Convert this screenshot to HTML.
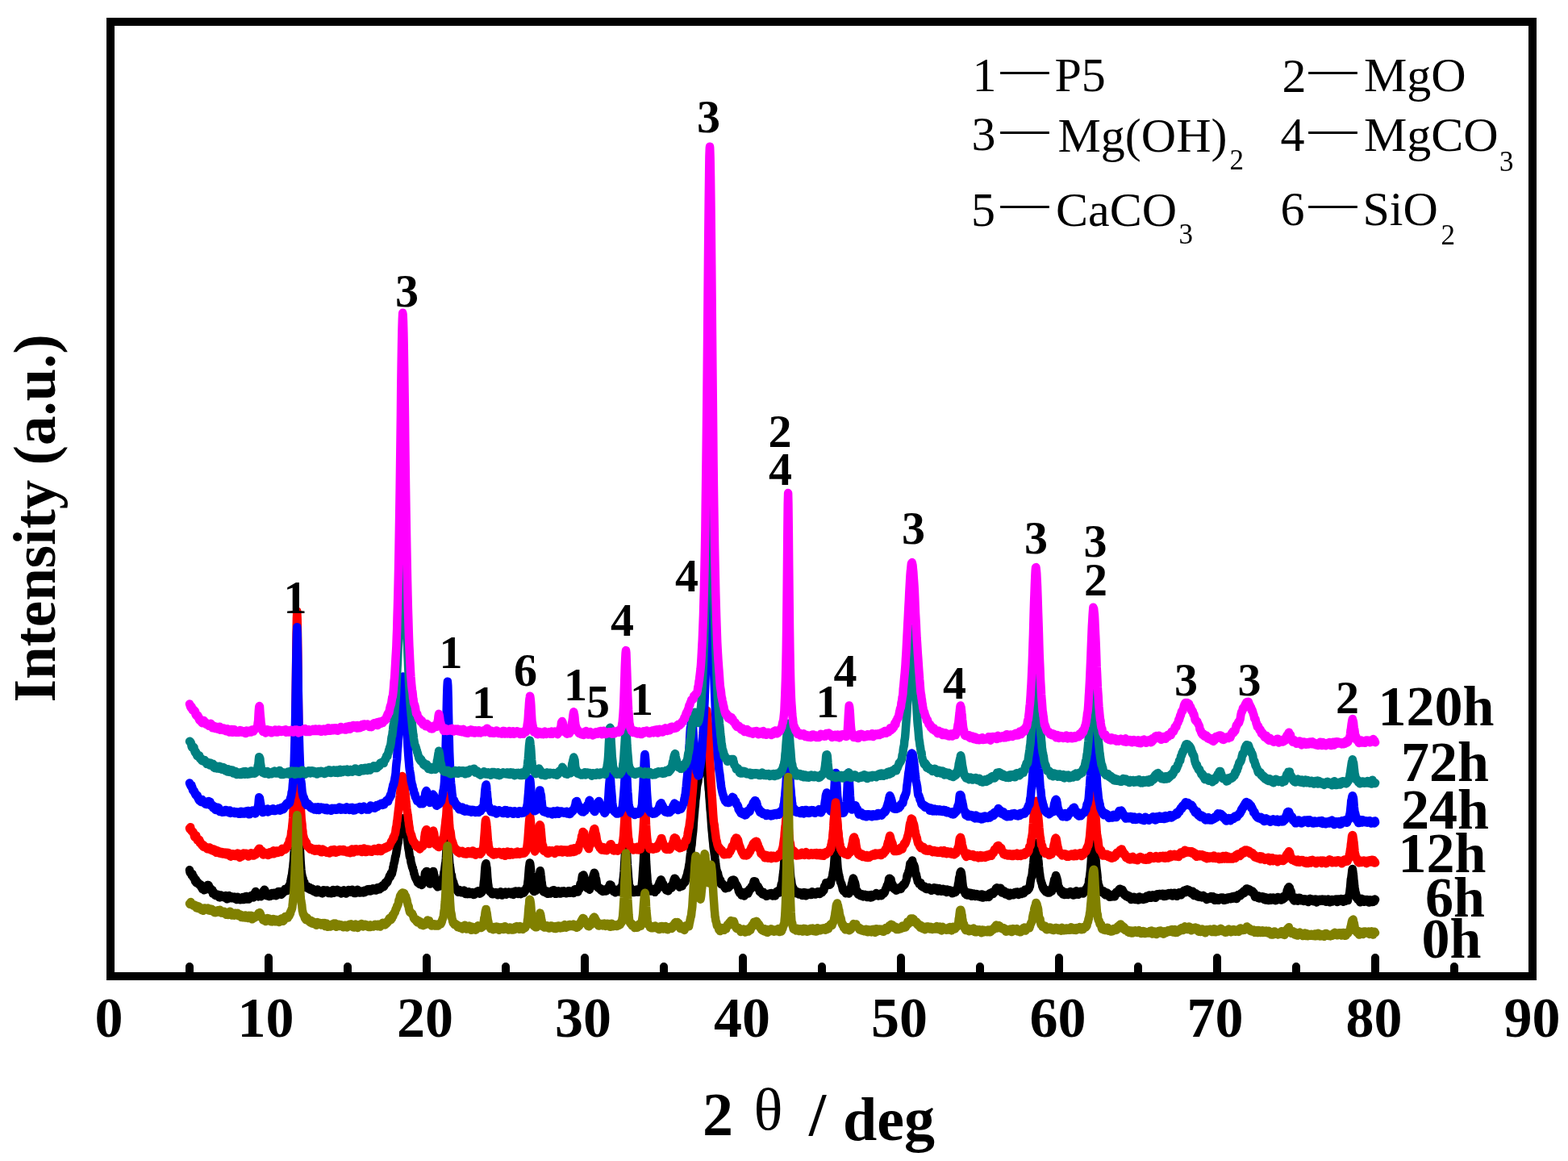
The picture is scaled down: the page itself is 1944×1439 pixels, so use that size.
<!DOCTYPE html>
<html><head><meta charset="utf-8"><title>XRD patterns</title><style>html,body{margin:0;padding:0;background:#fff;overflow:hidden}svg{display:block}</style></head><body>
<svg width="1944" height="1439" viewBox="0 0 1944 1439">
<rect width="1944" height="1439" fill="#fff"/>
<g fill="none" stroke-width="10.5" stroke-linejoin="round" stroke-linecap="round">
<path stroke="#000000" d="M235.0 1078.2l.4 2.4 .4 1.3 .4-.8 .4 .7 .4 .5 .4 1.3 .3 1.4 .4-1.3 .4-.6 .4 2.7 .4 .4 .4 1.6 .4-1.5 .4 1.1 .4 1.8 .4-.5 .4 2.5 .4 1.5 .3-2 .4-.7 .4 1.8 .4 2.5 .4-.3 .4-.4 .4 .8 .4-.9 .4 .4 .4 1.2 .4 .9 .4-.2 .4 0 .3 .1 .4 1.1 .4 0 .4-.7 .4 2.6 .4 .5 .4 .6 .4-1 .4 2.3 .4 .8 .4-1.9 .4-.2 .3 1.3 .4 .7 .4 1.2 .4-1.1 .4 .8 .4-.1 .4-1.4 .4 0 .4 .8 .4 0 .4-1.4 .4-.6 .4-2.5 .3-.6 .4 1.4 .4-.6 .4-.9 .4 1 .4 1.3 .4 .9 .4-.1 .4 .6 .4 .9 .4 1.7 .4 .3 .3 .1 .4 .6 .4-1 .4-.3 .4 2.3 .4 2.2 .4 0 .4-.6 .4-.9 .4 .8 .4 2.1 .4 .5 .4-.5 .3 1 .4-1.6 .4 .2 .4 1.8 .4-.4 .4-.5 .4-.8 .4 .6 .4 1.8 .4-2.2 .4 1.5 .4 1 .3 .8 .4 0 .4 .3 .4-.7 .4-.2 .4-.5 .4-1.4 .4 2.1 .4 0 .4-1.2 .4 .5 .4 .2 .4-.3 .3-.2 .4 .7 .4 .6 .4 .3 .4-.3 .4-1.6 .4-.1 .4-.2 .4 1.3 .4 1.7 .4 .6 .4 .4 .3 .2 .4-1.7 .4 1.2 .4 0 .4-2 .4-1.1 .4-.6 .4 2.3 .4-.5 .4-.8 .4 1.4 .4-.2 .4-1 .3-.2 .4 1.2 .4-.6 .4 .1 .4 1.5 .4 0 .4-.5 .4 .3 .4-1.3 .4 .5 .4 .5 .4-.6 .3-.5 .4 2.5 .4-.1 .4-1 .4 .8 .4 1.2 .4-2.1 .4-1.1 .4-.2 .4 1.9 .4-1 .4 1.3 .4 .6 .3-.2 .4-1.2 .4 1.9 .4 .3 .4-.8 .4-1.4 .4 .7 .4-.5 .4 .3 .4-.7 .4 .7 .4-1.6 .3-.1 .4 2.3 .4 .8 .4-1.6 .4 1.1 .4-1.4 .4 1.5 .4 0 .4-1.1 .4-1.1 .4-1.5 .4 2.3 .4-1.8 .3 1.8 .4 1.3 .4-.7 .4-1.7 .4 1.5 .4 1 .4-.4 .4-.9 .4-.9 .4-.6 .4-.8 .4 1.2 .3-.3 .4-1 .4-.9 .4 1.4 .4-.6 .4 .2 .4-.6 .4 1.4 .4 .6 .4-3 .4-1.3 .4-.6 .4 1.5 .3-.4 .4-2 .4-1.7 .4 .8 .4 1.2 .4 1.4 .4-.9 .4 1.8 .4 .5 .4-.1 .4 1.8 .4-1.5 .3 .9 .4-1.6 .4-.6 .4 2.3 .4-1.4 .4 1.2 .4-.1 .4 .6 .4-1.6 .4-1.1 .4-1.1 .4 1 .4-.8 .3 .3 .4-.4 .4-3 .4 0 .4-1.2 .4-.5 .4 .3 .4 3.3 .4 1.7 .4 1.3 .4-.8 .4 .6 .3 1 .4-.9 .4 .3 .4-1 .4-1 .4 .1 .4 2.2 .4 0 .4 1.2 .4-1 .4-1.2 .4 1.2 .4 .6 .3-2.4 .4 1 .4-1.5 .4-.7 .4 2.2 .4-1.8 .4-.2 .4 2.4 .4-.8 .4-1.5 .4-.6 .4 0 .3 1.6 .4-1.4 .4 2 .4-.8 .4 1.5 .4 .5 .4-1.8 .4-1.2 .4 .2 .4-1.3 .4 1.3 .4-1.6 .4-.9 .3 2.8 .4-1 .4 .5 .4-.3 .4-.7 .4-1.3 .4 2.2 .4 1.3 .4 .5 .4-2.7 .4-1.1 .4 .7 .3 1.6 .4-.9 .4 0 .4-.2 .4-1.5 .4 0 .4-.8 .4-.8 .4-1.1 .4 0 .4 2.2 .4-.8 .4 0 .3-.1 .4 .7 .4-1.8 .4-1.4 .4-.9 .4-.7 .4 1 .4 .4 .4-2.3 .4-1.4 .4-.5 .4-.7 .3-1 .4-2.3 .4-2.8 .4-1.6 .4-2.5 .4-.9 .4-3.5 .4-3.6 .4-2 .4-4.7 .4-3.7 .4-6.5 .4-6.5 .3-11.2 .4-11 .4-12.4 .4-17.9 .4-16.1 .4-20.7 .4-16.5 .4-11.6 .4-4.7 .4 3.1 .4 11.3 .4 18.3 .3 20.7 .4 16.7 .4 17.3 .4 11.6 .4 12.9 .4 7.1 .4 7.5 .4 8.2 .4 5.8 .4 4.9 .4 3.8 .4 2.7 .4 2.3 .3 .3 .4 1.8 .4 .7 .4 2.8 .4 1.8 .4-.1 .4-.2 .4 3.3 .4 1.4 .4 .2 .4 .3 .4 1.5 .3-.4 .4-.2 .4-.2 .4-.1 .4-.7 .4 1.9 .4 .2 .4 .8 .4-1.2 .4 .5 .4-.4 .4-.2 .4 .5 .3 2.2 .4-.3 .4 0 .4 .7 .4-.8 .4-1.2 .4 1.3 .4 .5 .4 .9 .4-.3 .4 .8 .4 .5 .3-1.3 .4 .2 .4 .1 .4-.8 .4 .2 .4 .7 .4 1.5 .4 .8 .4-1.7 .4 .4 .4-1.8 .4-.8 .4 1.1 .3 1.8 .4-1.5 .4 1.3 .4 1 .4-1.4 .4 .7 .4 .8 .4-1.2 .4 .5 .4 .4 .4-.2 .4 .7 .3 .5 .4 .5 .4-1.1 .4-1.8 .4-.7 .4-.5 .4 1 .4 1.1 .4-1.8 .4 1.2 .4 .8 .4-.9 .4 .1 .3-1.1 .4 1.4 .4-1.7 .4 2.4 .4 .6 .4-.4 .4-1.3 .4 1.5 .4 .9 .4-2.4 .4 1 .4 .8 .3-.3 .4 0 .4-.9 .4 1.2 .4 .8 .4-1.6 .4 .6 .4-.9 .4-1.4 .4-.1 .4-.8 .4 2.3 .4 1.3 .3-2.2 .4 .6 .4-.4 .4-1.2 .4 0 .4-.1 .4 1.6 .4-1.7 .4-.2 .4 .7 .4-1 .4 1.5 .3 .7 .4 1.1 .4-1.5 .4-.6 .4 .7 .4-.6 .4 .7 .4-.7 .4 1.1 .4 .9 .4 .5 .4 .8 .4-1 .3-.8 .4 .9 .4 .2 .4-.6 .4-1 .4-.8 .4-1 .4 1.9 .4-1.4 .4 1.4 .4 .1 .4 1.4 .3 0 .4 .8 .4-2.5 .4 0 .4 .2 .4-.8 .4 .3 .4-.4 .4 .4 .4-1.6 .4 .7 .4 .4 .4-.3 .3 .2 .4 1.3 .4 .4 .4-.5 .4 .3 .4-.8 .4-1 .4-1.1 .4 .3 .4 1.3 .4 1.5 .4 .7 .3-.8 .4 1.2 .4-1.2 .4 .7 .4-1.1 .4 .5 .4 1.2 .4-1.8 .4-1.4 .4 .9 .4 .1 .4-.5 .4-1.5 .3 .5 .4 .4 .4 .1 .4 1.6 .4-.1 .4 .4 .4 .8 .4-.2 .4-.9 .4 .4 .4-.2 .4-.1 .3-.1 .4-.8 .4 .3 .4 .2 .4 1.1 .4 0 .4 .2 .4-.2 .4 .1 .4-.7 .4-1.3 .4-.9 .4 1.1 .3 1 .4-.6 .4-1.6 .4 1.4 .4-.5 .4-.3 .4-1.6 .4 .8 .4 1.1 .4-.5 .4-.5 .4 .7 .3-1.8 .4 .7 .4 1.8 .4 0 .4-1 .4 .5 .4-.1 .4-1.5 .4-.7 .4 1.9 .4-1.2 .4-1.3 .4 1.9 .3-.1 .4-.7 .4 .1 .4 .8 .4-1.6 .4 .8 .4 .6 .4 .6 .4-1.7 .4 .3 .4-1.2 .4 .5 .3-1.2 .4 1.5 .4 .9 .4-1.5 .4-1.1 .4 1.8 .4 0 .4 .4 .4-2.7 .4 1.5 .4-.3 .4-1.2 .4-.4 .3 .8 .4 .4 .4-1.9 .4 .3 .4-1.5 .4 1.9 .4-1.1 .4 1 .4-.4 .4-.7 .4-1.7 .4-.2 .3-1.6 .4-1 .4 1.2 .4-.8 .4 .7 .4-1.7 .4 .6 .4-.1 .4-1.7 .4-1.8 .4-.3 .4-.2 .4-1.8 .3-1 .4-1.3 .4 .7 .4 .9 .4-2.3 .4-2.3 .4 .5 .4 .1 .4 0 .4-1.9 .4-2.5 .4-.3 .3-3.4 .4-.5 .4-3.1 .4-1.4 .4-1.3 .4-2 .4-2.8 .4-2.2 .4-.2 .4-2.4 .4-2 .4-3.5 .4-1.3 .3-3.2 .4-2 .4-1.3 .4-1.6 .4-5.4 .4-1.4 .4-1.8 .4-3.9 .4-3 .4-1.8 .4-.8 .4-3.1 .3-.6 .4-1.4 .4-3.2 .4 .6 .4-2.9 .4-1 .2 1.4 .2-1.3 .4 .7 .4 0 .4 1.8 .4 2.9 .4 2.6 .4-.7 .3 .9 .4 4.2 .4 .6 .4 2.4 .4 2 .4 2.2 .4 2.2 .4 4.5 .4 3.9 .4 3.1 .4 3.3 .4 2.2 .3 1.4 .4 2.7 .4 3.6 .4 1.7 .4 .5 .4 .6 .4 4.2 .4 1.9 .4 .9 .4 2.1 .4 1.7 .4 1.4 .4-.2 .3 1.6 .4 1.5 .4 .7 .4 3.2 .4 .5 .4 1.6 .4 1.4 .4 1.3 .4 .9 .4 1 .4-.8 .4 2.3 .3-1.2 .4 2.2 .4 1.2 .4 .9 .4-2 .4-.7 .4 2.4 .4 .2 .4-.1 .4 2.2 .4-1.9 .4 .8 .4 .2 .3-1 .4 .5 .4 1.2 .4 1.1 .4-2.5 .4 .2 .4-1.8 .4 1 .4-2.5 .4-2.3 .4-.8 .4-.3 .3-2.6 .4-3 .4 0 .4-.4 .4-.1 .2-1.6 .2-.2 .4 0 .4 2.2 .4 1.5 .4 1.9 .4 3.4 .4 3.1 .4 .9 .3-.8 .4 1.6 .4 .1 .4 1.7 .4-.5 .4-.5 .4-1.5 .4-2.3 .4-1 .4-1.7 .4-3.7 .4-3 .3-1 .4 .2 .4-.7 .4 1.4 .4 2.7 .4 .8 .4 4.1 .4 2.5 .4 .9 .4 1 .4 1.2 .4 .9 .4 2.2 .3 .3 .4 .4 .4-1.1 .4 2.1 .4-1.1 .4-.7 .4-1.3 .4 2.2 .4-.9 .4 .8 .4 .1 .4-.2 .3-1 .4-.6 .4-.8 .4-1.3 .4-3.6 .4-1 .4-1.1 .4 .1 .4-1.4 .4-1.9 .4-1.7 .4-3.2 .4-.7 .3-2.6 .4-3.5 .4-3.2 .4-1.9 .4-5 .4-7 .4-7.4 .4-5.9 .4-5.9 .4-1.2 .4 1.2 .4 6.5 .3 8.8 .4 5.1 .4 5 .4 5.8 .4 3.3 .4 2.4 .4 2.9 .4 3.6 .4 2.5 .4 .5 .4 1 .4 3.9 .4 1.9 .3 0 .4 2.8 .4-.9 .4 1.2 .4 2.7 .4 1.2 .4-.4 .4 2.1 .4 .4 .4 1.4 .4 1 .4-.8 .3 .6 .4 0 .4 1.6 .4 .4 .4 .2 .4 .5 .4 1 .4-2 .4-1 .4 1.4 .4 .9 .4-.3 .4-.2 .3-.4 .4 1.6 .4 .5 .4-.4 .4-2 .4 1.8 .4-.4 .4-1 .4-.2 .4 1.3 .4-1.6 .4-.4 .3 .4 .4 2.3 .4 .6 .4 1.2 .4-.9 .4-.3 .4-.2 .4-.2 .4 0 .4 .9 .4 1 .4-1.4 .4 .1 .3-1 .4-.6 .4 .5 .4 .5 .4 .1 .4 1.6 .4-2 .4 .6 .4 1.5 .4-.1 .4-.6 .4-.9 .3-.4 .4 1.6 .4 .7 .4-.4 .4 .6 .4 .4 .4-.1 .4-1.6 .4-.5 .4 .8 .4-1 .4 .8 .4-.5 .3-.7 .4 0 .4-1.2 .4 .3 .4 .3 .4-1.2 .4-.1 .4 .3 .4 2.1 .4 .1 .4-1 .4 1.9 .3-1.7 .4 0 .4 .7 .4 0 .4-1.1 .4 .4 .4-1.1 .4-.3 .4-1.5 .4 .1 .4-2 .4-4.5 .4-4 .3-1.4 .4-5.7 .4-6.3 .4-4.7 .4-3 .4-.3 .2-1.1 .2 .9 .4 3 .4 1.7 .4 5.5 .4 6.6 .4 3.7 .3 3.4 .4 2.2 .4 3.9 .4 2.7 .4-1.2 .4 1.3 .4 .4 .4 1.3 .4-1.1 .4 0 .4 .2 .4 .8 .4 1.5 .3 1 .4 .3 .4-.2 .4-2 .4 0 .4 .9 .4-.7 .4 .3 .4 1.5 .4-1.9 .4 1.6 .4-1.8 .3 .1 .4 1.8 .4-1.5 .4 .4 .4-.2 .4 1.5 .4 1.2 .4-1.9 .4-.2 .4 1.3 .4-.6 .4-1.4 .4 1.2 .3-.9 .4 .1 .4-1.6 .4 2.6 .4 .1 .4 1 .4 .6 .4-2 .4-.1 .4-.4 .4 .9 .4 .7 .3-1.7 .4-.7 .4 1.1 .4-.4 .4-1.2 .4-.4 .4 1.1 .4 .6 .4 1.6 .4-.7 .4-.1 .4-1.6 .4 .1 .3-.4 .4 1.2 .4-.9 .4-.6 .4 .2 .4 .5 .4-.2 .4 .7 .4-1 .4 1.8 .4 .3 .4-.4 .3-1.8 .4 0 .4 1.2 .4 .5 .4 .8 .4 .6 .4-1.6 .4-.2 .4-.7 .4-1 .4-.5 .4 .2 .4-.5 .3 1.2 .4 1.2 .4 .1 .4 .5 .4-1.3 .4-.8 .4 .9 .4 1.5 .4-.8 .4-1.9 .4-.8 .4 .5 .3 1.3 .4-1.2 .4-.1 .4 1.5 .4 1.8 .4-1.4 .4 .3 .4-.2 .4-1.8 .4 .1 .4-.6 .4 0 .4 1.7 .3 .5 .4-2 .4-.9 .4 1.6 .4-1.5 .4-.2 .4-.5 .4-1.4 .4-1.2 .4-.9 .4-.4 .4 .5 .3-2.2 .4-4.4 .4-2.9 .4-5.5 .4-4.7 .4-5.3 .4-2.2 .4-3.3 .2 .7 .2 .2 .4 2.9 .4 3.5 .4 5.5 .4 3.7 .3 4.8 .4 3.8 .4 2.7 .4 2.3 .4 1.6 .4 .8 .4 2.4 .4 .5 .4 .1 .4-1.6 .4 .8 .4-.8 .3-.3 .4 .4 .4 .4 .4-1.1 .4-.9 .4-.1 .4-1.1 .4-1.7 .4-3.3 .4-2.2 .4-2.1 .4-3.2 .4-3.3 .3-1.7 .4-1.5 .2-.3 .2-2 .4 1.4 .4 3.9 .4 2.2 .4 5.5 .4 1.5 .4 4.3 .4 .8 .4 3 .4 2 .3-.4 .4 1.9 .4-1.4 .4 1.8 .4-.6 .4-.1 .4-1 .4 1.1 .4-.5 .4 1.1 .4 1 .4-.1 .4-2.1 .3 2.2 .4 1 .4-.5 .4-1.1 .4 .1 .4 1.1 .4-.9 .4 .7 .4-.3 .4-.8 .4 1.4 .4-1.1 .3 .1 .4-1.8 .4 .5 .4-1.3 .4 1.7 .4-1.6 .4-.6 .4-.1 .4 0 .4 1.3 .4 .1 .4-.2 .4 2.3 .3 .9 .4-.5 .4 .3 .4 .2 .4-1.8 .4 .9 .4-1.4 .4 .4 .4-.6 .4-.9 .4 1.6 .4 1.3 .3-1.4 .4 1.2 .4-1.2 .4 .5 .4 1.3 .4-.1 .4-2.4 .4 0 .4-.2 .4-.3 .4 1.5 .4-.5 .4 .7 .3 .1 .4-.4 .4-1.7 .4 1.2 .4 1.3 .4-1.8 .4 .7 .4-.1 .4-.6 .4 .9 .4 1.4 .4-2.6 .3 1.7 .4-.9 .4 1.1 .4-1.7 .4 1 .4-1.7 .4 0 .4 2.2 .4 0 .4 .4 .4-.9 .4-.4 .4-.2 .3 .9 .4 .3 .4-1.7 .4 0 .4 .3 .4 .2 .4 1.4 .4 .3 .4-2.2 .4-.4 .4-1.1 .4-.8 .3-.3 .4 .1 .4 2 .4 .6 .4 .7 .4-1.5 .4-1.3 .4 2 .4 .4 .4 .4 .4-3.2 .4-.6 .4 .2 .3 .1 .4 .1 .4-1.7 .4-2.1 .4-3.1 .4 .3 .4-.1 .4-1.4 .4-2.4 .4-3.2 .4-2.7 .4 0 .3 .3 .4 .3 .4-2 .4 1 .4 1.2 .4 1.2 .4 2.9 .4 2.8 .4 1.6 .4 1.4 .4 1.3 .4 1.1 .4 .5 .3-.4 .4 1.9 .4-1.1 .4 1.3 .4-.2 .4 .5 .4 .5 .4-.5 .4 1.3 .4-2.2 .4-2.2 .4 1.7 .3-1.9 .4-1.7 .4-1.2 .4-.8 .4 0 .4-2 .4-3.2 .4-1.8 .4-2 .4-1.3 .4-1.1 .4-1.3 .4 .6 .3 1 .4 .8 .4 3.5 .4 1.2 .4 .9 .4 2.7 .4 3.2 .4 2 .4 1.1 .4 1.3 .4-.2 .4-.5 .3 .5 .4 .7 .4 .3 .4 1 .4-.5 .4-.2 .4 .4 .4 0 .4 2.2 .4 .2 .4-1 .4 .3 .4 1.7 .3-.1 .4-.2 .4-.6 .4-.9 .4 .9 .4-1.3 .4 1.7 .4-1.7 .4 1.5 .4-.5 .4 .7 .4-.1 .3-1.7 .4 .4 .4-1.6 .4-.5 .4-.1 .4-.8 .4 .3 .4 .7 .4-2.4 .4 .1 .4-2.3 .4 .6 .4-.5 .3 .9 .4-.4 .4 2.8 .4-.1 .4 1.1 .4 .3 .4 2.1 .4 .5 .4 .4 .4 .8 .4-1.3 .4-1.3 .3 2.1 .4-.7 .4 1.3 .4 1.2 .4-.6 .4-2 .4 1.5 .4 0 .4-1.3 .4-.8 .4 .6 .4-1.1 .4 2.1 .3 .3 .4 .5 .4-1.3 .4 1.1 .4-2.3 .4 .7 .4-1.5 .4-1.8 .4-.9 .4-.6 .4 1 .4-1.6 .3-1.5 .4-1.6 .4-3.8 .4-2.8 .4-4 .4-4.4 .4-7.3 .4-6.2 .4-6.3 .4-6.4 .4-5.6 .4-2.7 .4 .4 .3 6.1 .4 4.7 .4 7.8 .4 7 .4 5 .4 5.4 .4 6.6 .4 3.6 .4 4.2 .4 2.8 .4-.8 .4 2 .3-.8 .4 1.2 .4 .8 .4 2.3 .4 .1 .4-1.3 .4 .6 .4 .3 .4-.8 .4 .1 .4 1.9 .4 1.3 .4 0 .3-2.5 .4 1.7 .4-.7 .4 1 .4-1.8 .4-1 .4 2.1 .4-1.1 .4-1.4 .4 .8 .4 2.1 .4 .4 .3-1.3 .4 1.3 .4-.1 .4 0 .4-.9 .4-1.4 .4 .7 .4-1.5 .4 .4 .4-1.8 .4-.6 .4-2.9 .4-3.2 .3-3.1 .4-5.2 .4-6.5 .4-5.8 .4-6.3 .4-9.4 .4-5.9 .4-4.8 .4-1.7 .4 .7 .4 6.7 .4 7.3 .3 7.3 .4 5.8 .4 7.3 .4 4 .4 6.5 .4 2.6 .4 2.2 .4 2.3 .4 1.9 .4 1.1 .4 .5 .4 .9 .4 1.4 .3-.6 .4-.1 .4 1.1 .4-2.1 .4-.5 .4 .3 .4-.2 .4 2.2 .4-1.4 .4-.8 .4 .2 .4 .8 .3 1.4 .4 1.2 .4 .1 .4-.9 .4-2.4 .4-1.3 .4 1.2 .4 1.1 .4-1.5 .4 1.4 .4-1 .4-.7 .4-.5 .3-2.6 .4-1.4 .4 1.4 .4-2.2 .4-2.3 .4-1 .4 .5 .4-1.6 .4-1.3 .4-.4 .2 .6 .2 1.2 .4-.6 .3 2.1 .4 2 .4 1 .4-1.5 .4 .5 .4 2.9 .4 1.5 .4-1.3 .4 .7 .4 .3 .4 1.7 .4-1.5 .4 .4 .3 1.8 .4 1.4 .4-2.1 .4 .8 .4 .7 .4 1.1 .4-1 .4 1.3 .4-2 .4-1.4 .4-.7 .4 1.2 .3-1.2 .4-.3 .4-.5 .4-1 .4 2.3 .4-1.3 .4 1.1 .4-.8 .4-2.5 .4 .5 .4-3.4 .4 1 .4-3.3 .3-1.3 .4 0 .4-2 .4 1.6 .4-1.3 .4 2.2 .4-1.1 .4 1.6 .4 .2 .4 .9 .4 1.6 .4 .7 .3 .7 .4 1.5 .4-.6 .4-.3 .4 1.7 .4-.5 .4 1.9 .4-.8 .4-.3 .4-1.8 .4-1 .4-.4 .4 1.4 .3 .7 .4 1.1 .4-1.5 .4-.1 .4-1.5 .4-2 .4-.2 .4 .6 .4 .2 .4 .1 .4-.7 .4-1.8 .3-1.5 .4-1.5 .4-1.5 .4-.7 .4-1.4 .4-.6 .4-2.5 .4-2.1 .4-.9 .4-2 .4-2.6 .4-2.5 .4-1.7 .3-2.9 .4-4.2 .4-3.5 .4-2.4 .4-4.9 .4-3 .4-1.9 .4-5.3 .4-4.1 .4-3.4 .4-3.2 .4-4.7 .3-5 .4-5.7 .4-5 .4-4.1 .4-5.3 .4-3.3 .4-6.4 .4-2.6 .4-3.2 .4-4.7 .4-4.9 .4-2.7 .4-1.7 .3-1.3 .4-1.3 .4-3.8 .4-3 .4-2.2 .4 1.2 .4-1.2 .4-3 .4-.3 .4 .1 .4-1.9 .4-3 .3 .2 .4-1.6 .4-3.3 .4-.5 .4-1.9 .4-1.4 .4-1.9 .4-1.7 .4-.7 .4-.2 .4-.1 .4 1.5 .4-1.3 .3 .5 .2 2.9 .2 .9 .4 2.1 .4 2.6 .4 1.7 .4 3.3 .4 3.2 .4 3.7 .4 7.1 .4 5.3 .4 5.7 .4 2.5 .3 6.4 .4 4.6 .4 5.6 .4 6.1 .4 3.5 .4 5.4 .4 5.8 .4 6.4 .4 4.3 .4 3.7 .4 4.9 .4 4.4 .4 3.1 .3 4.2 .4 2.9 .4 2.2 .4 3.6 .4 2.4 .4 4 .4 3.2 .4 4.1 .4 2.7 .4 2.4 .4 2.9 .4-.1 .3 1.2 .4 .9 .4 .7 .4 2.5 .4 1.8 .4 .2 .4 3.4 .4 2.3 .4-1.4 .4-.5 .4 .4 .4 2.8 .4 2.2 .3-1.2 .4-.5 .4 1.8 .4 .4 .4-.6 .4-.1 .4 .8 .4 .6 .4 .7 .4 1.4 .4-.2 .4-.1 .3-.1 .4 2.4 .4-1.1 .4 .6 .4-.1 .4-.5 .4-.1 .4-1.5 .4-.3 .4 1.2 .4 .8 .4-1.6 .4-1.3 .3 1.6 .4-2.3 .4 .9 .4 .3 .4-2.7 .4 .7 .4-2.4 .4-1.9 .4-.4 .4-.2 .4 .5 .4-.3 .3 1.1 .4 .2 .4-1.6 .4-.3 .4 2.1 .4-.8 .4 3 .4 1.4 .4-.8 .4 .3 .4 .5 .4 1.3 .4 .5 .3 0 .4 1.1 .4 .7 .4 1.2 .4 1.3 .4 2.3 .4 .7 .4 .5 .4 1.2 .4-.8 .4-.1 .4-.5 .3 1.8 .4 1.2 .4 .9 .4-.6 .4-1.9 .4-1 .4 2 .4 1.4 .4-.6 .4 1.1 .4 .5 .4-.3 .4-1.5 .3-.5 .4-.7 .4-.2 .4 .1 .4-1.6 .4-.5 .4-.3 .4 1.1 .4 1.5 .4 0 .4-2.1 .4-.2 .3 .2 .4-1.9 .4-1.4 .4 .8 .4-1.2 .4 .4 .4-1.9 .4 1 .4-1.8 .4-1 .4-.5 .4 .4 .4-.1 .3-.7 .4-1.2 .4-2.9 .4-1.3 .4 .4 .4 1.8 .2 .1 .2-1.8 .4-.1 .4 2.2 .4-.1 .4 1.6 .4 1.2 .3 .7 .4 .4 .4 .7 .4-.2 .4-.5 .4 3 .4-1.2 .4 .6 .4 1.8 .4 2.4 .4-1.1 .4-.2 .4 2.2 .3-.5 .4 .2 .4 .1 .4-.8 .4 2.7 .4 .6 .4-1.9 .4-.5 .4-.1 .4 .8 .4 2.3 .4-1.4 .3-.3 .4 .1 .4 .8 .4 1.8 .4-.4 .4 1.1 .4-.6 .4-.7 .4 1.2 .4-.4 .4-.6 .4-.1 .4-.6 .3-.1 .4-1.2 .4-.2 .4 1.8 .4-1.2 .4-.4 .4-.4 .4 .5 .4-.8 .4 .6 .4 1.1 .4 .8 .3 1 .4-2.2 .4 .8 .4-1.2 .4-.1 .4 .7 .4 1.1 .4 0 .4 1 .4-2.9 .4-.5 .4 .3 .4-1.5 .3-.8 .4 .5 .4 .8 .4-1.2 .4-1 .4 .2 .4 1.3 .4-.2 .4 1.1 .4-1.2 .4 0 .4-1.5 .3-1.6 .4-1.6 .4-2.7 .4-2.2 .4 0 .4-.5 .4-4.5 .4-3.3 .4-3 .4-3.9 .4-2.8 .4-6.4 .4-6.5 .3-6.6 .4-6 .4-9.5 .4-7.8 .4-9.4 .4-5.8 .4-2.3 .4-3 .4 1.2 .4 5.1 .4 6.4 .4 7.8 .3 8.4 .4 8.5 .4 6.6 .4 6.6 .4 6.1 .4 5.8 .4 4.9 .4 5.1 .4 2.3 .4 2.4 .4 3.5 .4 3 .4-.3 .3 2.1 .4-.1 .4 2.1 .4-1 .4 1.4 .4 1.2 .4 1.2 .4 1.6 .4 .6 .4-.4 .4-.3 .4-1.6 .3 1.1 .4 .7 .4 1 .4-1.4 .4 .8 .4-1.3 .4 1.6 .4 1.2 .4-.7 .4 .6 .4 .2 .4-1.1 .4-1.2 .3 1.6 .4-.5 .4-.9 .4 .5 .4 1.6 .4 1.2 .4-.7 .4 1 .4-2.2 .4 0 .4-1.6 .4-.1 .3 2.2 .4-1.7 .4 1.1 .4 .1 .4 1.7 .4 .8 .4-2.5 .4-.8 .4 2 .4-1.2 .4-1.1 .4 1.9 .4 0 .3-1.1 .4 .2 .4-.3 .4 0 .4 .3 .4-1.2 .4 .9 .4 1.6 .4-.4 .4 .4 .4-1.5 .4-1.2 .3-1.1 .4 2.8 .4-1.6 .4 .1 .4 1 .4 .7 .4 0 .4-.7 .4 1 .4-.8 .4 .9 .4-2.2 .4 1.1 .3-1.5 .4 .2 .4 .2 .4-.8 .4 .5 .4 1.6 .4-2 .4-.5 .4 2.4 .4-.7 .4-.6 .4 1.5 .3 .1 .4-2 .4 .3 .4-1.3 .4 1.2 .4-.3 .4 .5 .4-2.4 .4 1.5 .4-1.8 .4 .8 .4-1.3 .4 .4 .3-2.9 .4-2.1 .4-.2 .4 .9 .4-1.7 .4-1.1 .4-2.1 .4 0 .4-.4 .4 1.3 .4 .4 .4-.5 .3-1.2 .4-.3 .4 2.8 .4 .2 .4-1.1 .4 1.3 .4-1.5 .4-.2 .4 .9 .4-2.5 .4-1.9 .4-1.7 .4-1.3 .3-.7 .4-1.5 .4-2 .4-3.2 .4-1.6 .4-2.8 .4-2.7 .4-5.7 .4-5.5 .4-7.7 .4-6 .4-6.2 .2-.5 .1 .6 .4 4.3 .4 6.8 .4 6.7 .4 4.9 .4 5.9 .4 4.9 .4 2.3 .4 2.6 .4 2.6 .4 .9 .4 2.3 .4 1.6 .3 1.6 .4 1.3 .4 1.7 .4 .5 .4 .8 .4 .9 .4 2.2 .4 .4 .4 2.3 .4 2 .4 .8 .4-.7 .3 1.9 .4-.8 .4-.1 .4 .9 .4 .8 .4-.3 .4 1.3 .4 .9 .4-1.4 .4-.8 .4 .2 .4 1.1 .4 .5 .3-1.5 .4-.2 .4 1.6 .4 .8 .4-1.1 .4-.2 .4-.3 .4-2.7 .4-2.4 .4-.1 .4-1.5 .4-.5 .3-2.5 .4-1.6 .4-.4 .4-3.2 .4-1 .4-1.5 .4 .7 .4 1.5 .4 2.2 .4 1.2 .4-.5 .4 1.7 .4 2.1 .3 2.2 .4 2 .4 2.6 .4 1.8 .4-1.2 .4-.4 .4 2.9 .4-1 .4 2.4 .4-1.5 .4 1 .4-.9 .3-.3 .4 .6 .4 1.9 .4 .7 .4-.9 .4-1 .4 .3 .4-.4 .4 0 .4 .9 .4 .5 .4 1.7 .4-1.9 .3 .6 .4 .4 .4-1.2 .4 .1 .4-.6 .4 2.2 .4-.7 .4-1.3 .4 .8 .4 .5 .4 1.6 .4 .2 .3-1.7 .4 1.6 .4-2.2 .4 1.2 .4-1.6 .4 1.9 .4-1.2 .4 1.4 .4 .7 .4 .2 .4-2.2 .4-.1 .4-1.1 .3 1.5 .4 1.7 .4-.8 .4 0 .4 .1 .4-1.8 .4-.2 .4-.2 .4 1.3 .4-.6 .4-.4 .4 .4 .3-1.1 .4-1 .4 0 .4-.8 .4 1.8 .4 .1 .4 .6 .4 .1 .4-1.8 .4 1.7 .4 .8 .4-2.4 .4 .1 .3 1.3 .4-.7 .4 1.1 .4 0 .4-.2 .4 .6 .4-.1 .4-.9 .4-2.3 .4 .2 .4 .8 .4-.3 .3-.1 .4-.9 .4 1 .4-1.6 .4 .3 .4-.8 .4-1.6 .4-1.6 .4-.8 .4-.3 .4-.1 .4-2.1 .4-1.7 .3 .9 .4 .2 .4-2.6 .4-2.1 .4-1.4 .4-3.1 .4-.5 .4 0 .4 1 .4-.2 .4 .1 .4 .3 .3 2.7 .4 .8 .4 1 .4 2.1 .4 .6 .4-.4 .4 2 .4 2.3 .4-.3 .4-.8 .4-.3 .4 2.8 .4-1.3 .3 1.3 .4-1.3 .4 .8 .4 1.8 .4-1.4 .4-.5 .4 .7 .4 .2 .4-.1 .4-.6 .4-1.6 .4 1 .3-.7 .4 .7 .4-.4 .4-.9 .4 1.9 .4-1.5 .4 1.3 .4-1.1 .4-.6 .4-1.3 .4-1.2 .4 1.1 .4-.6 .3-.1 .4-1.7 .4 0 .4 .2 .4 .1 .4-.7 .4-1.6 .4-.3 .4-1 .4-1.4 .4-.8 .4-2.2 .3-2.5 .4-1.8 .4 1.2 .4-.5 .4-1.4 .4-3.4 .4-.7 .4-1.4 .4-2.4 .4-2.8 .4-2.8 .4 1.1 .4 0 .3-.9 .4-1.9 .4-.1 .2 .7 .2-.8 .4-1.6 .4 2.6 .4 .4 .4 1.7 .4 1.2 .4-.5 .4 2 .4 .3 .3 1.9 .4 4.1 .4 2 .4 1.3 .4-.1 .4 2.5 .4 1.7 .4 1.5 .4 1.4 .4 2.1 .4-.2 .4 .8 .4 .6 .3 .8 .4 1 .4-.9 .4-.6 .4 .1 .4 0 .4 1.9 .4 .3 .4 1.9 .4-1 .4-.4 .4 2.3 .3-1.3 .4 .3 .4 1.4 .4 .3 .4-.7 .4-.8 .4 1.2 .4-.5 .4 1.9 .4-1 .4 1.8 .4-2.2 .4 1 .3-.6 .4 .3 .4 .1 .4 1.4 .4-1.5 .4 1.3 .4-1.8 .4 1.1 .4 1.3 .4-.8 .4 1.1 .4-1.1 .3-.6 .4 1.7 .4 1.1 .4-.2 .4-1.9 .4 1.4 .4-1.2 .4 1.1 .4-1.3 .4-1 .4-.4 .4 1.3 .4 1.6 .3-.7 .4-1.8 .4 1.1 .4 1.2 .4 .4 .4-2.5 .4-.1 .4 1.5 .4 .6 .4 1.3 .4 .4 .4-.2 .3-.4 .4-1.2 .4-1.7 .4 1.6 .4-.2 .4 1.4 .4-1.8 .4 1.6 .4 .1 .4 .9 .4-.1 .4-1 .4-.1 .3-1.5 .4-.2 .4 1.1 .4-.8 .4 .2 .4 1.2 .4 .4 .4 1.3 .4-.9 .4 0 .4-.5 .4 1 .3 .1 .4 1.1 .4-2.1 .4-1.1 .4 .1 .4 1.1 .4 .7 .4-1.1 .4-.3 .4 1 .4-.6 .4 1.6 .4-1.6 .3 1.6 .4-1.4 .4 1.3 .4 .8 .4 1 .4 .4 .4-2.8 .4 .8 .4 1.2 .4 .2 .4-1 .4 .4 .3-1.4 .4 1 .4-.9 .4 1.3 .4-2.7 .4 .4 .4-1.7 .4 1 .4 .8 .4-1.9 .4-.4 .4-3.2 .4-3.3 .3-.3 .4-2.8 .4-3.9 .4-1.2 .4-.9 .4-3.8 .4-.1 .2-.6 .2-1.2 .4 .5 .4 1.5 .4 3.2 .4 3 .3 3.7 .4 3.3 .4 3.4 .4 2.5 .4-.4 .4 1.9 .4 2.2 .4-.7 .4 1.1 .4 2.1 .4 0 .4 .4 .4-1.1 .3 2 .4 .5 .4-1.4 .4-.7 .4-1.3 .4 1 .4 1.9 .4 .7 .4-1.8 .4-.5 .4-.5 .4 .1 .3-.1 .4-.1 .4 1.3 .4 1.9 .4 .8 .4-.4 .4-1.2 .4 1.5 .4-1.6 .4-1.4 .4 0 .4 1.9 .4 .8 .3-1 .4-.7 .4 1 .4 .2 .4 1.1 .4-.7 .4-1.5 .4-.7 .4 .1 .4 1.2 .4 1.2 .4 .1 .3-1.8 .4 2.4 .4-.5 .4 .1 .4-1.1 .4-.4 .4-.2 .4 1.2 .4 1.7 .4-1.4 .4-.3 .4-.4 .4-1 .3-.5 .4 2.3 .4 1.9 .4-2.2 .4-1 .4 .8 .4-.1 .4-.3 .4 1.9 .4-1.3 .4-.8 .4 2.1 .3 0 .4 .2 .4-.1 .4-2.2 .4 2.1 .4-2.3 .4-.5 .4 .6 .4 1.4 .4 1 .4-2.7 .4-1 .4-1 .3-.2 .4 2.4 .4-1.7 .4 .6 .4-1 .4-1.2 .4 .1 .4-.1 .4 .7 .4 1.3 .4-.7 .4-.5 .3-1.3 .4-1.3 .4 .2 .4-.4 .4 1.3 .4-1.9 .4-1.8 .4-1 .4 .2 .4-.4 .4 .3 .4 1.7 .4 .2 .3-.3 .2 .7 .2 .5 .4-2.5 .4 .9 .4-1.3 .4 .5 .4 .3 .4-.1 .4-.6 .4 .3 .4 2.2 .4 2 .3 1.1 .4-2.3 .4 .8 .4-.7 .4 .9 .4 .6 .4-.8 .4-.6 .4 1.1 .4-.8 .4 2.3 .4 1.4 .4-2.2 .3 1.6 .4 1 .4-2.2 .4 .8 .4 0 .4-1 .4 1.7 .4 .1 .4 .8 .4 .8 .4 .6 .4-.8 .3 .3 .4-2.6 .4-.3 .4 .2 .4 .3 .4-.4 .4 1.3 .4-.1 .4 .8 .4-1 .4 1.2 .4-1.4 .4 1.4 .3-.7 .4-1.1 .4 .3 .4-1.6 .4 1.1 .4 .3 .4 .8 .4-2.1 .4 0 .4 .7 .4-1.5 .4 1.6 .3 1.3 .4-.3 .4 .3 .4 .7 .4-1.3 .4-.5 .4 1.1 .4-.3 .4-1.5 .4 .3 .4 .7 .4 .6 .4-2.2 .3-1 .4 1.3 .4 .6 .4 .4 .4-.7 .4-.8 .4 1.5 .4-1.7 .4-.9 .4-1.4 .4-.5 .4 1.4 .3 .7 .4-1.3 .4 1 .4-1.6 .4-.3 .4 .5 .4 .5 .4-1.1 .4 .3 .4-1.3 .4-.4 .4 0 .4-1.5 .3-1.3 .4 0 .4-3.8 .4-2.8 .4-2.3 .4-1.3 .4-1.1 .4-1.6 .4-2.1 .4-5 .4-1.4 .4-4.9 .3-2 .4-5.2 .4-3.1 .4-3.9 .4-6 .4-2.6 .4-2.7 .4 .4 .4-2.1 .4 .3 .4 .7 .4 1.4 .4 4.5 .3 4.7 .4 2.9 .4 5.9 .4 2.8 .4 5.7 .4 3.7 .4 4.4 .4 1.7 .4 3.5 .4 2 .4 2.3 .4 1 .3 1.6 .4 .6 .4 1.1 .4 3 .4-.9 .4 2.5 .4 1.3 .4-1.1 .4 .7 .4 1.9 .4 0 .4 .3 .4 .2 .3-.9 .4 2.5 .4 .5 .4-1.2 .4-.3 .4 1.1 .4 1.2 .4-.4 .4-1.1 .4-.3 .4 .5 .4 1.4 .3 0 .4-1.7 .4-1.6 .4 1.3 .4-.8 .4 1.4 .4-1.9 .4 1.6 .4-.2 .4-2.4 .4-2.5 .4 .8 .4-2.6 .3-2 .4-1.1 .4-2.2 .4-2.3 .4-.4 .4-.5 .4-.3 .4-2.8 .4-1.3 .4 1.3 .4 2.2 .4 .1 .3 2.3 .4 .5 .4 3.9 .4 2.7 .4 2.3 .4-.1 .4-.5 .4 2.7 .4 .4 .4 .2 .4 .7 .4 1.5 .4 .9 .3-.3 .4-.7 .4-.6 .4-.5 .4 2.8 .4 1.6 .4-2.3 .4 .7 .4 1.7 .4-.5 .4 1.1 .4-2.2 .3 .8 .4 .9 .4-2 .4-.7 .4 2.1 .4-1.3 .4 .7 .4 1.3 .4 0 .4 .2 .4-1.5 .4 1.1 .4-1.9 .3 0 .4 .3 .4 .9 .4-1.9 .4-.8 .4 .6 .4-.4 .4 2.4 .4-.5 .4 .3 .4-.4 .4 1.3 .3 .8 .4 .3 .4-2.6 .4 .5 .4 .8 .4 .9 .4-.8 .4-.7 .4-1.4 .4-1.3 .4-.6 .4 .6 .4 1.8 .3-.2 .4 .3 .4-.8 .4 2 .4 .8 .4-1.9 .4-.5 .4-1.3 .4 .4 .4-.4 .4 1.4 .4-.7 .3 .8 .4-1.9 .4 1.4 .4 .3 .4-1.1 .4 1.1 .4 .7 .4 .4 .4-.6 .4-1.3 .4-.3 .4 .3 .4-1.5 .3 1 .4-.1 .4-.6 .4-.4 .4-2.9 .4 .8 .4-1.3 .4-.4 .4-.9 .4-1.8 .4-.7 .4-.8 .3-1 .4-5 .4-.8 .4-2.5 .4-3.7 .4-3.3 .4-5.3 .4-4.9 .4-6.3 .4-2.8 .4-4.4 .4-5.6 .4-4.3 .3-2.7 .4-4.1 .4-.3 .4 1.6 .4 2.2 .4 4.8 .4 2.6 .4 5.5 .4 5.9 .4 4.1 .4 6.3 .4 3.5 .3 2.7 .4 3 .4 3.7 .4 5.1 .4 3.4 .4 2.5 .4 1.3 .4 .7 .4 1.5 .4 1.1 .4 2.2 .4-.4 .4 .1 .3 1.6 .4 1.3 .4 .6 .4-1.4 .4 1.1 .4-.5 .4-.1 .4 0 .4-.7 .4 .2 .4 2 .4 1.6 .3-1.5 .4 2.2 .4-.5 .4 1 .4-2 .4-.8 .4 2.1 .4-1.3 .4-.8 .4 1.7 .4-1.1 .4 .7 .4 1.8 .3-1.5 .4 1.8 .4 1.1 .4 .8 .4-.8 .4 .4 .4-2.1 .4 .4 .4 1.2 .4 .6 .4-2 .4 1.2 .3-.9 .4-.1 .4 .9 .4 0 .4-1.2 .4 1.2 .4 .7 .4-.1 .4-2.7 .4-1.6 .4 .9 .4-1.3 .4-.9 .3 2 .4-2 .4-.5 .4-.4 .4 1.6 .4 .5 .4-.6 .4-1.7 .4-2.3 .4 1.5 .4-2 .4 .4 .3 .6 .4-.6 .4 1.2 .4 1 .4-1.2 .4 .9 .4-1.3 .4 .9 .4 1.6 .4-.2 .4 .6 .4 1.9 .4-.6 .3 2.4 .4-1.2 .4-.1 .4 1.4 .4-.4 .4 2 .4-.5 .4-.9 .4 1.5 .4 0 .4 .8 .4-1.3 .3-.8 .4 .5 .4 1.1 .4-.5 .4-.2 .4 2.1 .4-1 .4 0 .4 1.8 .4 1.3 .4 0 .4-2.2 .4 1.1 .3-1.7 .4 1.6 .4-1 .4-.7 .4 .5 .4-.8 .4 1.5 .4 1.2 .4 .2 .4 .5 .4-1.9 .4-.5 .3 1.7 .4-.9 .4 1 .4-.1 .4-1.4 .4-.6 .4 2.2 .4 .9 .4-.6 .4-2.3 .4-1.2 .4 2.5 .4 .8 .3 0 .4-1.5 .4 1.4 .4-2.2 .4 1 .4 .5 .4-.9 .4 1 .4-1.6 .4 1.7 .4 .8 .4-1.7 .3-.9 .4 1.1 .4-1 .4 .3 .4 .5 .4 1 .4-.1 .4-1.7 .4-.7 .4-1.3 .4 1.8 .4 1 .4-1.6 .3 0 .4-.5 .4-.5 .4-1.1 .4 1.3 .4 1.9 .4-1.8 .4 1.1 .4 .5 .4-.5 .4 .7 .4-1.1 .3 .1 .4-1.8 .4-.7 .4 1.1 .4 1.4 .4-.6 .4 1.2 .4-.9 .4-.8 .4 .9 .4 .8 .4 .4 .4-.7 .3-1.9 .4-.7 .4 .5 .4-1.6 .4 .1 .4 1.7 .4-1 .4 .8 .4-.8 .4-1.1 .4 .2 .4 0 .3-.2 .4 0 .4 2 .4-.2 .4-.4 .4-1 .4-.4 .4 1.6 .4-.8 .4-1.1 .4 .3 .4 1.2 .4 1.5 .3 .3 .4-.9 .4-1.6 .4 1.7 .4-2.1 .4 .9 .4 1.7 .4-1.4 .4 .1 .4-.7 .4 0 .4-1.1 .3 1.2 .4 .9 .4-1.5 .4-1.1 .4 .2 .4 .5 .4 .5 .4 1.2 .4-.1 .4-1.7 .4-.9 .4 1 .4-.4 .3 1.9 .4 .8 .4 .5 .4-.4 .4-1.6 .4 1.2 .4-1.1 .4-1 .4-1 .4 .7 .4 2.2 .4 .2 .3 0 .4-1 .4-.4 .4 1.4 .4 1 .4-1.8 .4-.1 .4-.5 .4-1.2 .4 .4 .4-1.3 .4 1.6 .4-.5 .3 .5 .4 .6 .4-1.6 .4 1.6 .4 .8 .4-1.4 .4-2.1 .4 .7 .4 .5 .4-1.4 .4 1.1 .4-1.2 .3-.7 .4-1.1 .4 1.3 .4 1 .4 .3 .4-1.3 .4-.6 .4-1.2 .4-.2 .4 .1 .4 0 .4-.6 .4 .9 .3-.8 .4 1.3 .4-1 .4 .8 .4-.5 .4 .1 .4 1.9 .4-1.1 .4 2 .4 .7 .4 .3 .4-.1 .3 .7 .4-1.3 .4 .1 .4-1.1 .4-.6 .4 1.3 .4 1.4 .4 2 .4 .6 .4-2.2 .4 1.9 .4-.8 .4-.2 .3-.9 .4-.6 .4 1.1 .4 .8 .4 1.6 .4 .2 .4-1.4 .4 .7 .4 1.2 .4-1.3 .4-.4 .4-.3 .3 2.4 .4-1.6 .4 .9 .4-.4 .4 1 .4-.1 .4-1 .4 1.7 .4-.2 .4-1.8 .4-.2 .4-.3 .4 .5 .3-.3 .4 1.5 .4 .7 .4-.4 .4-.6 .4 1 .4-.3 .4 1.2 .4 .9 .4 0 .4 .8 .4-1.8 .3 1.1 .4-1 .4 1.1 .4-.3 .4-1.2 .4-.7 .4 1.7 .4-.4 .4-1.3 .4 .8 .4-1.1 .4-.7 .4 .3 .3 1.9 .4-1 .4 1.8 .4-1.9 .4 .1 .4-1.1 .4 1.8 .4 .7 .4 .9 .4 .6 .4 .6 .4-1.3 .3-.8 .4 .4 .4-.2 .4-1.1 .4 .3 .4 0 .4 1.7 .4-1.8 .4 1.2 .4 .6 .4 1 .4-.7 .4 .2 .3-1.9 .4 1.6 .4-2 .4 1 .4-1.3 .4-.2 .4 1.5 .4-.3 .4 .9 .4-1.2 .4-1 .4 .4 .3 .7 .4 1.4 .4 .8 .4-1.2 .4 1.3 .4-.7 .4-1.6 .4 .3 .4 .7 .4 .6 .4-1.9 .4 2 .4-.5 .3-2.1 .4-.2 .4 1.8 .4-1.8 .4 0 .4 1.2 .4-1.3 .4 1.4 .4 .2 .4-1 .4 1.3 .4-1.9 .3-.6 .4 1.6 .4 .3 .4-1.3 .4 0 .4 1.4 .4-1.6 .4-1.2 .4 .8 .4-.6 .4 1.2 .4-.9 .4-.7 .3 1 .4 1.6 .4-.7 .4 1 .4 .5 .4-.6 .4-1.1 .4-1.3 .4-1.7 .4 .5 .4-1 .4 .7 .3-.3 .4 .2 .4 0 .4-.2 .4 1 .4-.9 .4-2.1 .4 1.4 .4 0 .4-1.4 .4-.6 .4-.1 .4-.8 .3 .4 .4 1.1 .4-2.8 .4 1.4 .4 .8 .4-.2 .4-1.5 .4-.2 .4-.9 .4-.8 .4-1.2 .4-.5 .3 .7 .4-.3 .4-.4 .4 1.3 .4-.5 .4 1.8 .4-1.6 .4-.2 .4 .7 .4-.2 .4 2.1 .4 .1 .4-1.3 .3 .1 .4 1.8 .4-.2 .4 0 .4-.1 .4-.6 .4 2.5 .4-.1 .4-.2 .4-.4 .4 1.3 .4 1.6 .3 1.6 .4 .9 .4-2.6 .4 .5 .4 .3 .4 .5 .4-.1 .4 1.8 .4-.2 .4-.5 .4 1.6 .4-.7 .4-1.9 .3 1.2 .4 1.8 .4-.1 .4-1.6 .4 1.5 .4-2 .4 1.9 .4-1.5 .4 1.7 .4-1.3 .4-.8 .4 0 .3 .9 .4 1.2 .4-.1 .4-1.4 .4 2.2 .4 .8 .4-1.2 .4-1.7 .4 .5 .4 2.1 .4 1 .4-2.1 .4-.9 .3 2.2 .4-1.1 .4 .7 .4 1.2 .4 .2 .4 .1 .4-.7 .4 .4 .4-1.7 .4 1.4 .4-1.7 .4-1.1 .3 1.7 .4 1.6 .4 0 .4-.5 .4-2 .4 .5 .4-1 .4 .8 .4-.1 .4-.9 .4 .9 .4 1.3 .4 .4 .3-1.8 .4 1.9 .4 .9 .4-1.5 .4 1.3 .4-2 .4-.2 .4 1.3 .4-1.9 .4 .1 .4-1.2 .4 0 .3 .5 .4 1.9 .4 .3 .4-1.7 .4 1.5 .4 .6 .4-1.2 .4-1.1 .4 1.4 .4 1.3 .4-1.8 .4-.6 .4-.3 .3 1.9 .4-2.2 .4-1.4 .4-.2 .4 .7 .4 1.8 .4-2.5 .4 1.1 .4-.8 .4 .5 .4-.1 .4-1.4 .3-2.9 .4 .1 .4-3.7 .4 .9 .4-2.2 .4-1.9 .4 .8 .4-.9 .2-.6 .2-.6 .4 .5 .4 .3 .4 1.7 .4 1.3 .3 .8 .4 .2 .4 1.2 .4 3.2 .4 1.8 .4 2.1 .4-1.3 .4 2.2 .4 1.2 .4-1 .4 1.7 .4 1 .3 .2 .4-.8 .4 .7 .4-2 .4-1 .4-.5 .4 1.7 .4 1.8 .4-1.7 .4-1 .4 2.1 .4 1 .4-2 .3-1.3 .4 .2 .4 .1 .4-.9 .4 .1 .4 2.4 .4-1.5 .4 .7 .4 1.2 .4 .6 .4-1.1 .4-1.1 .3 .5 .4 0 .4 .3 .4-.4 .4 .5 .4 1.9 .4-2.3 .4-.4 .4 1.9 .4-.2 .4 .8 .4-1.9 .4 2.1 .3-2.3 .4 1.6 .4-1.1 .4 1 .4 .9 .4 .2 .4 .8 .4-2 .4 1.1 .4-.2 .4-1.6 .4-.7 .3-.8 .4 2.4 .4-.7 .4-.4 .4-.9 .4 1.9 .4 .1 .4-1.2 .4 1.5 .4-.2 .4 .8 .4 .1 .4-.8 .3-.7 .4 1.5 .4-1.7 .4-1.1 .4 2 .4 .4 .4 1.1 .4-.6 .4 1.1 .4-1.4 .4-2 .4 1.1 .3-.9 .4 .1 .4-.1 .4-.1 .4 .5 .4 .6 .4-1.5 .4 2.1 .4-.9 .4 .9 .4-.8 .4-1.2 .4 .1 .3-.3 .4 .1 .4 1.3 .4 .7 .4-1.3 .4 1.1 .4 .3 .4-1.4 .4 .7 .4-1.4 .4 1.3 .4-.7 .3 .8 .4 1.6 .4 0 .4-.5 .4-.2 .4-1.2 .4 .2 .4-1.4 .4 .9 .4 2 .4-.6 .4 .5 .4 .8 .3-.7 .4-1.8 .4 1.9 .4-.6 .4-.6 .4-1.5 .4 1.4 .4 1.2 .4-.5 .4-1.4 .4 1 .4-1.2 .3-.1 .4-.4 .4 .8 .4 .8 .4 .1 .4-1.3 .4-.4 .4-.3 .4 .9 .4 2 .4-.1 .4 .6 .4-2.2 .3-1.4 .4 1.1 .4-.6 .4 .1 .4 1.4 .4-1.5 .4 2 .4-.7 .4 .3 .4-1.7 .4-.8 .4 1.7 .3-1.4 .4 1.4 .4-.4 .4-.3 .4 2.1 .4 .7 .4-1.6 .4-.5 .4-.6 .4-1 .4 2.3 .4 .1 .4 .2 .3-1 .4-1.3 .4 .6 .4-1.1 .4 1.5 .4 .6 .4 0 .4-2.9 .4-1.8 .4 .4 .4-1.9 .4-1.8 .3-1.6 .4-4 .4-3 .4-4.8 .4-4.8 .4-1.3 .4-3.3 .4-3.4 .4-3.6 .4-1.2 .4 2.7 .4 3.4 .4 2.7 .3 4.5 .4 2.7 .4 4.7 .4 3.6 .4 1.4 .4 4.1 .4-.2 .4 1.5 .4 2 .4 2.9 .4-.2 .4-.7 .3 1.9 .4 1 .4-1.3 .4 1.4 .4-.2 .4 0 .4 1.9 .4 .6 .4 .8 .4-.5 .4-1.3 .4-.7 .4-1.1 .3-.8 .4 1.2 .4-.7 .4 1.2 .4-.7 .4 .6 .4 1.7 .4-.6 .4 1.2 .4-1.5 .4-1.3 .4 1.3 .3-.3 .4 .7 .4 0 .4-.4 .4-.5 .4-.8 .4 2.3 .4-1.5 .4 .1 .4 1.5 .4 .5 .4 .8 .4-.8 .3-1.6 .4 1.2 .4-2.1 .4 1.9 .4-.8 .4 .5 .4 .9 .4-.8 .4 .6 .4 .4 .4-1 .4 .9 .3-1.8 .4-1.2 .4 1.3 .4 1 .4-.9 .4-1.8 .4 .5"/>
<path stroke="#FF0000" d="M235.0 1026.5l.4 1.3 .4-2 .4-.6 .4 2.6 .4 1.2 .4 .8 .3-.6 .4 1 .4 .9 .4 .6 .4-.8 .4 .9 .4 .6 .4 1.7 .4 2.1 .4 1.3 .4-.5 .4-.3 .3-.4 .4-.6 .4-.1 .4 1.8 .4 .7 .4 .9 .4 2.4 .4 .1 .4 .4 .4-.8 .4-.9 .4 .8 .4-.1 .3 1.4 .4 2.5 .4 .3 .4-1.4 .4 2 .4 .7 .4 .4 .4 .9 .4 .1 .4 .4 .4-1.2 .4 1.7 .3 1 .4-2.1 .4 1.1 .4 .6 .4-.3 .4 .2 .4 .1 .4 1.5 .4-.6 .4 1 .4-1.1 .4 1.3 .4 .8 .3-1 .4 0 .4 1.2 .4 .1 .4-.7 .4-1.2 .4-.2 .4 1.3 .4-1.1 .4 2.1 .4-1.1 .4 1.8 .3-1.1 .4 1.7 .4 .1 .4-.5 .4-.2 .4 .5 .4 .1 .4-.8 .4-.7 .4 .8 .4 1.9 .4 0 .4-1.8 .3 1.7 .4 .6 .4 1.1 .4-1.9 .4 1.1 .4-1.8 .4 1.3 .4-.6 .4-.4 .4 2.1 .4-1.5 .4 .8 .3 1.6 .4-1.2 .4-.6 .4 2 .4-.4 .4 .8 .4-1.8 .4 .2 .4-.5 .4 1.5 .4-1.3 .4 2.4 .4-1.9 .3 1.4 .4-1.6 .4 0 .4 1.9 .4-1.2 .4-.5 .4 1.5 .4-.2 .4-1.3 .4 2.6 .4-1.5 .4-1.1 .3 .6 .4 1.2 .4 1 .4-1.5 .4 0 .4-1 .4 .9 .4 1.6 .4 .8 .4 .9 .4 0 .4 .4 .4-.3 .3-.9 .4-1.3 .4 .8 .4-.7 .4-1 .4 .6 .4 1.9 .4-1.6 .4 .7 .4-.2 .4 .3 .4-1.1 .3 2.3 .4-1.2 .4 .6 .4-.4 .4-1.5 .4 1.2 .4-.9 .4-.7 .4-.5 .4 .2 .4-.2 .4 1.8 .4 .4 .3 1.9 .4 .7 .4 .5 .4-2.3 .4-.4 .4-.9 .4 .7 .4 .4 .4 .8 .4 .1 .4-1.5 .4-.2 .3 .2 .4-1.6 .4-.8 .4 .9 .4-.6 .4 1.8 .4-.8 .4-.8 .4-.2 .4 0 .4 0 .4 1 .4 .3 .3-.4 .4 1 .4-1.1 .4 1.9 .4 1.1 .4-.3 .4-1.1 .4-.4 .4 .1 .4-1.8 .4 .4 .4 .5 .3-.9 .4-.8 .4 2 .4-.5 .4 .2 .4 1.5 .4-.3 .4-1.3 .4 1.7 .4-1.3 .4-1.8 .4 1.3 .4-1.4 .3-.1 .4 1.8 .4 .2 .4-2.2 .4 .2 .4-.2 .4-.1 .4-1.2 .4 .3 .4-2 .4-.7 .4-.5 .3 1.3 .4-2.4 .4 1.1 .4-1.1 .4 1.2 .4 .4 .4 .9 .4 1.8 .4-.1 .4-.8 .4-.2 .4-.2 .4 2.6 .3 .7 .4 1.4 .4-.2 .4-2.4 .4 1 .4 .9 .4 .3 .4-.7 .4-.8 .4-.1 .4 1.1 .4-1.3 .3 .3 .4-.1 .4 1.6 .4 .2 .4 .6 .4-.1 .4-1.9 .4-1.2 .4 .2 .4-.6 .4 .2 .4 .9 .4 1.3 .3-.6 .4 .5 .4-2.2 .4-.3 .4 2.1 .4-2 .4 0 .4-1.3 .4-.6 .4 2.4 .4 1.5 .4-.4 .3-2 .4-.5 .4-.5 .4 1.2 .4 .6 .4-.6 .4 0 .4-1.5 .4 .7 .4 1.7 .4 .1 .4-2.2 .4 .2 .3 .8 .4-1.3 .4 1.5 .4-.8 .4 .4 .4-.9 .4 1.4 .4 0 .4-.9 .4-1.9 .4-.1 .4-1.5 .3 1 .4 1.4 .4-1.8 .4 .1 .4-.2 .4-.4 .4 .6 .4 .9 .4-.5 .4-1.2 .4 .8 .4-1.9 .4 .2 .3-.4 .4-.2 .4-.1 .4-2.5 .4-.3 .4-1.3 .4-.1 .4 .4 .4-1.5 .4-3.5 .4-.9 .4-.4 .3-.5 .4-2.1 .4-1.7 .4-4.9 .4-1 .4-3 .4-4.2 .4-3.7 .4-5 .4-9.1 .4-6.7 .4-9.2 .4-13.6 .3-13.6 .4-18.2 .4-23.8 .4-25.7 .4-33.4 .4-34 .4-33.8 .4-26.1 .4-8.9 .4 9.6 .4 24.4 .4 35.7 .3 32.8 .4 30.6 .4 28.2 .4 24 .4 18.4 .4 15 .4 11.2 .4 9.9 .4 6.9 .4 5.7 .4 5.9 .4 3.1 .4 3.3 .3 5.3 .4 1.8 .4 3.9 .4 2.9 .4 1 .4 2.1 .4 2 .4 1.8 .4-1.1 .4 0 .4 1.1 .4 1.2 .3 .4 .4-.5 .4 1.9 .4 2.5 .4-.5 .4 .5 .4-.1 .4 .4 .4 1.7 .4-.8 .4 .8 .4 0 .4 .3 .3 1.6 .4-2 .4 1.6 .4-.8 .4 .8 .4 1 .4 .1 .4-.8 .4 1.2 .4-1.9 .4 1 .4-.3 .3 .4 .4 1.3 .4 .5 .4-.3 .4-1.1 .4-.8 .4 .3 .4-.5 .4-.1 .4 2.3 .4-1.7 .4 1.6 .4-.7 .3-.3 .4-.3 .4-1 .4 .9 .4-.6 .4 .7 .4-.2 .4 2 .4 1.1 .4-1 .4 .1 .4 1.1 .3-1.5 .4-1.5 .4-.3 .4-.3 .4 1.6 .4-.3 .4-.2 .4 1.4 .4-1.2 .4 1.4 .4 .1 .4-.7 .4 1.1 .3-1.1 .4 1.2 .4 .9 .4-1.1 .4 .2 .4 .9 .4-.2 .4-.1 .4 .4 .4 .4 .4-.4 .4 .6 .3-2.1 .4 .1 .4 .2 .4-.9 .4-.4 .4-.9 .4 2.2 .4-.9 .4-.1 .4 1.4 .4-1.7 .4 1.8 .4-2 .3-1.3 .4 .5 .4 .2 .4 2 .4 .9 .4 .1 .4-1.1 .4-.2 .4-1.1 .4 1.4 .4-.7 .4-.8 .3 .8 .4-1.2 .4-.1 .4 2.1 .4-1.8 .4-.8 .4-.1 .4 0 .4 .6 .4-.2 .4 .1 .4-.2 .4-.1 .3 1.1 .4-.3 .4 0 .4 1.3 .4-1.8 .4-.6 .4 2.1 .4-.4 .4 1 .4-1.7 .4 .5 .4 1.3 .3-1 .4 .9 .4-.1 .4-.7 .4 1.6 .4-1.2 .4-.4 .4 .4 .4-.9 .4 1.3 .4-.1 .4-.2 .4-.2 .3 1.4 .4 .7 .4-.1 .4-1.4 .4-.9 .4 0 .4-1.7 .4-.6 .4 2.7 .4-1.6 .4 2 .4 0 .3 .9 .4-2.4 .4-.5 .4 1.5 .4-2 .4-.7 .4 .5 .4-.3 .4-.3 .4 1.6 .4-1.1 .4 2.4 .4 .1 .3-2 .4 1.9 .4-1.3 .4 .1 .4 .4 .4-1.3 .4 .6 .4-1.2 .4-.2 .4 2.4 .4 .9 .4-.6 .3 .2 .4 .8 .4-2.2 .4 .2 .4-1.2 .4-.7 .4-.3 .4 .2 .4-.5 .4 .4 .4 .7 .4 1.2 .4 1.3 .3 .9 .4-.2 .4-.8 .4 .9 .4-2.1 .4-1.2 .4 1.8 .4 .3 .4-1.3 .4-.1 .4-.4 .4 .3 .3 .2 .4-.1 .4 1.3 .4 .8 .4-.6 .4-.5 .4-.9 .4 1.1 .4 1.3 .4-1.9 .4 .6 .4 .3 .4 0 .3-2.1 .4 .7 .4-.9 .4-.5 .4 1.1 .4 .7 .4 .3 .4 .5 .4 .1 .4-.7 .4-1.8 .4 1.5 .3 .9 .4 .5 .4-.6 .4-2.3 .4-.6 .4-.6 .4 1.5 .4 .3 .4-1 .4 2 .4 1.1 .4 .2 .4-1.4 .3-1.3 .4-1 .4 1.5 .4 .3 .4-1.4 .4 1.4 .4-.5 .4-.8 .4-.5 .4 .7 .4-.6 .4 .3 .3-1.8 .4 1 .4-1 .4 1.5 .4-1.7 .4-.6 .4 .3 .4-.5 .4 .1 .4 1.2 .4-2 .4 .7 .4-.1 .3 .1 .4-1.3 .4-.9 .4-1.1 .4-.4 .4-1.2 .4-1.2 .4 .1 .4-1.3 .4-.1 .4-.2 .4-1.4 .3-1.7 .4 0 .4 .3 .4-2.6 .4-.7 .4-1 .4-.6 .4-1.9 .4-3.2 .4-3 .4-.5 .4-3.3 .4-4 .3-.6 .4-4.1 .4-3.3 .4-3.4 .4-3.7 .4-2.3 .4-4.4 .4-3.9 .4-4 .4-2.7 .4-6 .4-2.9 .3-4.7 .4-3.6 .4-1.4 .4-2.2 .4-2.6 .4 .5 .2 1.6 .2 0 .4 .3 .4 2.2 .4 2.9 .4 .5 .4 2.6 .4 5.5 .3 4.6 .4 2 .4 4.7 .4 5 .4 3.4 .4 4 .4 3.2 .4 2.2 .4 2.7 .4 2.2 .4 4.6 .4 1.7 .3 3.7 .4 2.1 .4 2.2 .4 3.8 .4 .8 .4 1.5 .4 1.1 .4 .7 .4 1 .4 2 .4 2.6 .4-.7 .4 2.9 .3 1 .4-1.2 .4 1.9 .4 .3 .4 .8 .4-.7 .4 1.3 .4 .9 .4 1.6 .4 .3 .4 .7 .4 .7 .3-1.3 .4-1.1 .4 1.1 .4-.5 .4-.1 .4 .7 .4 1.1 .4 .9 .4 .6 .4 1.4 .4-2.2 .4 .5 .4-1.5 .3 1.2 .4-.3 .4-1.4 .4-.3 .4 .6 .4-.7 .4 .6 .4-2.4 .4-2.2 .4-.3 .4-2.5 .4-4.4 .3-1.3 .4-3.5 .4-.9 .4-2.1 .4-.6 .2 .4 .2-1 .4 2 .4-.8 .4 2.1 .4 4.2 .4 .5 .4 3.6 .4 3.6 .3 1.3 .4 1.4 .4-1.9 .4 .3 .4-.1 .4-1.4 .4-1.7 .4-.8 .4-3.8 .4-3.6 .4-1 .4-.1 .3-.8 .4-.7 .4-.9 .4 2.8 .4-.2 .4 2.1 .4 4.2 .4 3.7 .4 1.1 .4 3.1 .4-.6 .4 1.9 .4-.6 .3 .5 .4 .3 .4-.5 .4 1.2 .4 .8 .4-.4 .4 1 .4-1.8 .4 .5 .4 0 .4-.7 .4 1.1 .3-2.6 .4-.7 .4-.7 .4-1.1 .4 .8 .4-1.6 .4-1.7 .4-1.8 .4-1.8 .4-.1 .4-1.5 .4-2.3 .4-4 .3-1.9 .4-3.9 .4-3 .4-4.6 .4-2.6 .4-3.5 .4-6.8 .4-7.5 .4-7.3 .4-2.3 .4 3 .4 6.5 .3 7 .4 6.5 .4 7.3 .4 6.2 .4 4.1 .4 2.6 .4 .5 .4 2.2 .4 3.9 .4 3.3 .4 .9 .4 1.3 .4 1.7 .3-.1 .4 2.1 .4 .4 .4 2.2 .4 .2 .4 1.2 .4 .5 .4 .5 .4 .3 .4 2 .4 .6 .4-.7 .3 .2 .4 1.5 .4 .4 .4 .1 .4 1.1 .4-2.1 .4 .6 .4 .5 .4-.2 .4 1.7 .4 .9 .4-1.4 .4 .1 .3 .6 .4 .1 .4-1 .4 1 .4-1 .4-1.1 .4 1.2 .4 .6 .4-.5 .4 .1 .4 1.7 .4 .3 .3-1.2 .4 1.2 .4-.6 .4-.8 .4 .4 .4 .7 .4 .7 .4-.3 .4-.2 .4-1 .4-1.7 .4 .6 .4-.9 .3 2.4 .4-.8 .4 .5 .4 .7 .4-1.6 .4 1.5 .4-1 .4-1.3 .4 1.1 .4-.1 .4 1.7 .4-.7 .3-1.6 .4-1 .4-.5 .4 1.4 .4 1.4 .4-1.5 .4 .1 .4 .7 .4 1.7 .4 1.1 .4 .2 .4-.6 .4-.6 .3-1.5 .4 .6 .4-1.2 .4-.2 .4 1.7 .4 0 .4 .5 .4-.6 .4-1 .4 .2 .4 .3 .4-1 .3 1.5 .4 1.1 .4-2.3 .4-1.1 .4 1.2 .4 0 .4-2.1 .4-.3 .4-2 .4 .1 .4-2.1 .4-2.9 .4-4.7 .3-4.1 .4-4.7 .4-5.8 .4-6.1 .4-4.7 .4-1 .2 1.2 .2 .9 .4 2 .4 4.7 .4 3.4 .4 4.8 .4 6.3 .3 2.5 .4 2.8 .4 4.7 .4 1.1 .4 1 .4 1.6 .4 2.5 .4-1.3 .4 2.5 .4-.6 .4 .7 .4 0 .4-1 .3 2.3 .4-1.4 .4 1.4 .4 1 .4-.9 .4 1.3 .4-2.4 .4-.9 .4 .7 .4-1.1 .4 2 .4 .1 .3 .9 .4-1.2 .4-1.5 .4 2.2 .4-1.2 .4 .1 .4-1 .4 1.1 .4 .2 .4-.9 .4-.9 .4 .5 .4 1.8 .3-1.2 .4-.4 .4 1.2 .4 .6 .4 .9 .4-.1 .4 .7 .4-2 .4 1.6 .4-2.3 .4-.8 .4-.4 .3 2 .4 .1 .4 1.5 .4 .9 .4 .4 .4-1 .4-1.4 .4 1.4 .4-.1 .4-1.9 .4 .3 .4-1.7 .4-.9 .3 1.7 .4 1.1 .4 1 .4 .1 .4-2 .4 1 .4 1.4 .4-.4 .4-.9 .4-1.1 .4-1.3 .4 1.2 .3 1.8 .4-2 .4 1.4 .4 .9 .4-1.4 .4 1 .4-1.9 .4-.4 .4 .7 .4 1.3 .4-.4 .4-1.8 .4 2 .3-.3 .4 .6 .4-1.6 .4-.5 .4-1 .4-.2 .4 .7 .4 .3 .4 .9 .4 1.1 .4-1.2 .4 1.4 .3-.2 .4-1.2 .4-1.1 .4 2 .4 0 .4-2.1 .4 1.1 .4-.6 .4-.1 .4 1.1 .4-1.4 .4-.5 .4 .5 .3 1.5 .4-2.1 .4 1.3 .4 .2 .4-2 .4 .4 .4-.2 .4-.3 .4-1.2 .4-2.2 .4-1.4 .4-3 .3-2.5 .4-3.7 .4-5.6 .4-5.5 .4-5.6 .4-5.5 .4-4 .4-1.8 .2-1.5 .2 .8 .4 2.1 .4 4.1 .4 5.2 .4 8.4 .3 6.5 .4 4.7 .4 1.5 .4 1.6 .4 1.4 .4 1.8 .4 1.7 .4-.3 .4 1.4 .4 1.6 .4 1.4 .4-1.6 .3-1.5 .4 1.7 .4-.8 .4-1.1 .4-1.6 .4-1.2 .4-1.7 .4-2.2 .4-3 .4-2.6 .4-2.8 .4-5.6 .4-4.7 .3-3.6 .4-.8 .2 .1 .2 1.2 .4-.1 .4 4.7 .4 3.3 .4 5 .4 4.2 .4 3.7 .4 2.1 .4 1 .4 .8 .3 3.9 .4 2.2 .4-.2 .4-1.2 .4 2.1 .4 0 .4 0 .4 .6 .4-1.3 .4-.5 .4 1.9 .4 .6 .4 1.2 .3-1.2 .4 1.2 .4 .3 .4-1.2 .4 .8 .4-2.1 .4-1.4 .4 1.8 .4-1.4 .4 .6 .4 1 .4 .4 .3-1.4 .4 1.2 .4-2 .4 .8 .4 1.6 .4-.5 .4-1 .4 1.8 .4 0 .4 .2 .4 .4 .4 .4 .4-1.1 .3 .3 .4-.9 .4-1.4 .4-.5 .4-.4 .4-1 .4 1.5 .4 0 .4 1.7 .4-2 .4 1.4 .4-1.3 .3-.2 .4-.2 .4 2.1 .4 0 .4-.6 .4-1.2 .4-1.2 .4 .6 .4 2.3 .4-.7 .4 .5 .4 .9 .4-2.4 .3-.3 .4 .2 .4-.6 .4 .3 .4 1.1 .4-1.3 .4 1.2 .4-.7 .4 .8 .4-1.2 .4 1.5 .4-.6 .3 1.2 .4 1 .4-.8 .4-2.4 .4 0 .4 2.1 .4-.1 .4 .3 .4-.8 .4 1.2 .4 .4 .4-.8 .4-.5 .3-1.9 .4-1.3 .4 0 .4 1.8 .4 1.3 .4 .3 .4 .6 .4-2.7 .4-1.3 .4 0 .4-.8 .4 1.5 .3 1.9 .4 .7 .4-2.3 .4 .6 .4 .3 .4 0 .4-1 .4-1.2 .4 1.4 .4 .6 .4-.6 .4-1.2 .4-2.7 .3-.9 .4-1.2 .4-1.1 .4-1.4 .4 0 .4-.9 .4-3.1 .4-.2 .4-4.2 .4 .2 .4-2 .4-1.3 .3-2.2 .4 .5 .4 1.3 .4-.9 .4 .2 .4 3.4 .4 .9 .4 1 .4 2.7 .4 1.1 .4 1.3 .4 1.5 .4 .5 .3 3.1 .4 .9 .4 1 .4-.7 .4 1.4 .4 1.3 .4 .6 .4-3 .4-.9 .4-1.5 .4 .1 .4 .2 .3-.7 .4-2 .4 .2 .4-2 .4-.9 .4-3.5 .4-2.2 .4-3.9 .4-1.4 .4-.9 .4-2.1 .4 .5 .4-1 .3 1.5 .4 2.3 .4 1.9 .4 1 .4 1.7 .4 2.6 .4 3.1 .4 1.7 .4 .6 .4 1.4 .4 1.1 .4 .3 .3 2 .4 .8 .4 .2 .4-.9 .4 2.8 .4-1.5 .4-.4 .4 .5 .4 2 .4 1.6 .4 .2 .4-1.7 .4 1.3 .3-2.1 .4-.7 .4-.4 .4 1.4 .4 .8 .4 .5 .4 1.3 .4 0 .4 0 .4-2 .4 1.5 .4 .7 .3 0 .4-2.7 .4 .7 .4-.4 .4-.4 .4-1.4 .4 .7 .4 .1 .4-.5 .4-2 .4 .3 .4-2 .4 1.2 .3-1.2 .4-.3 .4 .5 .4 2.5 .4 2.6 .4-.3 .4 .6 .4 .2 .4 1 .4 1 .4 0 .4-1.6 .3-1.7 .4 2 .4-1.1 .4 1 .4 .9 .4-1.9 .4-.9 .4 .4 .4 1.5 .4 .8 .4 .9 .4-2.1 .4 .2 .3 .8 .4-1.3 .4 0 .4-1.4 .4 1.4 .4-.9 .4-.5 .4 0 .4-1.4 .4 .4 .4-1.5 .4-1.7 .3-.8 .4-1.9 .4-2.6 .4-2.8 .4-4.4 .4-6.7 .4-6.2 .4-6.1 .4-9.2 .4-5.1 .4-4.2 .4-1.9 .4 .3 .3 4.1 .4 7.6 .4 8.2 .4 7.8 .4 6 .4 5.7 .4 4.4 .4 1.3 .4 3.4 .4 3.1 .4 1.7 .4-.3 .3 1.6 .4 0 .4 .4 .4 1.3 .4 .6 .4-1.4 .4 1 .4-1.4 .4-.1 .4 2.1 .4 1.3 .4-1.5 .4 1 .3-1.5 .4 .3 .4-.3 .4-1 .4 .6 .4 .7 .4 1.4 .4-1.9 .4-.3 .4-1.1 .4 .1 .4 .2 .3 1.9 .4 1.3 .4-1.8 .4-.2 .4 0 .4-.3 .4 1.2 .4 .3 .4-3.3 .4-.9 .4-.8 .4-.8 .4-2.1 .3-1.7 .4-5.4 .4-4.1 .4-3.9 .4-7.7 .4-7.1 .4-4.6 .4-5.1 .4-.6 .4 .4 .4 3.8 .4 6.1 .3 8 .4 6.3 .4 5.5 .4 4.4 .4 2.7 .4 4.2 .4 1.5 .4 1.3 .4-.9 .4 .5 .4 1.5 .4 2.2 .4 .4 .3-2 .4 1.7 .4-1.2 .4 .8 .4-1 .4-.9 .4 2 .4 0 .4 .4 .4 .5 .4-.1 .4-.7 .3-.7 .4 .4 .4-.9 .4-.4 .4 1.6 .4-.9 .4 .8 .4 .1 .4-.8 .4 .4 .4-1.5 .4-2.2 .4 1.4 .3 0 .4-.5 .4-.1 .4-2.4 .4-1.6 .4-.8 .4 .1 .4-2.3 .4 .2 .4 .8 .2-1.8 .2-1.7 .4-.1 .3 2.1 .4 .2 .4 3.1 .4-.8 .4 2.9 .4 .1 .4 2.3 .4-.4 .4-.6 .4 1.8 .4-.1 .4 2.2 .4 .9 .3-1.3 .4 .1 .4 .4 .4 1 .4-1.2 .4 .5 .4 0 .4 .3 .4-.1 .4-.4 .4-.5 .4-.3 .3 1.7 .4-.9 .4-2.1 .4-.3 .4 .8 .4-.3 .4-2.7 .4-.7 .4-.9 .4 .3 .4-2.5 .4 .2 .4-.9 .3-3.6 .4-.6 .4-.3 .4 .3 .4 1.3 .4-1.2 .4 2.1 .4-1 .4 3 .4 .2 .4-.1 .4 3.1 .3 2.5 .4 .6 .4 1 .4-.6 .4-.7 .4 1.3 .4 1.1 .4-1.2 .4-.2 .4-.6 .4-.3 .4 1.8 .4-2.1 .3-1.1 .4-.2 .4 1.8 .4 0 .4 .4 .4-.3 .4 .2 .4-1.2 .4-2.8 .4-1.6 .4-.1 .4-1.5 .3-.6 .4-1 .4 1.3 .4-.1 .4-1.8 .4-2.5 .4-2.2 .4-3.3 .4-1.3 .4-3 .4-1.4 .4-1.1 .4-3.5 .3-2.4 .4-2.6 .4-2.9 .4-5.1 .4-5.5 .4-2.8 .4-5.2 .4-6 .4-4.2 .4-4.2 .4-4.5 .4-7.1 .3-6.6 .4-6 .4-5.3 .4-5.2 .4-2.3 .4-3.8 .4-5.4 .4-3.6 .4-2.3 .2 1.8 .2-1.5 .4 .3 .4-1.7 .4-.5 .3 2.9 .4-.8 .4 1.8 .4 1.8 .4 .9 .4 2.4 .4 1.9 .4-1 .4-.4 .4 0 .4-.8 .4-.8 .3-1.3 .4-3.8 .4-1.7 .4-4.6 .4-6.1 .4-4.1 .4-4.2 .4-5.8 .4-2.9 .4-4.7 .4-4.6 .4-4.7 .4-4.2 .3-2.4 .4-.3 .4 .2 .4 1 .4-.4 .4 4.2 .4 4.2 .4 4.9 .4 5.1 .4 7.2 .4 7.8 .4 6.4 .3 6.8 .4 7.7 .4 8.8 .4 7.9 .4 8 .4 6.1 .4 7.5 .4 5.8 .4 7.1 .4 4.5 .4 6.7 .4 6.5 .4 6.1 .3 3.8 .4 5.1 .4 2 .4 1.9 .4 4.3 .4 2.8 .4 2.8 .4 3.1 .4 3.2 .4 2.8 .4 .4 .4 1.9 .3 1.7 .4 1.7 .4 1.1 .4 .6 .4 2 .4-1.3 .4 2.3 .4-.5 .4 0 .4 2 .4 .6 .4 .1 .4-.6 .3-.2 .4 .8 .4 0 .4 2.2 .4-.5 .4 .5 .4 .5 .4 1.3 .4 1.1 .4 0 .4-1.4 .4-.9 .3 1 .4-.2 .4 1.2 .4-1.2 .4 1 .4-.6 .4-.7 .4-.7 .4 1.5 .4-.3 .4-.1 .4 .8 .4-2.5 .3 .3 .4-.8 .4-1 .4 1.2 .4-1.7 .4-.6 .4-.6 .4-1.8 .4-.7 .4-1.9 .4 .2 .4 0 .3 .8 .4-.4 .4-2.9 .4 .2 .4-3.3 .4-2 .4-.1 .4 .1 .4-.4 .4-2.3 .4 .1 .4 .4 .4 0 .3 1.6 .4 1.1 .4-1.3 .4 1.2 .4 2 .4 1.8 .4 1.1 .4 2.3 .4 .9 .4-.1 .4 2 .4 .7 .3 .9 .4 .8 .4 1.4 .4 1 .4 0 .4 1.4 .4-.2 .4 1.1 .4 1.4 .4-.5 .4-1.3 .4 2 .4-1.3 .3-.6 .4-.8 .4 .9 .4 .4 .4 1.6 .4-1.5 .4-.1 .4 1.2 .4-2.1 .4 .2 .4-1 .4 1.4 .3-1.1 .4-1.4 .4-1 .4-.6 .4 1.1 .4-1.8 .4-1.6 .4-.6 .4-1.4 .4 1.1 .4 .2 .4-1.2 .4-1.8 .3-2.4 .4 .6 .4-1.7 .4-.2 .4 1.1 .4-2.2 .4 .2 .4-.7 .4 0 .4-.4 .4 1.1 .4 .3 .3-1.2 .4 2.5 .4-.2 .4 .8 .4 1.3 .4 1.6 .4 1.9 .4-.8 .4 1 .4 1.8 .4 .8 .4 .1 .4 2.2 .3 2.1 .4 .2 .4 .1 .4-1 .4 .8 .4 1.7 .4-.6 .4 .3 .4 .4 .4-.2 .4 1.1 .4-.4 .3 2 .4 .8 .4-1.3 .4-1.4 .4-.8 .4 2.4 .4-.1 .4-1.1 .4-.7 .4 2.2 .4-.9 .4 2.1 .4-.9 .3 .5 .4-.7 .4 .7 .4-1.3 .4-.3 .4-.6 .4-.5 .4 1.4 .4 2.2 .4-2.3 .4 1.9 .4-1.1 .3-1 .4-1 .4 .6 .4-.6 .4 1 .4 .4 .4-.8 .4 1.9 .4-.1 .4 .5 .4-1.5 .4 .7 .4 .3 .3 .3 .4-2 .4 1.5 .4-1 .4-1.9 .4 1.8 .4-1.3 .4 1.1 .4-1.9 .4-1.6 .4 .4 .4 .1 .3 .2 .4-.4 .4-1.6 .4 .1 .4-1.3 .4-2.6 .4-.6 .4-1.9 .4-1.4 .4-3.3 .4-2.8 .4-3 .4-2.1 .3-5.4 .4-3.7 .4-4.3 .4-2.8 .4-5.9 .4-3 .4-1.1 .4-1.6 .4 2.3 .4 .5 .4 3.4 .4 3.5 .3 4 .4 3.5 .4 6.1 .4 4.3 .4 4.2 .4 2.1 .4 1.1 .4 3 .4 3.1 .4 .9 .4 0 .4 1.2 .4 2.1 .3 1.3 .4 .2 .4 .7 .4-1.9 .4-.4 .4-.5 .4 1.3 .4 .9 .4-1.1 .4 2.3 .4 .2 .4 .8 .3 1.3 .4-.1 .4 0 .4-.4 .4-.6 .4 .6 .4 .3 .4-1.5 .4 1 .4-1.7 .4 .4 .4 1.5 .4-1.6 .3 1.5 .4-.7 .4 .5 .4-1.7 .4-1.3 .4 .1 .4 1.2 .4 1.6 .4-.4 .4-.3 .4-.7 .4 .1 .3 .7 .4 .9 .4-1.4 .4 .4 .4-.9 .4-.8 .4-1.1 .4 .7 .4 1 .4 .2 .4-.1 .4 1.1 .4-.5 .3 .5 .4-.1 .4 1.2 .4-1.4 .4-.4 .4 1 .4-1.1 .4 1.1 .4-1 .4-1.1 .4 .8 .4 .5 .3-.7 .4-.4 .4 2.3 .4-.6 .4 .4 .4-.7 .4 0 .4-.8 .4-.8 .4 1.8 .4 .4 .4-1.1 .4-.2 .3 .5 .4-1.5 .4 1.1 .4 1.9 .4-.1 .4-.8 .4-1.6 .4 .6 .4 .5 .4 .6 .4 .9 .4-1.6 .3-1.4 .4 2.3 .4-.4 .4 1 .4-.5 .4 .8 .4-.7 .4 .1 .4-.3 .4 .9 .4-.2 .4 .6 .4-1.6 .3-1.6 .4-.8 .4 .4 .4 .4 .4 .7 .4-.5 .4 1.3 .4-1.3 .4-2.1 .4 .6 .4 .6 .4-1.2 .3 .9 .4-1.6 .4 1.4 .4-1.2 .4 .9 .4-1.1 .4-.6 .4-2.6 .4 .5 .4-.1 .4-3.8 .4-1.3 .4-3.3 .3-.6 .4-1.9 .4-2.7 .4-4 .4-5.7 .4-4.8 .4-7.1 .4-6.3 .4-4.2 .4-3.4 .4-4.5 .4-3.3 .2-.8 .1 .9 .4 2.4 .4 5.6 .4 5 .4 6.1 .4 5.5 .4 5.1 .4 5 .4 2.6 .4 4.7 .4 3.2 .4 3 .4 1.9 .3 1.6 .4 2.9 .4 1.9 .4-.6 .4 2.3 .4 .5 .4-1.1 .4 2.2 .4 1.7 .4-.5 .4-.1 .4-.4 .3-.4 .4 1.1 .4 .3 .4 1 .4 .6 .4-1.3 .4 1.4 .4-.3 .4-.4 .4-.9 .4 1 .4 .7 .4 .7 .3 .4 .4-1.5 .4-.2 .4-.1 .4-1 .4-2 .4 1.1 .4 .8 .4-1.6 .4 .2 .4-3.6 .4-.7 .3-1.9 .4-1.1 .4-2.5 .4-1 .4-3.2 .4-2.1 .4-1.1 .4-.7 .4-.2 .4 2.1 .4 .4 .4 1.3 .4 .2 .3 2.6 .4 3.1 .4 2.2 .4 2.9 .4 .9 .4 .3 .4 2.4 .4 1.9 .4 1.3 .4-1.9 .4 1.1 .4-.9 .3 0 .4 1.9 .4 1.4 .4-.2 .4-.9 .4 .1 .4-.4 .4-.4 .4-.3 .4 2.4 .4 1.2 .4-1.9 .4 1.3 .3 .3 .4 .1 .4-1.5 .4 .2 .4 1.1 .4 .1 .4 .9 .4-2.5 .4-.3 .4 0 .4 .1 .4 2.1 .3 .9 .4 0 .4-.5 .4 .1 .4 .3 .4-2 .4 .4 .4 1.4 .4-2.1 .4-.2 .4-.3 .4 1.4 .4-.6 .3-1.5 .4 .1 .4 .9 .4 .1 .4-1.8 .4 1.8 .4-1 .4-1.3 .4 1.3 .4 .8 .4 .1 .4-1.7 .3-1.1 .4 1.8 .4 .1 .4-1.7 .4 1.1 .4-1.2 .4 .7 .4 1.1 .4-1.1 .4 .1 .4 1 .4-1 .4 .6 .3-1.7 .4 1.4 .4-1 .4 .1 .4 2 .4 .2 .4-2 .4 1 .4-.9 .4-.2 .4-.9 .4-.9 .3 2.2 .4-1.1 .4-1.3 .4 1.2 .4-1.9 .4-.2 .4-1.3 .4-1.3 .4 2.2 .4-1.1 .4-.5 .4-2.6 .4-1.2 .3-2.5 .4 .5 .4-3.4 .4 .5 .4-.5 .4-3.5 .4-2 .4-1.5 .4-1.2 .4 1.2 .4 1.4 .4 2.7 .3 .8 .4 .2 .4 1.8 .4 .7 .4 .6 .4 2.1 .4 3 .4-.7 .4 3 .4 1.3 .4 1.3 .4-.5 .4-1.2 .3 1.1 .4-1.5 .4 .5 .4 1.3 .4-.4 .4 .6 .4-1.7 .4 1.4 .4-1.8 .4-.3 .4 .6 .4 1.3 .3-2.1 .4-.6 .4 1.2 .4-1.3 .4-.2 .4-1.1 .4 2.1 .4 .3 .4-1.5 .4 1.2 .4 .1 .4-2.1 .4-2.2 .3 .9 .4-.1 .4-1.6 .4-2.1 .4-.4 .4 1.6 .4-.6 .4-.8 .4-.8 .4-2.5 .4 .3 .4-2 .3-.2 .4-1.9 .4-1.6 .4-1.1 .4-1 .4-2.4 .4-1.4 .4-3.4 .4-3 .4-2.5 .4-1.7 .4 .3 .4-2.3 .3-1.8 .4-1.6 .4 1.3 .2 1.5 .2-.9 .4-1.1 .4 2.1 .4 2 .4 .3 .4 1.2 .4 1.2 .4 2.1 .4 2.4 .3 3.1 .4 .4 .4 3.3 .4 1.2 .4 .9 .4 2.5 .4-.1 .4 1.7 .4 2.6 .4 1.6 .4 1.4 .4 0 .4 .8 .3 1.2 .4-.9 .4 2.4 .4 .8 .4-.3 .4 .4 .4 1.6 .4-2.2 .4 0 .4 2.2 .4-1.6 .4 1.6 .3-.5 .4-.3 .4-.7 .4 .5 .4 .7 .4 1.3 .4 1.3 .4 0 .4-1.4 .4 .6 .4 1.7 .4-1.5 .4 .9 .3-1.1 .4-.2 .4 .7 .4 1.4 .4-.3 .4-1.3 .4 .7 .4-1.4 .4 1.6 .4 .3 .4-.7 .4 .7 .3-.5 .4 .2 .4 .4 .4 1 .4-1.6 .4 1.9 .4 .5 .4-1.9 .4 1.4 .4-1.4 .4 1.3 .4-1.5 .4 1.4 .3 .8 .4-.7 .4 .1 .4 .3 .4-.2 .4-1.1 .4 1 .4 1 .4-.8 .4 .8 .4-1.3 .4-.3 .3 .6 .4-.8 .4 1.2 .4 .6 .4-1.6 .4-.2 .4 1.6 .4-.4 .4-1.8 .4 1.7 .4-1.2 .4 .4 .4 1.7 .3 .4 .4 .2 .4-2.4 .4-.4 .4-.6 .4 2.7 .4-1.3 .4-.7 .4 1.5 .4 1 .4 .3 .4-.4 .3 1 .4-.5 .4-2.1 .4 1.7 .4-2 .4 2.4 .4-.1 .4 .1 .4-1.3 .4 1.5 .4-.9 .4 .3 .4-1.6 .3 1.3 .4 1.3 .4-.2 .4 .6 .4-.5 .4-.2 .4 .8 .4-1.8 .4-.2 .4 1.3 .4 .4 .4 .8 .3-.3 .4-.4 .4-.4 .4-1.6 .4 .9 .4 .4 .4-2 .4-.8 .4-.6 .4 .3 .4-2.6 .4-1.9 .4 .9 .3-1 .4-2.8 .4-3.3 .4-3.3 .4-1.9 .4 1.1 .4-2.2 .2 1.7 .2-1.2 .4 2.3 .4 .2 .4 3 .4 2.8 .3 1.7 .4 .8 .4 2.1 .4 .8 .4 3.4 .4 .3 .4 .9 .4-.1 .4 .5 .4 2 .4 1.1 .4 .5 .4 .7 .3 .6 .4-2.9 .4-.5 .4-.9 .4 2.2 .4-1.2 .4 1.6 .4-1.2 .4-.5 .4 .2 .4 2 .4-1.1 .3-.7 .4 1.6 .4-.9 .4 .7 .4 0 .4 .8 .4-.3 .4-1 .4-.8 .4 2 .4-1.1 .4-.4 .4 1 .3 1.7 .4-1.1 .4-.7 .4-.2 .4 .3 .4 1.7 .4-.2 .4-.2 .4-.9 .4-.4 .4 .3 .4 1.3 .3 1 .4 .3 .4-1.9 .4 1.5 .4-1.4 .4-.6 .4 .3 .4-1.2 .4 .9 .4 1.9 .4-1.8 .4 1.9 .4-.9 .3-.9 .4 .5 .4-1.2 .4 .2 .4 1.5 .4-.8 .4 1.1 .4-1 .4 1 .4 .4 .4-.3 .4-.6 .3-1.2 .4-1 .4 .9 .4-.2 .4 1.5 .4-1.7 .4-1.1 .4 .3 .4 .8 .4 .9 .4 .1 .4-1.4 .4-1.4 .3 1.2 .4-1.3 .4 1.4 .4 .1 .4 .8 .4-1.4 .4-.8 .4 .1 .4-2.1 .4 1.3 .4-.4 .4-.2 .3-2.5 .4-.8 .4-1.2 .4-.2 .4-.3 .4 1.4 .4-1.1 .4-.5 .4-1 .4-.7 .4-1.7 .4 1.1 .4-.2 .3-1.1 .2 1.4 .2-1.8 .4 2.2 .4 0 .4 1.2 .4-.3 .4-1.2 .4 .9 .4-.2 .4 1.4 .4-.9 .4 2.1 .3 1.7 .4 .4 .4-.4 .4 1.2 .4-.1 .4 2 .4 1 .4-.9 .4 .9 .4-1.3 .4 1.8 .4 .2 .4-2.1 .3 1.2 .4-.2 .4 .8 .4-1.3 .4 .2 .4 2.2 .4-.2 .4-.2 .4 .5 .4-1.7 .4-.7 .4 .6 .3 .1 .4 .5 .4 .5 .4-1.3 .4 0 .4 1.9 .4 .6 .4 0 .4-2 .4 1.1 .4-1.4 .4-.3 .4-.1 .3 2.5 .4-.9 .4-.6 .4-1 .4 .5 .4 1.5 .4-.7 .4-.2 .4-1.1 .4-.4 .4-.4 .4 2.3 .3 1.1 .4-.7 .4 0 .4-.6 .4 .6 .4-1.2 .4-.3 .4 1.2 .4-.8 .4 1.8 .4-.9 .4-2.1 .4 .6 .3 1.5 .4-1.6 .4 .1 .4 .3 .4 1.2 .4-2.4 .4 1.2 .4-1.7 .4 1.2 .4 1.3 .4-.5 .4-2.5 .3-.5 .4 .3 .4 1.4 .4-1.1 .4-1.3 .4 .8 .4 0 .4 .6 .4-1.2 .4-.5 .4-.3 .4-3 .4-2.6 .3 .8 .4-1 .4-.5 .4-1.2 .4-4.1 .4-2.8 .4-.7 .4-2.9 .4-2.3 .4-2.6 .4-6.3 .4-4.6 .3-5.1 .4-4.4 .4-3.9 .4-2.3 .4-5.4 .4-3.3 .4-2.8 .4 0 .4-.6 .4-.4 .4 .2 .4 2.5 .4 3 .3 6.7 .4 3.4 .4 3.6 .4 3.5 .4 4.2 .4 5.5 .4 4.1 .4 3.9 .4 3.7 .4 1.2 .4 3.1 .4 2.4 .3 3.3 .4 .5 .4 .2 .4 .6 .4 2.5 .4 2 .4-.4 .4 1.9 .4 1.7 .4-.8 .4-1.2 .4 2.5 .4-.9 .3 2.2 .4-.8 .4 .1 .4 0 .4-1.2 .4 .4 .4-.6 .4 1.1 .4-.7 .4 1.4 .4 .4 .4 1.5 .3 .4 .4-.5 .4 .2 .4-1.3 .4 .6 .4-.5 .4 .2 .4 0 .4-1 .4-.2 .4-3.6 .4 .7 .4-1.8 .3-1.7 .4-2.6 .4-2 .4-1 .4-2.1 .4-2.9 .4-.7 .4-1.2 .4 2.4 .4-1.5 .4 2.1 .4 2.1 .3 2.7 .4 1.5 .4 1.6 .4 1.3 .4 2.4 .4 1.6 .4 .2 .4 2.1 .4 .2 .4-.2 .4-.3 .4 1.3 .4 .5 .3-.4 .4 .5 .4 .1 .4 1.7 .4-1.6 .4-1 .4 1.1 .4 .7 .4-1.4 .4 .8 .4-.7 .4-.1 .3 2 .4-1.6 .4-.2 .4 .9 .4 1.6 .4 .7 .4-.6 .4-.3 .4 .9 .4-.5 .4 .6 .4-.9 .4-1.5 .3 2 .4-1.4 .4 .5 .4 .6 .4-.3 .4-.7 .4-1.3 .4 .6 .4-.9 .4 1.1 .4 .2 .4-1.1 .3 .4 .4 .4 .4-.3 .4 2.1 .4-1.2 .4-1.3 .4-.8 .4-.3 .4 1 .4-.8 .4 1 .4 2.1 .4-1.3 .3 .9 .4-.1 .4-1.4 .4 .3 .4-1.4 .4 .7 .4-.8 .4-.4 .4 1 .4 .1 .4-.6 .4-.5 .3 .2 .4 2.3 .4 1.1 .4-1.7 .4-1.9 .4 .5 .4 1.5 .4-1.5 .4 1.6 .4-1.2 .4-1.3 .4-1.5 .4-.2 .3 .5 .4-.8 .4-.4 .4 .6 .4-.8 .4-2.2 .4-1.6 .4 1.2 .4-2.3 .4-1.2 .4-.5 .4-.2 .3-2.9 .4-2 .4-3.1 .4-2.6 .4-4.6 .4-5.4 .4-4.2 .4-4.6 .4-6.9 .4-5 .4-5.8 .4-5.9 .4-4.7 .3-4.2 .4-2.7 .4 1.2 .4-.4 .4 2.5 .4 2.3 .4 5.2 .4 7.4 .4 5.8 .4 6.4 .4 6.6 .4 4.9 .3 5.5 .4 4.2 .4 1.5 .4 3.6 .4 .9 .4 3.6 .4 3.5 .4 2 .4 2.2 .4 .6 .4 1.4 .4-.6 .4 .2 .3-.2 .4 .3 .4 2.6 .4-.7 .4 2.1 .4-.5 .4 1.9 .4 1.5 .4-2.2 .4 .8 .4 .8 .4-.2 .3-1.5 .4 1 .4 1.2 .4 .1 .4-1.1 .4 .7 .4-1.3 .4-.1 .4 .6 .4 .8 .4 .1 .4-.3 .4 2.1 .3-1.7 .4-.6 .4 1.7 .4-.6 .4 1.6 .4 .7 .4-.8 .4 .1 .4-.8 .4 .8 .4 1.2 .4-.6 .3-1.2 .4 1.2 .4-2.5 .4 1.3 .4 1.2 .4-1.9 .4 .4 .4-1.7 .4 0 .4 1.7 .4-2.2 .4-.9 .4-.7 .3-.7 .4-.3 .4 2.1 .4-.5 .4-.9 .4 .3 .4-.7 .4 .4 .4-2.3 .4-.7 .4 .7 .4-1.7 .3 1.1 .4-1.2 .4-.2 .4-.1 .4-.7 .4 .7 .4 2 .4 1.8 .4 .3 .4-1.3 .4 1.6 .4 1.2 .4 .9 .3-.6 .4-.7 .4 1.4 .4 0 .4 2.1 .4 1.3 .4-2 .4 1.6 .4-.3 .4 0 .4 .1 .4 1.5 .3-1.8 .4 2 .4 1 .4-1.1 .4 1.3 .4 .1 .4-.3 .4-.7 .4 .4 .4-.3 .4 .6 .4-1.6 .4-.1 .3-.6 .4-1.1 .4 1.8 .4 .6 .4-.9 .4 1.5 .4 .4 .4 .4 .4-.4 .4-1.1 .4 .6 .4-1 .3 .4 .4 1.2 .4-.4 .4 1 .4 .4 .4-1.1 .4-.8 .4-.8 .4 .2 .4-1.2 .4 2 .4-1.1 .4-1.1 .3-.4 .4 .6 .4 .1 .4 1.1 .4-.4 .4-.7 .4 .6 .4 .3 .4 .2 .4-.4 .4 .4 .4 1.6 .3-1.3 .4 .5 .4-.7 .4 .6 .4-.8 .4 1 .4 1.1 .4-.4 .4-.1 .4-2.4 .4 .9 .4 .5 .4-1.6 .3 1.2 .4 .8 .4 .7 .4-1.3 .4-1.5 .4-.7 .4-1 .4 1.1 .4 2.2 .4-1 .4 0 .4-1.4 .3 1.5 .4-.7 .4-.6 .4 1.5 .4 .3 .4-.2 .4 .3 .4-1.8 .4 1 .4 0 .4 .2 .4-1 .4 0 .3-1.3 .4 .6 .4 .3 .4 .5 .4-.1 .4 .4 .4 0 .4 1.4 .4-2.1 .4 .6 .4 .6 .4 .4 .3-1.9 .4-.7 .4 1.2 .4 .3 .4-.9 .4 1.2 .4-.7 .4-.9 .4 .2 .4-.7 .4 1.4 .4 1.4 .4-.1 .3-.5 .4-1.9 .4 1.9 .4 .7 .4 .2 .4-.3 .4-2.3 .4-.4 .4 .4 .4 .6 .4-1.1 .4 1.8 .3-.5 .4 .6 .4 .8 .4-1.8 .4-1.1 .4 .8 .4-1.2 .4-1 .4-.4 .4 2.2 .4 1.4 .4-.9 .4-.2 .3 .2 .4-.8 .4-.4 .4 0 .4-.5 .4 1.3 .4 0 .4-1.5 .4-.8 .4 1.7 .4 0 .4 1.2 .3 0 .4-.4 .4-1.4 .4 .4 .4-.3 .4 .7 .4-1.4 .4 1.7 .4 .7 .4 .4 .4-2 .4-1.7 .4 0 .3 .9 .4 0 .4-2.2 .4-.5 .4 2.1 .4-.5 .4-1.9 .4 .7 .4 .9 .4 .8 .4-2.4 .4 .8 .3-1.8 .4 .8 .4 0 .4-1.8 .4-.5 .4 .5 .4 1.2 .4 1.5 .4-1.7 .4-.8 .4 .9 .4-.3 .4 .3 .3 1.1 .4 .2 .4-1 .4-.6 .4 .8 .4 .2 .4 .4 .4-.3 .4 .7 .4-1.2 .4 1.5 .4-.6 .3-.1 .4-1.2 .4 2.1 .4 .3 .4 .5 .4-.7 .4-1.2 .4 1.2 .4 .6 .4-.7 .4 1.8 .4-1.6 .4 2.1 .3 1.3 .4-2 .4 1.9 .4 1 .4-1.4 .4-.3 .4 1.1 .4-1.9 .4 1.7 .4-1.8 .4 1.2 .4-1.3 .3 .8 .4 1.3 .4 .1 .4-.5 .4-.5 .4-.8 .4 .2 .4 0 .4 .1 .4-.4 .4 .1 .4 .9 .4-.6 .3 1.8 .4-.5 .4 1.4 .4 0 .4 .6 .4 .3 .4-1.1 .4 .6 .4-1.9 .4 1.9 .4 .5 .4 .9 .3-1.5 .4-1.3 .4 1.3 .4-1.2 .4 1.7 .4-.9 .4 1.3 .4-2 .4-.3 .4 1.7 .4-1.7 .4 1.4 .4-.4 .3 .4 .4-1.1 .4-.4 .4 2 .4 .5 .4-1.8 .4-1 .4-.4 .4 .1 .4 .3 .4 1 .4-.2 .3 2.1 .4-2 .4 .5 .4 .7 .4 .9 .4-.6 .4 .2 .4-1.5 .4-.3 .4 1.8 .4-1.9 .4 .8 .4 1.6 .3 .9 .4-2.1 .4 1.7 .4-.9 .4-1.6 .4 1.5 .4-.2 .4 1.4 .4-2.2 .4 1.4 .4-1.2 .4-1.4 .3-.4 .4 1.9 .4 1.5 .4 .1 .4-.2 .4-.9 .4-.9 .4-.1 .4-1.2 .4-.3 .4 .2 .4 2.3 .4 1.2 .3-1.6 .4 1.5 .4-2 .4 .8 .4-1.5 .4 .8 .4 1.8 .4 0 .4-.2 .4-.2 .4 .5 .4-.9 .3 .9 .4-.2 .4-.1 .4-1.7 .4 1 .4 1 .4-2.6 .4 0 .4 .8 .4 .8 .4 .3 .4-1.5 .4-.3 .3 .7 .4 1.1 .4-2.4 .4-1.6 .4 2 .4-1.9 .4-.8 .4 .5 .4-1.1 .4 2.5 .4-1.9 .4-.9 .3 .9 .4 0 .4 1.1 .4 .8 .4-2.5 .4 1.7 .4-2.3 .4-.2 .4-.6 .4-.8 .4-.8 .4 2 .4-.8 .3-.5 .4 1.5 .4-1.1 .4-1.5 .4-.8 .4 .2 .4-1 .4 1.4 .4-.3 .4 .8 .4-.4 .4-1.5 .3 2.4 .4 .4 .4-.3 .4-1.7 .4 1 .4 .2 .4 .8 .4-1.7 .4 1.3 .4 1.7 .4 .6 .4-.1 .4-1.5 .3 .9 .4 .7 .4-.9 .4 1.9 .4-1 .4-1.1 .4 1 .4 2.1 .4 .5 .4-1.1 .4 0 .4 1.8 .3 1.2 .4-.9 .4-.3 .4-.7 .4 1.1 .4 1.4 .4-1.1 .4 1.2 .4-.5 .4 .6 .4 .4 .4 0 .4-1.5 .3 2 .4-2.1 .4-.4 .4-.5 .4 1.8 .4 .1 .4 1.9 .4-1.7 .4-1.1 .4-.8 .4 .7 .4 2.1 .3-.5 .4 .3 .4-.5 .4-.3 .4 1.4 .4-1.7 .4 1 .4 1.9 .4-1.2 .4 0 .4 .6 .4-.9 .4-.8 .3 1.9 .4-1.9 .4-.2 .4 .8 .4-1 .4-.5 .4 2.5 .4 1.1 .4-.4 .4 1.3 .4 .2 .4-.2 .3-1.3 .4 .6 .4-1 .4-.5 .4-.8 .4-1 .4 2.2 .4 1.1 .4 .7 .4-1 .4 .4 .4-.1 .4-1.1 .3 0 .4-1.1 .4 1.9 .4 .5 .4-1.9 .4 1.2 .4 .7 .4-1.9 .4 2.2 .4 1.2 .4-1.2 .4-.9 .3-1.7 .4 1.7 .4 .7 .4-1.3 .4-1.2 .4 .5 .4 1.6 .4-.8 .4 .5 .4 .6 .4-1.5 .4 .6 .4-1.2 .3 1.6 .4-.4 .4 1.2 .4-1.1 .4-.7 .4-.4 .4-.3 .4 .8 .4-1.5 .4-2 .4 .9 .4-1.7 .3-1.2 .4-.4 .4-.2 .4-1.3 .4 1.3 .4-1.7 .4 1 .4-1.6 .2-1.6 .2 2 .4-.2 .4-.9 .4 1.9 .4 2 .3 .2 .4 1.5 .4 2.1 .4-1 .4 1 .4 2 .4-1.2 .4 1.4 .4-1.6 .4 1.2 .4 .3 .4 .9 .3-.2 .4 .6 .4-1.8 .4 1.8 .4-.2 .4 .5 .4 .5 .4-.6 .4 .9 .4 0 .4-1.6 .4-1.3 .4 1.5 .3 1.4 .4-1.2 .4-.7 .4 .9 .4 1.4 .4-.4 .4-2.1 .4 .5 .4 .1 .4-.8 .4 1 .4 .3 .3-.3 .4 .5 .4-1.5 .4 2 .4-.9 .4-.5 .4 1.7 .4-.3 .4 1.3 .4 0 .4-.1 .4 .6 .4-.5 .3-2.5 .4 .5 .4 0 .4 .2 .4 1.6 .4 .8 .4-.5 .4 .1 .4-2.7 .4 .1 .4 .2 .4-.7 .3 1.9 .4-2 .4 1.7 .4 1.4 .4-1.5 .4-1.8 .4 .5 .4-.9 .4 2.4 .4-.2 .4-1.3 .4 1.2 .4-.1 .3 .1 .4-1.1 .4 2 .4 .7 .4 .4 .4 0 .4 .4 .4-2.2 .4 .7 .4-.9 .4-1.1 .4 1.2 .3-.1 .4-1 .4 .5 .4-.2 .4 .5 .4 .9 .4 .5 .4-1.4 .4-.5 .4-.7 .4 2.2 .4 1.2 .4-2 .3-.5 .4 .2 .4-1.2 .4 1.2 .4 .6 .4-1.2 .4-.3 .4 1.1 .4 1.5 .4-2 .4 1 .4 1 .3 .1 .4 .9 .4-2.1 .4-1.2 .4 2 .4-.7 .4 .4 .4-.3 .4-.1 .4-1.9 .4-.8 .4-.4 .4 2.5 .3-1.5 .4 .3 .4-.7 .4 1.3 .4 .8 .4 .9 .4 .2 .4 .2 .4-1.8 .4-.1 .4 1.8 .4-1 .3 .9 .4-.5 .4-1.1 .4 1.6 .4-2.2 .4 .9 .4 .9 .4 .7 .4-2.3 .4 .7 .4-.6 .4 .9 .4-1.7 .3 .6 .4 .4 .4-.6 .4-.2 .4 1.4 .4 .2 .4-.6 .4 0 .4 .5 .4 .2 .4 .4 .4 1 .3 .7 .4-2.5 .4-.1 .4 .2 .4-1.4 .4-.2 .4-.4 .4 .5 .4 0 .4-.9 .4 1.6 .4 1 .4-1.4 .3-.9 .4-.1 .4 1.3 .4-1.6 .4 1.1 .4 1.1 .4-2 .4-1.5 .4 0 .4 .4 .4-2.8 .4-2.7 .3-1.1 .4-2 .4-3.4 .4-1.1 .4-4.9 .4-2.2 .4-4 .4-3.6 .4-1.3 .4-.4 .4 .7 .4 2.7 .4 2.7 .3 2.7 .4 2.8 .4 4.3 .4 4.4 .4 3.3 .4 .5 .4 2.4 .4 .6 .4 1.8 .4-.7 .4 2.3 .4 .1 .3 1.4 .4 1.3 .4-1.8 .4 1.6 .4 1.2 .4-1.7 .4 .6 .4 1 .4-2.2 .4 1 .4-.7 .4 .3 .4-.9 .3 .4 .4 1.8 .4-1.1 .4-.2 .4-.9 .4 .3 .4-.4 .4 .3 .4 .4 .4 .6 .4 .6 .4 .3 .3-1.9 .4 .6 .4 2.1 .4 .6 .4-.5 .4 0 .4-1.3 .4-1.6 .4-.1 .4 2.3 .4-.7 .4-.1 .4-.7 .3-1.2 .4 1.1 .4-1 .4 1.9 .4 .2 .4-1.5 .4-.4 .4-.8 .4 0 .4 .4 .4 .5 .4 .3 .3-1 .4 2.5 .4-.6 .4 1.7 .4-1.9 .4 .7 .4 1"/>
<path stroke="#0000FF" d="M235.0 970.4l.4 1.3 .4 .4 .4 1.3 .4 1 .4-1 .4-.4 .3 3 .4-.2 .4 .2 .4 3 .4 0 .4 1.6 .4-.1 .4 .8 .4-.9 .4 1.6 .4 1.8 .4 .1 .3 1.2 .4 .6 .4-1.4 .4 2 .4 .7 .4-.2 .4-.8 .4 2.6 .4 .1 .4 1.2 .4 1.3 .4 .3 .4 .9 .3-1.1 .4 1 .4-.6 .4 1.5 .4 .7 .4-2.1 .4-.8 .4 0 .4 2.7 .4-.3 .4 .6 .4-.7 .3 .5 .4-.1 .4-.1 .4 .9 .4 .4 .4 1.4 .4-.1 .4 .6 .4 0 .4 .3 .4-1.1 .4-2.5 .4 1.1 .3 .8 .4 .1 .4-1 .4 .1 .4-1.5 .4 1.6 .4 .2 .4-.5 .4-.7 .4 2.6 .4 2.1 .4-1.7 .3 1.7 .4-.2 .4-.8 .4 .3 .4 1.9 .4 1.5 .4-2 .4 1.1 .4-1.3 .4 1.8 .4-.4 .4 1.9 .4 1.3 .3-.9 .4 1.4 .4-1.6 .4-1.5 .4 1.1 .4-1.2 .4 0 .4 .8 .4 1.2 .4-.9 .4-.8 .4 2.6 .3-.6 .4 2 .4 .9 .4-1.2 .4-.3 .4 .2 .4 .6 .4 .1 .4-.1 .4 .2 .4 1.3 .4-.8 .4-.7 .3 .7 .4-1.2 .4-.4 .4 2.1 .4-.4 .4-.1 .4-1.9 .4 .5 .4 .8 .4-1.4 .4 1.3 .4 .8 .3-1.6 .4 1.2 .4 .1 .4 .8 .4-.7 .4 .9 .4 .6 .4-2.1 .4-.9 .4 1.7 .4 1.8 .4-1.5 .4 0 .3 .5 .4-.7 .4-.1 .4-.2 .4 .1 .4 .8 .4-.5 .4 0 .4 1.4 .4-1.9 .4 1 .4 1.1 .3-.9 .4-.7 .4 1.6 .4-1 .4-.7 .4 .5 .4 1.2 .4-1.5 .4 0 .4 0 .4 1.7 .4-.5 .4 1.2 .3-1.8 .4-.3 .4 .9 .4 1.2 .4-.9 .4-1.2 .4-1 .4 .9 .4-.7 .4 1.7 .4 1 .4-1.8 .3-.5 .4 1.5 .4 .2 .4 .6 .4-1.3 .4-1.3 .4-.2 .4 1.6 .4-1 .4-.2 .4 .1 .4 .1 .4-.1 .3 1.8 .4-1.8 .4-1.4 .4 2.5 .4 1 .4 .8 .4-1.4 .4 1 .4 .4 .4-2.2 .4 .7 .4 .6 .3-.3 .4-.6 .4-1.2 .4-.4 .4-.6 .4-.8 .4 1.3 .4-.4 .4 1.6 .4-1.9 .4 2 .4 .2 .4 .9 .3 .3 .4 .1 .4-1.2 .4-2.6 .4 1 .4-1.8 .4-.8 .4 .2 .4-1.1 .4-2.2 .4-.8 .4-3.4 .3-4.2 .4-3.4 .4 .6 .4 .5 .4 3.3 .4 2 .4 2 .4 3 .4 3 .4-.3 .4 2.2 .4 1.6 .4 .5 .3 .4 .4-2.5 .4 .8 .4 1.2 .4-2.1 .4-.3 .4-.2 .4 .8 .4 0 .4 .2 .4 1.1 .4-2.1 .3-.9 .4-.2 .4-.1 .4-.3 .4 2.9 .4 1.1 .4-2.2 .4 .4 .4-.5 .4-.3 .4 0 .4 1 .4 .2 .3-.6 .4-1 .4 0 .4-.7 .4 1.1 .4 1 .4-.6 .4-1.4 .4-.3 .4 .4 .4 1 .4 1.1 .3-.9 .4 1 .4-.2 .4-.8 .4-.6 .4 .1 .4 .7 .4-.6 .4 .6 .4-.6 .4-1 .4 .4 .4 .7 .3-1.8 .4 .2 .4 .1 .4 1.5 .4 .9 .4-1.5 .4 1 .4 0 .4-1.8 .4-.3 .4-1.4 .4 1.6 .3 .2 .4 .8 .4 0 .4-.6 .4-.1 .4-.8 .4-2 .4 .5 .4-1.9 .4-.6 .4 1.7 .4-1.8 .4-.9 .3-.7 .4 2.2 .4-1.6 .4-1.6 .4 1.8 .4-1.9 .4 1.1 .4-.4 .4 0 .4-.1 .4-1.9 .4-.8 .3-3.6 .4-.2 .4-1.8 .4-1.3 .4-3.9 .4-1.2 .4-1.6 .4-5.8 .4-4.3 .4-4.3 .4-4.7 .4-8.6 .4-9.9 .3-11.3 .4-12.5 .4-15.8 .4-21.2 .4-24.4 .4-26.4 .4-25.6 .4-19 .4-8.3 .4 8.1 .4 21.1 .4 24.4 .3 26.9 .4 22.3 .4 21.4 .4 17.6 .4 13.7 .4 10.5 .4 8.6 .4 7.6 .4 7 .4 2.8 .4 2.9 .4 5.1 .4 4.2 .3 1.8 .4 1.5 .4 2.5 .4 .1 .4 .9 .4 .7 .4 2.1 .4 .6 .4 .4 .4 2 .4 2.3 .4-.9 .3 1.2 .4-.2 .4 1.7 .4 0 .4-.8 .4-.5 .4-.7 .4 1.3 .4 .4 .4-.4 .4 .6 .4 .2 .4 1.8 .3-1.2 .4 2.3 .4-.4 .4 .2 .4-.3 .4 1.2 .4 .6 .4-.6 .4-.4 .4 .6 .4 .8 .4-1.1 .3 .6 .4 1.1 .4-1 .4-1.4 .4-.6 .4 1.4 .4 .6 .4 1.2 .4 .3 .4-1.9 .4-1.1 .4-.3 .4-.3 .3 1.5 .4 1.4 .4 .8 .4-1.8 .4 1.3 .4-1.3 .4-.2 .4 .9 .4-1.7 .4-.8 .4 2.1 .4-.8 .3-.1 .4 .7 .4 .6 .4-1.9 .4 .2 .4 .4 .4 .4 .4-.7 .4 .9 .4 1.7 .4-1 .4 0 .4-1.5 .3-.2 .4 1.3 .4-1.3 .4 2 .4 1.1 .4-2.2 .4 1.8 .4-1.1 .4 .9 .4 .3 .4-1.3 .4 .6 .3 .2 .4 .6 .4-1.5 .4 .9 .4 1.2 .4-.4 .4-.7 .4-1.8 .4 .5 .4-.3 .4 1.1 .4 .4 .4-.2 .3-1.4 .4 .9 .4 .4 .4-1.3 .4 1.7 .4 .1 .4-1.8 .4 1.9 .4-1.8 .4-.2 .4 1.2 .4 .2 .3-.1 .4 .3 .4-.5 .4-.8 .4-.8 .4-.8 .4 1.8 .4 1 .4-.2 .4 .6 .4-1 .4-.9 .4 0 .3 1.7 .4-2 .4 .5 .4-.5 .4 1.4 .4-.6 .4-.5 .4 .1 .4 .4 .4 1.1 .4-1 .4 1.3 .3-1.9 .4-.4 .4-.8 .4-.4 .4 2.1 .4 .8 .4-1.4 .4-.7 .4 .4 .4 1.4 .4 .9 .4 .2 .4-.5 .3-1.7 .4 0 .4-.7 .4 .8 .4 .5 .4-1 .4-.4 .4 1.7 .4-1.8 .4 1.8 .4 1.1 .4 .8 .3-1.5 .4-.2 .4 0 .4 .1 .4 1.3 .4-.4 .4-1.5 .4 1.1 .4-.7 .4 0 .4 .5 .4-2.3 .4 1.5 .3 .4 .4-.5 .4-.1 .4-.2 .4-1.1 .4 .6 .4-1.4 .4 .9 .4 .9 .4-.2 .4 .3 .4 1.4 .3 .5 .4-2.3 .4 1.1 .4-.1 .4-2 .4 .1 .4-.5 .4-.7 .4 1.2 .4 1.9 .4-1.1 .4 1.3 .4 0 .3-1.9 .4 1.6 .4-.2 .4 1.1 .4-.3 .4 0 .4-1.4 .4 .9 .4 .9 .4 .1 .4-1.3 .4 .3 .3-.7 .4-1.7 .4-1 .4-.5 .4 .2 .4-.1 .4 1.1 .4 1.3 .4 0 .4-.4 .4 .5 .4-.9 .4 .1 .3 1 .4-.8 .4-1.1 .4 1.8 .4 .3 .4-1.1 .4-.5 .4 .2 .4 .3 .4-1.2 .4-1.4 .4 0 .3 1.9 .4-1.3 .4 .4 .4-.7 .4-.4 .4-.4 .4 .6 .4-.6 .4-.9 .4-.2 .4 0 .4 1.1 .4-1.1 .3-.7 .4 1 .4 .3 .4 1 .4-1.8 .4 .2 .4 0 .4-1.4 .4 2.3 .4-1.5 .4-1.3 .4 .5 .3-1 .4 .9 .4-.7 .4-1.2 .4-1.1 .4 1.5 .4-1 .4 1 .4-.9 .4 .9 .4-2 .4-1.5 .4-1.1 .3 1 .4-.5 .4-1.7 .4-2.2 .4 .5 .4 .6 .4-1.5 .4-3.4 .4-2.2 .4-1.7 .4-1.3 .4-2 .3-1.8 .4 .1 .4-.2 .4-3.6 .4-.4 .4-3.3 .4-2.1 .4-2.2 .4-2.8 .4-6.4 .4-4.3 .4-3.4 .4-2.9 .3-6.9 .4-5.6 .4-3.8 .4-7.5 .4-6.2 .4-6.7 .4-5.7 .4-5.6 .4-9 .4-6.2 .4-6.5 .4-6.2 .3-6.9 .4-4.7 .4-6.2 .4-4.4 .4-3.4 .4 0 .2-.4 .2-.7 .4 .5 .4 4.1 .4 4.1 .4 5.4 .4 4.8 .4 6.2 .3 5.5 .4 8.4 .4 5.5 .4 7.8 .4 8.4 .4 7.2 .4 4.8 .4 5.8 .4 7.7 .4 5.8 .4 6.1 .4 5.3 .3 3.2 .4 5.1 .4 3.7 .4 2.2 .4 2.6 .4 1.7 .4 3.3 .4 4.6 .4 .6 .4 2.8 .4 .8 .4 1.1 .4 3.3 .3 .9 .4 .5 .4 1.3 .4 2.8 .4 1.8 .4-.6 .4 .9 .4 3.4 .4-.4 .4 1.3 .4 .5 .4 1.8 .3 .6 .4 1.2 .4 0 .4-1 .4-.3 .4-.2 .4 2.5 .4-.9 .4-.7 .4 3 .4-1 .4 2 .4-1.7 .3 .4 .4-.6 .4 1.7 .4 0 .4-.1 .4 .1 .4 .1 .4-2.2 .4-.8 .4-1.7 .4-2.8 .4 .1 .3-1.8 .4-1 .4-3.3 .4-1 .4-.8 .2 .8 .2-1.7 .4 .8 .4 1.8 .4 .5 .4 2.9 .4 3 .4 1.1 .4 1.9 .3 1.2 .4-.6 .4 .2 .4 2.1 .4-1.6 .4-.9 .4-2.3 .4-1.5 .4-1.8 .4 .8 .4-1.1 .4-.5 .3-.2 .4-1.2 .4 1 .4 0 .4 .5 .4 3.1 .4 2.3 .4 2.1 .4 .1 .4 1.6 .4-.1 .4 2.3 .4 1.1 .3-1.5 .4 1.6 .4-1.8 .4-1.2 .4 1.5 .4-.9 .4 .2 .4 .4 .4-2.1 .4 1.1 .4-1.3 .4-.5 .3-.9 .4 .5 .4-.3 .4-2.3 .4-2.5 .4-1.4 .4-1.3 .4-2.9 .4-2.6 .4-.9 .4-2.7 .4-2.8 .4-4.4 .3-6.3 .4-9.5 .4-11.3 .4-12.1 .4-14.1 .4-16.5 .4-18.3 .4-18.4 .4-12.1 .4-6.2 .4 5.1 .4 14.9 .3 18.4 .4 17.1 .4 16 .4 16 .4 9.9 .4 9.1 .4 8.9 .4 6.9 .4 4.2 .4 3.3 .4 3.6 .4 4.9 .4 2.4 .3 3.7 .4 2 .4 2.3 .4-1.6 .4 .3 .4-.1 .4 1.8 .4 .9 .4-.2 .4 1.8 .4-.4 .4 .8 .3 .4 .4 2.2 .4 0 .4-.4 .4-.8 .4 1 .4 1.4 .4 .9 .4 1.4 .4 .4 .4-1.6 .4-1.1 .4 1.6 .3 1 .4-.4 .4 1 .4-.4 .4-1.1 .4-.9 .4-.9 .4 1.8 .4 1.7 .4 1 .4-1 .4 .3 .3 1 .4 .2 .4-.6 .4-.9 .4-.1 .4-1.2 .4-.5 .4 1.4 .4 1.9 .4-.6 .4-.8 .4-.5 .4 .1 .3 1.3 .4-.6 .4 1.5 .4-2 .4-.4 .4 .5 .4-.1 .4 1.4 .4 .7 .4 .7 .4-.7 .4-2.3 .3 .7 .4 .3 .4-.1 .4-.7 .4 1.1 .4 1.2 .4-2.1 .4 .9 .4-.5 .4 .2 .4 1.4 .4 .9 .4-.6 .3-1.8 .4 1.6 .4-1.8 .4-.1 .4 1.4 .4-1 .4-.7 .4 2 .4 .9 .4-1.7 .4-.6 .4-.7 .3-.9 .4-.1 .4 2.3 .4-2 .4-.6 .4-.7 .4-1 .4 .7 .4 .5 .4-.1 .4-1.7 .4-1.5 .4-5 .3-3.5 .4-1.6 .4-6.1 .4-4.4 .4-2.8 .4-2.3 .2 .5 .2-1.1 .4 1.9 .4 5.8 .4 2.6 .4 6 .4 2.2 .3 5.2 .4 2.5 .4 1.9 .4-.3 .4 0 .4 2.6 .4-.4 .4 0 .4 2.2 .4 1.4 .4-2 .4 2.1 .4-.3 .3-.6 .4-1.3 .4 .4 .4 2.3 .4-1.3 .4-1.1 .4-.5 .4-.3 .4 .6 .4 2.3 .4-1.8 .4-.4 .3 2.3 .4 1.4 .4 .6 .4-2.2 .4-.7 .4 1.7 .4-.8 .4 .4 .4-1.1 .4-1.6 .4 .4 .4 1.5 .4 .9 .3-.3 .4-.4 .4 0 .4-.3 .4 .1 .4 1.1 .4-1.6 .4 .6 .4 1.4 .4 .4 .4-2 .4 1.6 .3 .4 .4-2 .4-.7 .4-.6 .4-.8 .4 2.8 .4-.6 .4 1.4 .4-2 .4-1.3 .4 2.3 .4 .9 .4 1.1 .3-.5 .4-.8 .4 .5 .4-2.1 .4 .5 .4-.1 .4-1.1 .4 1.1 .4-.5 .4 .5 .4-.3 .4-.3 .3 0 .4 .8 .4 1.7 .4 .7 .4 .1 .4 0 .4-1.9 .4 1.4 .4-1.7 .4-1.3 .4 .6 .4 1.1 .4-.8 .3 .7 .4-.9 .4 1.8 .4-.8 .4-.3 .4 0 .4 1.2 .4 1 .4-1.1 .4-.8 .4 .2 .4-1.8 .3 .3 .4 1.6 .4 .6 .4-2.2 .4 1.6 .4-.8 .4 1.6 .4-1.2 .4-1.2 .4 .5 .4 1.4 .4-.9 .4 1 .3-.1 .4-1.3 .4-.9 .4 .1 .4-.5 .4-.6 .4 .4 .4 .6 .4-1.2 .4-2.8 .4-2.1 .4-1.8 .3-1.7 .4-4.5 .4-5 .4-4.6 .4-5.5 .4-6.2 .4-3.1 .4-.6 .2-.6 .2 .8 .4 3.1 .4 4.8 .4 5.8 .4 4.1 .3 5.2 .4 2.3 .4 5.1 .4 1.7 .4 1.9 .4 2.8 .4-.3 .4-.2 .4 2.2 .4 .4 .4-1.5 .4-1 .3 .6 .4-1 .4 2.1 .4-1.5 .4-.8 .4-.6 .4-.7 .4-1.6 .4-1.5 .4-2.3 .4-3.7 .4-5 .4-1.2 .3-2.7 .4-3.5 .2 0 .2 1.4 .4 3 .4 .4 .4 2.1 .4 4.5 .4 3.5 .4 4.4 .4 2.9 .4 .3 .4 .9 .3 1.3 .4 2 .4-1.2 .4 .2 .4-.8 .4 1.5 .4-1.3 .4 2.5 .4-.1 .4 .2 .4-1.6 .4-.2 .4 .7 .3 1.6 .4-.2 .4-1 .4 1.9 .4-.1 .4-.5 .4-1.4 .4-.3 .4 1.9 .4-1.7 .4 .5 .4 .6 .3-.6 .4 1.1 .4 1 .4 .4 .4-.3 .4-1.9 .4-1.5 .4 .6 .4-.1 .4-.5 .4 2.1 .4-1.2 .4 1.4 .3 1.2 .4-2.2 .4 1.6 .4-1 .4-1.1 .4-.6 .4-.9 .4 1.2 .4 .2 .4 1.7 .4 .8 .4-2.3 .3 .1 .4-.1 .4-.7 .4-.1 .4 0 .4 1.5 .4-.5 .4-1 .4-.2 .4 .7 .4 .8 .4-.7 .4 1.2 .3-1.1 .4 1.1 .4 .3 .4-1.4 .4 1.3 .4-.5 .4 .2 .4 .3 .4 .2 .4-.5 .4-1.6 .4 1.7 .3 1.1 .4-.7 .4-.1 .4-1.1 .4 1.6 .4 0 .4-1.5 .4 1.2 .4 1.1 .4-1.6 .4 1.3 .4-1.1 .4-1.7 .3 .9 .4-1 .4 .7 .4-.3 .4-2 .4 .2 .4 .8 .4-1.2 .4-.8 .4 .2 .4-1.9 .4-1.4 .3-1.1 .4-.3 .4-2.9 .4-2.3 .4 .8 .4-.4 .4-1 .4 1.8 .4 1.3 .4 .1 .4 2.2 .4 1.3 .4 1 .3-.5 .4-.7 .4 2.4 .4 1.7 .4-.1 .4 .6 .4 .8 .4-.5 .4 1.4 .4 .3 .4-.3 .4-1.1 .3 .9 .4-.3 .4 1.2 .4-1.3 .4 0 .4-.8 .4 .1 .4 .5 .4-1.6 .4-1.3 .4 .4 .4-1.1 .4-.1 .3-1.7 .4-1.7 .4-.1 .4 .7 .4-.4 .4-2 .4-1.6 .4-2.1 .4-.3 .4 .3 .4 2.7 .4-.8 .3 3 .4 .6 .4 .7 .4 .4 .4 3 .4-.7 .4 1.2 .4 .7 .4-.6 .4-.1 .4 2.6 .4 .6 .4 0 .3 .4 .4-2.7 .4 .3 .4 0 .4-2.3 .4-.9 .4 .8 .4-2.5 .4-.4 .4-2.7 .4-.2 .4-1.7 .3-.2 .4-.5 .4 1.8 .4 .9 .4 .3 .4 1.4 .4 .5 .4 2.1 .4-.2 .4 1.4 .4 1.3 .4 .3 .4-.6 .3 .3 .4 1.9 .4-.3 .4 1.7 .4 .1 .4 1.6 .4 .4 .4-.3 .4-1.5 .4-2.1 .4 .4 .4 .4 .3 .1 .4-3.2 .4-2.9 .4-.2 .4-2.8 .4-4.8 .4-4.5 .4-7.5 .4-5.5 .4-4.8 .4-3.7 .4-2.9 .4 .7 .3 5.1 .4 6.9 .4 4.3 .4 4.4 .4 4.6 .4 6.3 .4 3 .4 2.6 .4 3.7 .4 1.1 .4-.3 .4 1.5 .3-1.4 .4 .4 .4 1.8 .4-.9 .4-.8 .4 1.2 .4 .1 .4 2.2 .4-1.8 .4 1.4 .4-.7 .4 1.1 .4-.7 .3 .3 .4-1 .4-1 .4 .3 .4 1.1 .4-1.1 .4-1.2 .4-.2 .4-1.5 .4-.5 .4 0 .4-.9 .3-1.3 .4-3 .4-4.2 .4-4.3 .4-3.9 .4-5.7 .4-5.3 .4-7.5 .4-5.7 .4-6 .4-4 .4-1.1 .4 1 .3 3.7 .4 5.5 .4 6 .4 9 .4 6.5 .4 4.2 .4 6.7 .4 3.6 .4 2.9 .4 1.6 .4 .4 .4 3.6 .3-.7 .4 .6 .4 2.6 .4-1.5 .4 .7 .4 .4 .4-.6 .4 2.1 .4-.6 .4-1.6 .4 .7 .4-1.1 .4 1.8 .3 1.5 .4 .8 .4-2.4 .4 .9 .4-.9 .4 .2 .4-.5 .4-.3 .4-.7 .4 1.3 .4-1.3 .4 2.4 .3-2.1 .4 2 .4-1.7 .4-1.4 .4 1.4 .4-.3 .4 .4 .4-1.2 .4-.8 .4-3 .4-.5 .4-2.3 .4-1.5 .3-6.6 .4-6.3 .4-5.2 .4-6.6 .4-10.3 .4-9.3 .4-9.1 .4-7 .4-2.4 .4 2.7 .4 4.6 .4 8.9 .3 11.4 .4 8.5 .4 8.5 .4 6.2 .4 5.3 .4 5.1 .4 3.9 .4 3.4 .4 .6 .4-.2 .4 .7 .4-.4 .4 .6 .3 1.6 .4 1 .4-.6 .4-.5 .4-.5 .4 .1 .4 1.1 .4-.2 .4 2 .4-.1 .4-.8 .4-.2 .3-1.4 .4 1.6 .4 .7 .4-1 .4 .7 .4-1.4 .4-1 .4-.6 .4-.6 .4 .9 .4 .3 .4 .1 .4-2.5 .3 .6 .4-1.1 .4-1.5 .4-.9 .4-1.2 .4-2 .4-.8 .4 0 .4 .1 .4 .6 .2-2 .2 1.5 .4 .6 .3 .5 .4 1.6 .4-1.4 .4 1.9 .4 1.9 .4-1.2 .4 1.3 .4 2.3 .4-.8 .4 1.8 .4 1.2 .4-.8 .4-1.3 .3-.3 .4 2 .4-.3 .4-.5 .4 .3 .4 1.7 .4-1.4 .4-1.5 .4 2.4 .4-1 .4-.4 .4 1.8 .3-1.6 .4-1.6 .4 1.8 .4-1.5 .4-1.1 .4 1.7 .4-1.9 .4 .9 .4-1.9 .4-1.5 .4-1.5 .4-.2 .4-.4 .3-1.2 .4-.4 .4-1.1 .4 1.3 .4 1.2 .4 .2 .4 .7 .4-1.7 .4 .1 .4 .3 .4 .4 .4 3.2 .3 1.6 .4 1.1 .4-.6 .4-1.7 .4 .2 .4-1.2 .4 2.3 .4-1.2 .4-.6 .4 1.8 .4-1.9 .4 1.3 .4-1.7 .3 0 .4-2.2 .4 1.1 .4-1.6 .4-1.5 .4-.4 .4-1.1 .4-2.5 .4-2.7 .4-.8 .4-3.5 .4-.2 .3-3.4 .4-4 .4-3.4 .4-4.6 .4-3.9 .4-3.7 .4-5.1 .4-5.8 .4-6.2 .4-5.7 .4-5.2 .4-7 .4-5.5 .3-6.7 .4-7.1 .4-5.5 .4-2.1 .4-3.2 .4-2.2 .2-.1 .2 1.1 .4-.2 .4 1.4 .4 2.8 .4 2.6 .4 5.8 .3 5.4 .4 5.5 .4 5.4 .4 5.3 .4 5.8 .4 3.3 .4 6.2 .4 1.8 .4 4.8 .4 1.2 .4 3.5 .4 .6 .4 0 .3 1.7 .4 1.8 .4 .7 .4-.1 .4-.3 .4-4.2 .4-2.1 .4-3.2 .4-.8 .4-3.1 .4-2.4 .4-3.1 .3-3.2 .4-5.2 .4-4.7 .4-6.4 .4-8.2 .4-4.8 .4-9 .4-8.6 .4-6.2 .4-9.7 .4-8.4 .4-11.7 .4-10.6 .3-9.2 .4-12.7 .4-10.5 .4-9.7 .4-13 .4-10.4 .4-10.2 .4-10.4 .4-8.8 .4-8.3 .4-9.2 .4-5.9 .3-2.7 .4 .1 .2-1.8 .2 .7 .4 .6 .4 5.5 .4 4.9 .4 7 .4 8.8 .4 7.9 .4 11.5 .4 11.8 .4 12 .4 10 .3 10.7 .4 10.8 .4 13.4 .4 10.5 .4 10.1 .4 10.3 .4 10.3 .4 8.1 .4 8.1 .4 9.2 .4 8 .4 5.6 .3 5 .4 8.2 .4 5.9 .4 4.9 .4 3.9 .4 5.9 .4 2.9 .4 2.5 .4 2.4 .4 3.5 .4 3.9 .4 2.4 .4 4.3 .3 2.2 .4 1.4 .4 2.3 .4 1.8 .4 1.7 .4 1.1 .4 1.3 .4 1.1 .4 2.2 .4-.5 .4 2.1 .4-.2 .3 2.2 .4-1.3 .4 1 .4 .6 .4 1.4 .4-.9 .4-.1 .4-.5 .4 1.2 .4 .7 .4-1.7 .4-.4 .4-.2 .3 2.2 .4-.8 .4-.3 .4-1.3 .4 .2 .4 .4 .4-.6 .4-2.8 .4-.1 .4-.1 .4-1.7 .4 1.7 .3-.7 .4-.3 .4 1.2 .4 .8 .4 .5 .4 1.9 .4 .3 .4 0 .4-.3 .4 2 .4 .8 .4 1.6 .4 .6 .3-.4 .4 .3 .4 1 .4 .6 .4 3.3 .4 1 .4-.4 .4 1.6 .4 .8 .4-1.3 .4 1.9 .4-.7 .3 2.4 .4-1.6 .4-.2 .4-.1 .4 2.2 .4 .9 .4-.2 .4-1.6 .4 .2 .4 1 .4-1.7 .4 2.1 .4 .8 .3 .6 .4-.5 .4-.6 .4 .8 .4-2 .4-1 .4-1.3 .4-.5 .4 1.7 .4-1.8 .4 1.2 .4-.8 .3 1 .4-.2 .4-.7 .4-.1 .4-3.1 .4-1.2 .4-.7 .4-.6 .4 .1 .4 .3 .4-.8 .4-.2 .4-1.3 .3-2.2 .4-.9 .4 0 .4 .1 .4-1.6 .4-.8 .2 .5 .2-1 .4 1.9 .4-1.8 .4 1.6 .4 .7 .4-.2 .3 1.6 .4 .9 .4 2.6 .4 1.5 .4 .2 .4 1.5 .4 1.1 .4-1.5 .4 1.9 .4 1.2 .4 1.4 .4 .2 .4-.9 .3-.9 .4 1.2 .4-.7 .4 1.7 .4 .3 .4 1.1 .4-.9 .4-.6 .4 1.9 .4 .1 .4-.8 .4 .3 .3-.3 .4 .7 .4-.1 .4-.8 .4 2 .4 .7 .4-.1 .4-1.6 .4-1.1 .4 1.3 .4 .9 .4 0 .4-1.6 .3 1 .4-.2 .4-.6 .4 .4 .4-.2 .4 .5 .4 .7 .4 1 .4-2.4 .4 .4 .4 1.4 .4-.3 .3-.4 .4 .8 .4-2.5 .4 1.4 .4 .1 .4-.1 .4-1 .4 .5 .4-1.4 .4 .6 .4-.6 .4 1.9 .4 .5 .3-.8 .4 .4 .4-1 .4-.1 .4-1.4 .4 1.7 .4 .4 .4 .2 .4-2.3 .4 1.2 .4-2.2 .4 .6 .3-.1 .4-1.7 .4 .1 .4 1.4 .4-.5 .4-1.7 .4 .4 .4-2 .4 .1 .4-2.4 .4-3.4 .4 .1 .4-4.5 .3-3.4 .4-2.1 .4-5.7 .4-4.1 .4-3.9 .4-6 .4-6.8 .4-4.9 .4-4.5 .4-4.7 .4-2.8 .4-2 .3 .6 .4 4.6 .4 5 .4 2.3 .4 4.9 .4 5.7 .4 7.5 .4 4.2 .4 4.1 .4 5.9 .4 2.3 .4 5.2 .4 1.8 .3 3.3 .4 2 .4-.5 .4 2.1 .4 .2 .4-.3 .4-.5 .4 2.2 .4 .7 .4-.4 .4 1.8 .4-1.3 .3 .3 .4-1 .4 .4 .4 2.1 .4-.3 .4-1.2 .4-.4 .4 1.2 .4-.6 .4 1.7 .4-1.9 .4 1.8 .4 0 .3 .7 .4-1.2 .4-1.7 .4-.4 .4 1.3 .4-1.4 .4-.5 .4 2.1 .4 1.3 .4 .6 .4 .2 .4-.9 .3 .6 .4-.3 .4-.6 .4-.8 .4-1.8 .4-.7 .4 .2 .4 .8 .4-.8 .4 2.5 .4-.1 .4 .4 .4 .8 .3-1.9 .4 1.2 .4 .9 .4-2 .4-1.4 .4 1.5 .4 1 .4 .2 .4-1.2 .4 .1 .4-1.7 .4-.4 .3 .5 .4 1.3 .4-1.6 .4 2.1 .4-2 .4 2.2 .4-1.4 .4 1.3 .4 .6 .4 .8 .4-1.3 .4 .2 .4-1.3 .3 1.2 .4-1.9 .4 1.7 .4-.2 .4-1.8 .4 2 .4-1.1 .4-1.4 .4-.1 .4-.8 .4 .5 .4 1.6 .3 1.8 .4-.4 .4 .5 .4 .2 .4-.4 .4-1.4 .4-1.3 .4-1 .4 .6 .4-1.1 .4 1 .4-1.5 .4-.4 .3-1.1 .4-1.4 .4-3.6 .4-3 .4-1.7 .4-4.2 .4-1.8 .4-.5 .4-1.9 .4 2.1 .4 1.5 .4 3.8 .3 2.3 .4 3.3 .4 2.6 .4 .4 .4 1.9 .4 1.6 .4 .7 .4 1.1 .4 1.5 .4 .3 .4 .1 .4-2.5 .4 .2 .3-.6 .4-.1 .4-4.3 .4-3.1 .4-.7 .4-4.9 .4-4.3 .4-6 .4-7.3 .4-6.7 .4-4.9 .4-1.4 .2-1.1 .1 .9 .4 1.7 .4 6 .4 6.6 .4 7.1 .4 6.8 .4 2.8 .4 5.9 .4 2.9 .4 1.1 .4 1.9 .4 .1 .4 .9 .3 2.7 .4 1.2 .4 1.2 .4-1.7 .4-.9 .4 .5 .4 .7 .4 1.1 .4-.9 .4 1.1 .4-.1 .4-1.1 .3 1 .4-2.1 .4 .5 .4-1.6 .4-1.8 .4-.1 .4-1 .4-1.7 .4-3.6 .4-2.6 .4-5.1 .4-8.5 .4-8.8 .3-4.4 .4-5.8 .4-3.2 .4 1.4 .4 6.6 .4 5.8 .4 7.4 .4 7.5 .4 4.8 .4 4.7 .4 4.3 .4 2.1 .3 .8 .4 .4 .4-.9 .4 .5 .4-.1 .4-.5 .4-1 .4 .1 .4-2.1 .4 .5 .4 1.1 .4-2.6 .4-.3 .3 2.7 .4-1.2 .4 2.3 .4 .9 .4-.8 .4 2 .4-.8 .4 2.8 .4-.1 .4 2.3 .4 1.2 .4-1.7 .3 .1 .4-.6 .4 1.8 .4-1.2 .4-.7 .4-.1 .4 2.6 .4-.8 .4-.1 .4 .4 .4 .7 .4-.2 .4 1.8 .3-1.1 .4-.1 .4 1.3 .4-1.5 .4-.9 .4 1.8 .4-.8 .4 1.5 .4 .6 .4-1.2 .4-.8 .4-1.1 .3 2.1 .4-.4 .4-.6 .4-.8 .4-.2 .4 2.1 .4-1.4 .4 .6 .4 .6 .4-.1 .4-.1 .4-.5 .4-.9 .3 1.6 .4 1.1 .4-.6 .4-1.4 .4 1.5 .4-1.7 .4-.9 .4 1 .4 1.2 .4-.3 .4-1.7 .4 2 .3-1.8 .4-.3 .4 2 .4 .3 .4 0 .4-2.4 .4 1.4 .4-.9 .4-1.8 .4 1.7 .4 1.3 .4-2.4 .4 .2 .3 1.5 .4-1.2 .4-.8 .4 1.2 .4-.6 .4 1.5 .4 .2 .4 .1 .4-.6 .4-2.1 .4 .5 .4-.2 .3-.5 .4-.2 .4-1 .4-1.1 .4 1.7 .4-1.3 .4-1.8 .4 1.8 .4-1.2 .4-.4 .4-1.9 .4-2.2 .4-1.2 .3 .3 .4-2.6 .4 0 .4-3 .4-.3 .4-3.3 .4-1.2 .4-1.9 .4-.8 .4 1.2 .4 .6 .4 1.6 .3 .5 .4 1.4 .4 1.5 .4 3.4 .4-.5 .4 1.4 .4 2.7 .4 .6 .4-.4 .4 2.5 .4-1.7 .4-.6 .4-.6 .3 1.1 .4 2 .4-1 .4-.5 .4 1.5 .4-1.9 .4-1.1 .4 1.5 .4-1.4 .4 .7 .4-1.1 .4 .9 .3 1.1 .4-1 .4-1.3 .4 .4 .4 .1 .4-2.3 .4-.8 .4-.2 .4 .1 .4-1.1 .4 .4 .4-1.5 .4 1 .3-1.8 .4-1.9 .4-2 .4-1.4 .4-1.1 .4 1 .4-1.9 .4-1.8 .4 0 .4-1.1 .4-2.4 .4-4.2 .3-3.1 .4-2.4 .4-3.5 .4-3.1 .4-3.7 .4-3.4 .4-1.7 .4-3 .4-3.8 .4-3.3 .4-2.5 .4-2.3 .4-4.3 .3-.1 .4-1.6 .4-1.3 .2 1.7 .2 .3 .4-.6 .4-.5 .4 2.3 .4 2.6 .4 2.6 .4 2 .4 4.4 .4 2.8 .3 4.8 .4 3.3 .4 2.4 .4 4.6 .4 2.4 .4 1.3 .4 2.6 .4 1.6 .4 3.2 .4 4.2 .4 3 .4 1.4 .4-.3 .3 .8 .4 .9 .4 1.6 .4 2.2 .4-.5 .4 1.7 .4 1 .4 1.7 .4 1.7 .4-.3 .4 .8 .4-.5 .3 .6 .4 1.1 .4-1.2 .4 1.1 .4 .7 .4-.6 .4 0 .4 2.2 .4-.5 .4-.6 .4 0 .4 1 .4 .1 .3 0 .4 0 .4-.4 .4 .9 .4 .8 .4-1.2 .4 1.1 .4-.4 .4 2.2 .4 1 .4-2.3 .4 .9 .3-.7 .4-1.2 .4 2.1 .4 1.2 .4 .1 .4-.3 .4 .9 .4-.9 .4 0 .4-.1 .4 .7 .4 .3 .4-1.6 .3-1.2 .4 .6 .4 .4 .4-.5 .4 1.5 .4 .8 .4-.1 .4-.6 .4 .4 .4-1.5 .4 1.3 .4-1.5 .3 1.8 .4 .1 .4-1.1 .4-.9 .4 1.1 .4 .1 .4 .8 .4-1.5 .4 1.9 .4-.5 .4-.2 .4 .9 .4 .1 .3-.5 .4-.7 .4 .3 .4-1.3 .4 .1 .4 2 .4-1.3 .4-.7 .4 2.2 .4-.4 .4 .3 .4 .4 .3 .7 .4-1 .4 1.1 .4-2.1 .4 1.9 .4-.8 .4 .6 .4-.7 .4 1.2 .4-.6 .4 .4 .4-.6 .4 1.4 .3 .5 .4-1.6 .4 1.1 .4 1.1 .4-1.7 .4-1.1 .4 2 .4 1.2 .4-2.3 .4 1 .4 1.1 .4-1.8 .3 .8 .4-1.3 .4 1 .4-.7 .4-.6 .4-1.7 .4 .7 .4 .1 .4-1.8 .4-2.3 .4-1.8 .4-1.3 .4 .8 .3-1.8 .4-1.8 .4-2.8 .4-4.9 .4-2.6 .4-.1 .4-.4 .2 .7 .2-.1 .4 .7 .4 1.9 .4 3 .4 1.5 .3 .8 .4 2.6 .4 1.3 .4 2.4 .4 3 .4 .9 .4 .8 .4 .3 .4 1.3 .4 1.4 .4 1.1 .4 2 .4-1.9 .3-.2 .4-.6 .4 2.6 .4 .4 .4 .4 .4 .8 .4-2.4 .4 2 .4-.9 .4 .6 .4-.4 .4 1 .3-1 .4-.6 .4-.3 .4 1.5 .4-.1 .4-1.1 .4 .2 .4 .9 .4-.2 .4 .6 .4 1.3 .4-.1 .4 .6 .3-1.4 .4 1.3 .4 .9 .4-.9 .4-2.2 .4-.8 .4 1.9 .4 1.4 .4 .2 .4-.6 .4-.2 .4-1.5 .3 1 .4 1.8 .4-1.7 .4 .5 .4 1.1 .4-.1 .4-1 .4-.9 .4 1.3 .4 1.3 .4 .5 .4-1.3 .4 .5 .3 .6 .4-1.2 .4 .7 .4-.9 .4-1.1 .4-1.1 .4 1.8 .4 1 .4-2 .4-.9 .4 .3 .4-.2 .3 1.6 .4-1 .4 .7 .4 .3 .4-.7 .4 1.4 .4-.8 .4-.2 .4 .3 .4-.7 .4-1.2 .4 1.9 .4 .2 .3-.7 .4-.6 .4 0 .4-1.2 .4-1.5 .4 .7 .4 1.4 .4-2.2 .4 1.8 .4-1.4 .4 1.2 .4-.3 .3-2.1 .4-1.5 .4 1.3 .4 .7 .4-.4 .4-1.3 .4-.9 .4 .1 .4 0 .4-.2 .4-2 .4 .7 .4 .7 .3-.9 .2-2.4 .2-.6 .4 1.4 .4 0 .4 1.8 .4 .1 .4 .4 .4-1.5 .4 .8 .4 1.2 .4 1.5 .4 .9 .3-1.5 .4 .2 .4 1.9 .4-1.9 .4-.9 .4 .1 .4 2 .4-.2 .4 1.2 .4 1.2 .4 .6 .4-2.3 .4 1.1 .3 1 .4 .3 .4 .7 .4 .2 .4-.6 .4 .6 .4-.7 .4-1.9 .4-.3 .4 2 .4-1 .4 0 .3 1.3 .4 .1 .4 .3 .4-.9 .4-.3 .4-1.7 .4-.4 .4-.3 .4 1.1 .4 .4 .4-1.3 .4 1.3 .4-1.3 .3 .4 .4-1.1 .4 1 .4-.7 .4 2.3 .4-.8 .4 1.2 .4-.8 .4-.8 .4 1.3 .4-1.2 .4 .1 .3 .5 .4 1.4 .4-.3 .4-2.4 .4 .2 .4 1.7 .4 .5 .4-1.4 .4-1.6 .4-.4 .4 1.5 .4-1.3 .4 1.7 .3-1.4 .4 .7 .4 .3 .4-1.4 .4 .1 .4 .3 .4-1.2 .4 .2 .4 .3 .4 1.1 .4-1.9 .4-1.5 .3 .2 .4 .1 .4-.5 .4 .8 .4-2.3 .4-.4 .4-.8 .4-1.8 .4-.5 .4-.8 .4-1.4 .4-.1 .4-.1 .3-1.1 .4-4.3 .4-2.8 .4-.9 .4-5 .4-4.3 .4-4.3 .4-1.5 .4-4.8 .4-5.6 .4-7 .4-4.3 .3-5.2 .4-7.3 .4-6.5 .4-7.7 .4-7.7 .4-6.5 .4-4.4 .4-3.3 .4-.4 .4 0 .4 2.2 .4 7 .4 6.6 .3 6.8 .4 5.6 .4 6.7 .4 7.1 .4 7.6 .4 5 .4 5.9 .4 5.4 .4 5.8 .4 3.1 .4 1.9 .4 3.8 .3 4.8 .4 1.1 .4 3 .4 .7 .4 1.6 .4 2.6 .4 .1 .4 1.8 .4 1.8 .4 .6 .4 2 .4 1.5 .4-.8 .3 1.5 .4 .9 .4 .1 .4 .2 .4 .2 .4 .8 .4 .4 .4-1.1 .4 .8 .4 .6 .4-.4 .4 1.2 .3-1.3 .4 .1 .4 .1 .4 .1 .4-1.4 .4 .7 .4-1.6 .4 .3 .4-.4 .4 .3 .4 .2 .4 0 .4-3.1 .3 0 .4-2.3 .4-1.8 .4-3.3 .4 .4 .4-2.5 .4-1.5 .4-.8 .4-.6 .4 .4 .4 .7 .4 2 .3 1.3 .4 2.9 .4 2.8 .4 2.2 .4-.1 .4 1.6 .4 1.5 .4 1.1 .4-.2 .4-.5 .4 1.9 .4 .8 .4-.5 .3 .9 .4-1.4 .4 1.8 .4 1.3 .4 1 .4-2.3 .4 .8 .4 .7 .4-1.8 .4 .8 .4-1.1 .4-.4 .3-.9 .4 .5 .4 2.1 .4 .1 .4 .8 .4 1 .4-2.4 .4 1.1 .4 .7 .4-.6 .4-1.4 .4-1.4 .4 0 .3-.4 .4-.8 .4 .7 .4 0 .4-1.7 .4-1.6 .4-.1 .4 .2 .4-.5 .4-.8 .4 .2 .4-.7 .3-1.5 .4 .3 .4 .1 .4-.7 .4-.5 .4 .9 .4 2 .4 1.6 .4-.3 .4 1 .4-.8 .4 1.7 .4 .5 .3 1.5 .4 1.2 .4-2.1 .4 2.2 .4-1.6 .4 1.9 .4 1.1 .4-2.1 .4-.8 .4-.9 .4 2.1 .4 .5 .3 .9 .4-.2 .4-1.7 .4 .5 .4-1.3 .4-.9 .4-.2 .4 .6 .4-1.1 .4 0 .4-.1 .4 .4 .4-1.2 .3-1 .4-.5 .4-1 .4 0 .4-2.7 .4-1.8 .4-2.1 .4-.6 .4 .2 .4-1.8 .4-2.2 .4-1.5 .3-3 .4-5.3 .4-5.2 .4-4.2 .4-6.3 .4-5.3 .4-8.3 .4-7.3 .4-6.9 .4-9.6 .4-9.6 .4-6.7 .4-8.5 .3-4 .4-3.8 .4-.4 .4 .6 .4 3.3 .4 4.9 .4 6.2 .4 10.9 .4 7.5 .4 7.6 .4 10.7 .4 7.5 .3 7 .4 7.5 .4 5.4 .4 3.2 .4 3.4 .4 4.5 .4 3.7 .4 1.4 .4 1.8 .4 2.6 .4 .5 .4 3.5 .4 1.7 .3-.3 .4 1.7 .4 1.3 .4-.7 .4 1.1 .4 2.1 .4 .1 .4 1.2 .4-.9 .4 2.3 .4 .2 .4-.1 .3-1.8 .4 .4 .4-.9 .4 1.1 .4-.2 .4 .2 .4 .4 .4-.3 .4 .4 .4 1 .4-.7 .4 1.1 .4 2 .3 .2 .4 1 .4-2.4 .4 .7 .4-1 .4 1.9 .4-.6 .4 .5 .4 .5 .4-2 .4-1 .4 1.8 .3 1 .4-.8 .4-1.9 .4-.9 .4 2.1 .4 .7 .4-.8 .4 .6 .4 .6 .4-2.5 .4 1.2 .4 1.2 .4 .1 .3-.1 .4-1.7 .4-.6 .4-2.1 .4 .9 .4-.2 .4-1.2 .4-2.1 .4-.8 .4 .1 .4 1.7 .4-.7 .3 .9 .4-1.8 .4-.5 .4-.2 .4 .3 .4 2.1 .4-.1 .4 .1 .4 1.6 .4 .2 .4 1.9 .4 .6 .4 .9 .3-.6 .4-.3 .4 .2 .4 2.1 .4 1 .4-.6 .4-.5 .4-1.6 .4 2 .4 .2 .4-.5 .4-1.1 .3 .6 .4 1.1 .4-.8 .4-.5 .4 .7 .4 .3 .4-1.5 .4-.5 .4 .8 .4 1.6 .4-.3 .4-1.4 .4 .1 .3-.1 .4 1.9 .4-.8 .4 2.1 .4-1.3 .4-.9 .4-1.1 .4 1.1 .4 .7 .4 1.2 .4 .3 .4-.3 .3-1.8 .4 2.1 .4-1.3 .4-.6 .4-.6 .4 1.2 .4 .8 .4-.8 .4-.6 .4-1.1 .4 1.4 .4 1.1 .4-1.4 .3-.4 .4 1.6 .4 .6 .4-1.6 .4 2.1 .4 .1 .4 0 .4-1.3 .4 1.5 .4-1 .4 .1 .4 1.3 .3 .1 .4-2.2 .4-1.2 .4-.4 .4-.5 .4 2.3 .4 .1 .4-.3 .4-.5 .4 .2 .4-.1 .4 .9 .4-.6 .3 1.2 .4 .6 .4 .3 .4-.2 .4-2.1 .4-.2 .4 1.3 .4-1 .4 .2 .4-1.1 .4 1.5 .4-.9 .3-.4 .4 1.4 .4-1.8 .4-1.2 .4 .8 .4 .4 .4-.9 .4 .5 .4 1.5 .4 1.2 .4 .7 .4-.1 .4-2.5 .3-.3 .4 .1 .4-1.4 .4 1.9 .4-.8 .4 1.3 .4 .3 .4-1.3 .4-.4 .4 .2 .4-.8 .4-1.1 .3 .9 .4-.3 .4 0 .4 1.7 .4 .8 .4-.8 .4-1.7 .4 1.6 .4-.9 .4-1 .4 1.7 .4 1.4 .4-1.6 .3 .2 .4 1.3 .4-.7 .4-.9 .4-1.1 .4-1.1 .4 2.4 .4 .9 .4-1.7 .4 .7 .4-1.2 .4 1.2 .3-.6 .4 .7 .4-.2 .4-1.7 .4 .7 .4 .7 .4-1.8 .4-1 .4 .2 .4 1.6 .4 1.6 .4-1 .4 .8 .3-.2 .4-1.6 .4-.3 .4 1.1 .4-.8 .4-.4 .4 .5 .4-1.9 .4 .1 .4 .1 .4 0 .4 .4 .3-1.4 .4-.2 .4-.2 .4-1.5 .4 1.4 .4 1.1 .4-1 .4-1.2 .4-.9 .4-.4 .4-.7 .4-.9 .4 1.6 .3-1.4 .4-1.5 .4 .5 .4-2.2 .4-.2 .4 .4 .4 .7 .4-1.6 .4-1.9 .4 1.8 .4-2.5 .4-.2 .3 0 .4 1.4 .4-1.7 .4-1.4 .4-.8 .4-.2 .4-1.1 .4 1.9 .4-.4 .4 .5 .4-1.4 .4 .6 .4 1.2 .3-1.7 .4 1.7 .4-1.3 .4 1 .4 1.4 .4-.8 .4 1.4 .4-.9 .4 0 .4 1.8 .4 .1 .4-1.5 .3-.2 .4 1.5 .4 .4 .4-.5 .4 2.7 .4-.1 .4 2.2 .4-.5 .4-.5 .4 .8 .4 2 .4 1.5 .4-.2 .3-.9 .4 .7 .4-.3 .4 .4 .4-.8 .4-.2 .4 3.2 .4 1.2 .4-1 .4 .9 .4-1.4 .4 2.2 .3 .5 .4 .7 .4-.5 .4-.1 .4 1.4 .4-1 .4-1.1 .4-.4 .4 2.7 .4-.8 .4-1 .4 1.2 .4-.7 .3 .7 .4 1.5 .4-.9 .4 .2 .4 1.9 .4 .8 .4 .4 .4-2.5 .4 1.9 .4-.4 .4-1.5 .4 2.1 .3-1.8 .4 2 .4-2.2 .4-.9 .4 .9 .4 1 .4 .4 .4 1 .4-1.9 .4 1.2 .4-.8 .4 1.7 .4-.2 .3 .1 .4-1.9 .4 1.7 .4-1.3 .4-.9 .4 .1 .4 1.3 .4-1 .4-.1 .4 .3 .4-1.2 .4-1.2 .3 .3 .4 .9 .4 .2 .4-1.8 .4 .4 .4 .6 .4-.5 .4-2.2 .4-1.9 .4 2.1 .4-.1 .4-1.6 .4 .7 .3-.2 .2 .1 .2-.9 .4 .8 .4-.4 .4 0 .4 .1 .4 1.7 .4 1.5 .4-.8 .4-1 .4 .4 .4 2.1 .3-.1 .4-1 .4 2.4 .4 0 .4-1.2 .4 1.9 .4 .1 .4 1.4 .4 .6 .4 .3 .4 .4 .4-1.4 .4 .7 .3-.7 .4 .2 .4-1.4 .4 .6 .4-1.5 .4 1.9 .4-1.4 .4 .6 .4 1.2 .4 .5 .4 .3 .4-1.4 .3-1.9 .4 2.1 .4-1.4 .4 1.2 .4-1 .4-.5 .4 0 .4-.1 .4 .7 .4-.4 .4-1.7 .4 .2 .4-1.4 .3 1.7 .4-1.6 .4-.3 .4 .5 .4-.8 .4 1.3 .4 .2 .4-1.7 .4-.7 .4 .5 .4-.8 .4-.1 .3-1.4 .4-.1 .4-.3 .4 .7 .4-1.8 .4 .3 .4-2.1 .4-1.2 .4-1 .4 1.5 .4-2.4 .4-.9 .4-.1 .3 .4 .4-.2 .4-2.3 .4-.5 .4 .6 .4-1.9 .4-1.2 .4 1.6 .4-2.2 .4-1 .4-.2 .4 2.1 .3-.7 .4 0 .4 .4 .4 1.5 .4-2 .4-.3 .4 .7 .4 1.5 .4-.8 .4 .9 .4 1.2 .4-.8 .4 .8 .3-.2 .4 3.1 .4-1.2 .4 .3 .4 2 .4 0 .4 1.5 .4 .2 .4 2.7 .4 .1 .4-.3 .4-.5 .3 1 .4 1.7 .4 .9 .4 .7 .4-.1 .4 1.6 .4-.9 .4 .3 .4 1.7 .4 .4 .4-.7 .4 .9 .4 .5 .3-1.2 .4-.2 .4 1.3 .4-.6 .4-.2 .4 .6 .4-1.2 .4 .2 .4 2.6 .4-1.1 .4 1.4 .4-2 .3 .1 .4 .9 .4-.2 .4 2 .4 1.2 .4-1.6 .4-1.3 .4 2 .4 .7 .4-.6 .4-1.8 .4-1 .4 1.8 .3 .9 .4-.2 .4-.6 .4-.4 .4 .1 .4 .3 .4 .8 .4-.2 .4-.4 .4-.5 .4 1.2 .4 1.6 .3-1.8 .4 1.2 .4 .1 .4-1.3 .4-1 .4 2 .4-1.4 .4-.8 .4-.4 .4 2.2 .4-.4 .4-1.4 .4 .2 .3 1 .4 .3 .4-.9 .4 1.9 .4 .4 .4-1.2 .4-.4 .4-.4 .4-1 .4 1.5 .4-.4 .4 1.1 .3 1.2 .4-1.2 .4-.7 .4-.1 .4 .3 .4-1.3 .4 .5 .4 0 .4-.7 .4 2 .4 .6 .4-.5 .4-1.7 .3 1.3 .4-.6 .4 1.3 .4-.2 .4-1.7 .4 .8 .4-.4 .4-1.2 .4 .5 .4-1.6 .4-1.9 .4-1.7 .3 .5 .4-1.4 .4-1.7 .4-1.7 .4 1.1 .4-1.5 .4 1.1 .4 .6 .2 .1 .2-1.8 .4 1.8 .4 .3 .4 1.5 .4 1.5 .3-.7 .4 .4 .4 2.5 .4-.4 .4-.5 .4-.2 .4 2 .4 .3 .4 2.5 .4-1.8 .4 .6 .4 1.4 .3 .4 .4 1.1 .4-.1 .4 .8 .4 .8 .4 0 .4-.8 .4-1.1 .4-.1 .4-1.1 .4-.4 .4 .7 .4 .1 .3-.1 .4-1.1 .4 2.5 .4-.9 .4 0 .4-.4 .4 .5 .4 1 .4 1.1 .4-.7 .4 .9 .4-1.6 .3-.3 .4-.7 .4 1.8 .4-1.9 .4-.7 .4 1.5 .4-1 .4-1.1 .4 .5 .4 .5 .4 .3 .4-.6 .4 0 .3-.1 .4-.5 .4 .9 .4-.4 .4-.4 .4 2.3 .4 1.1 .4-1.2 .4-.1 .4-1.5 .4-1 .4 1.2 .3 2.1 .4-1.9 .4 .3 .4 1.3 .4-1.9 .4 .9 .4-.6 .4 1.4 .4 .9 .4 .7 .4 0 .4-2.3 .4 .8 .3 0 .4-.8 .4-.8 .4 .6 .4 .1 .4 0 .4 1.9 .4-1.5 .4 1.4 .4-1.7 .4 1 .4-.3 .3-.4 .4 .2 .4-1.1 .4-.3 .4 .6 .4-.5 .4 2 .4 .5 .4 0 .4 .3 .4-1.7 .4-1.3 .4-.4 .3 2.5 .4-.1 .4 1.6 .4-1.3 .4-.5 .4 .7 .4 1 .4-.9 .4-.3 .4-.5 .4-.7 .4 1.9 .3 1 .4-1.1 .4-1.5 .4 1.7 .4-.5 .4 .7 .4-.7 .4-1.6 .4 1.5 .4-1.4 .4 2.1 .4-1.6 .4-.2 .3-1.2 .4 .1 .4 1.5 .4-1.2 .4-.5 .4-.4 .4-.4 .4 1.5 .4-.2 .4 1.7 .4 .6 .4-.3 .3 1.3 .4 .8 .4-1.9 .4 .6 .4 .1 .4-1.7 .4 1.2 .4-2 .4 1.2 .4 1.4 .4-.2 .4 .1 .4-.1 .3-.9 .4-1.5 .4 .2 .4-.2 .4 1.7 .4 1 .4 .8 .4-1.7 .4 1 .4 .5 .4-2.7 .4 .4 .3-1.3 .4-.8 .4 .9 .4 1.3 .4-1.2 .4-.1 .4 .5 .4 .4 .4-1.2 .4-.5 .4-.8 .4 .5 .4 2.5 .3-1.5 .4 1 .4 .1 .4 .6 .4-.1 .4-2.8 .4-.8 .4 1 .4-.7 .4-.2 .4-3.6 .4 0 .3-2.7 .4-1.4 .4-3 .4-4.1 .4-3.5 .4-5.3 .4-1.2 .4-2 .4-2.3 .4-.8 .4 .9 .4 1 .4 1.9 .3 4.3 .4 5.2 .4 4 .4 3.1 .4 .7 .4 1.7 .4 1.6 .4 2.3 .4 2.7 .4 .8 .4 .6 .4 0 .3-.7 .4 .1 .4 2.6 .4 1.1 .4-.2 .4 0 .4-1.5 .4-1.3 .4-.7 .4-.3 .4 .4 .4 3 .4 0 .3-1.1 .4-1 .4-.8 .4-.3 .4 .2 .4 .8 .4-.2 .4 .1 .4 1.5 .4-1 .4-.5 .4 1.9 .3-.7 .4 .9 .4-.8 .4 1 .4-1.8 .4 0 .4 2 .4-.9 .4 .7 .4-1.2 .4-.9 .4 .6 .4 .4 .3-1.2 .4 1 .4 .2 .4-.1 .4 1.2 .4 1.1 .4-1.1 .4-.9 .4 1.1 .4 .5 .4-.6 .4 0 .3-.9 .4 .9 .4-.1 .4 .9 .4-1.5 .4-1.5 .4 1.9"/>
<path stroke="#FF0000" d="M1028.0 1056.1l.4-1.1 .4-.6 .4-2.6 .4 .5 .4-.1 .4-3.8 .4-1.3 .4-3.3 .3-.6 .4-1.9 .4-2.7 .4-4 .4-5.7 .4-4.8 .4-7.1 .4-6.3 .4-4.2 .4-3.4 .4-4.5 .4-3.3 .2-.8 .1 .9 .4 2.4 .4 5.6 .4 5 .4 6.1 .4 5.5 .4 5.1 .4 5 .4 2.6 .4 4.7 .4 3.2 .4 3 .4 1.9 .3 1.6 .4 2.9 .4 1.9 .4-.6 .4 2.3 .4 .5 .4-1.1 .4 2.2 .4 1.7"/>
<path stroke="#008080" d="M235.0 919.0l.4-.3 .4 1.2 .4 0 .4 .1 .4 1.5 .4 2.8 .3 1.3 .4 .8 .4-1.1 .4 .8 .4-.1 .4-.2 .4 .1 .4 .6 .4 3.1 .4 1.5 .4 1 .4 .8 .3-1.4 .4 .1 .4 1.4 .4 1.3 .4 1.5 .4 1.1 .4-1.9 .4 1 .4 1 .4 .1 .4-.8 .4 .8 .4-.7 .3 2.6 .4 1.3 .4-.2 .4-.8 .4 1.8 .4 0 .4 1.2 .4 .7 .4-.7 .4-.4 .4 .6 .4-.1 .3-.8 .4 .2 .4 2.1 .4-1.4 .4-.5 .4 1.9 .4-.1 .4 .8 .4 .3 .4-.2 .4 2.2 .4-1.6 .4 .1 .3-.6 .4 1.2 .4-.5 .4 .1 .4 1.4 .4-.6 .4 .6 .4 1.5 .4-1.9 .4-1 .4 .2 .4 2 .3 .5 .4-.9 .4-.1 .4-.4 .4 .8 .4-1 .4 1.9 .4 1.6 .4 1.2 .4-.1 .4 .7 .4-2.7 .4-.3 .3 2.2 .4 .5 .4-.9 .4 1.4 .4-.2 .4 .6 .4-1.4 .4-1 .4 .4 .4-.7 .4 .6 .4 2.3 .3-.9 .4-1.5 .4-.5 .4 .2 .4 2.3 .4-.2 .4-.3 .4-.7 .4 2.6 .4-.5 .4-.9 .4-.9 .4-.5 .3 .3 .4 1.9 .4-.8 .4-.8 .4 1.3 .4-.2 .4 2.5 .4-1.7 .4 .6 .4 1.2 .4-.6 .4 1.7 .3-.8 .4-1.1 .4 0 .4-1.2 .4 .8 .4-.2 .4 2.1 .4 1 .4-.6 .4-1.9 .4-.1 .4-.1 .4-.1 .3 .1 .4 2.3 .4-1.3 .4-.9 .4 2.5 .4 .1 .4 1.6 .4-1.2 .4 1.1 .4-.2 .4 .4 .4 .1 .3-.7 .4-1.7 .4-.4 .4 2.1 .4 1.1 .4 .8 .4-1.6 .4 .2 .4 .6 .4-.2 .4 .5 .4-.8 .4 .1 .3 .1 .4-1.3 .4 1.5 .4 .9 .4-2.6 .4 1.8 .4 .9 .4-.6 .4-2.4 .4 1.7 .4-1.8 .4 2 .3 0 .4-2.1 .4-.7 .4 1.2 .4 .4 .4 .8 .4 1.1 .4-1.9 .4-1.7 .4 2.3 .4-2 .4 2 .4-1.7 .3 1.6 .4 .7 .4 .7 .4-.8 .4 .7 .4-1.9 .4 .6 .4-.9 .4 1.5 .4 .4 .4-.9 .4-.3 .3-1.8 .4-.9 .4 1.5 .4 .4 .4 1.4 .4-.1 .4-1.7 .4-.1 .4 1.3 .4-.2 .4-1.8 .4 1.8 .4 .9 .3-2.1 .4 .4 .4-.5 .4 1.1 .4-1.3 .4-1.3 .4-.2 .4 .9 .4-3.5 .4-3 .4-1.6 .4-1.9 .3-4.2 .4-3.4 .4 .1 .4 1.4 .4 .7 .4 5.2 .4 2 .4 2.4 .4 3.7 .4 .9 .4 1.9 .4-1 .4 2.1 .3-1.3 .4-.7 .4 .9 .4-.1 .4 .7 .4 1.6 .4 .2 .4-2.4 .4-.1 .4 .8 .4 .1 .4 .9 .3-.3 .4-1.6 .4-.2 .4 1.9 .4-.6 .4 1 .4 1.3 .4-.6 .4-.1 .4-.3 .4-1.2 .4 1.5 .4-.8 .3 1.1 .4-1.5 .4 1.2 .4 .3 .4-.5 .4-.8 .4-1.4 .4 1.4 .4-.7 .4 .7 .4-1.4 .4-.9 .3-.3 .4 2.2 .4-1.1 .4 1.9 .4-.8 .4 .2 .4-.6 .4 .6 .4-1.5 .4 .3 .4 2 .4-1.6 .4 .8 .3-.7 .4-.4 .4-1.2 .4-.6 .4 2.9 .4 1 .4 .4 .4 .2 .4 .6 .4-2.4 .4 .3 .4-.2 .3 .2 .4 1.3 .4 .1 .4 .7 .4-2.5 .4 .5 .4 .4 .4 .4 .4-.2 .4 .6 .4-1.5 .4 1.4 .4-1.1 .3 .1 .4 1.1 .4-.2 .4-1.4 .4-.9 .4-.2 .4 .9 .4 1.8 .4 .5 .4-1.4 .4-.8 .4 1.1 .3-1.3 .4-.2 .4-1.5 .4-.1 .4 1.1 .4 1.1 .4 .3 .4-.7 .4 1.6 .4-.3 .4-1.7 .4-1.2 .4 2.5 .3 1.3 .4 .4 .4-.9 .4-1.4 .4-1.5 .4-.1 .4-.2 .4 2.3 .4 1 .4 .1 .4-2.1 .4-.7 .3-.2 .4 2.2 .4-1.6 .4 1.3 .4 .3 .4-.3 .4 1.2 .4-1.8 .4 .1 .4-1.3 .4-.8 .4-.7 .4 .7 .3-.4 .4-.4 .4 3 .4-.9 .4 1.6 .4 .1 .4 .2 .4-.2 .4 .9 .4 .2 .4-.4 .4-.8 .3 .1 .4 .1 .4-.5 .4-.5 .4-1.4 .4 1.7 .4-.5 .4-1.6 .4-.5 .4 2.2 .4-1 .4-.1 .4 1 .3 1 .4-1.2 .4-.5 .4-.1 .4-1.4 .4 2.2 .4-1.8 .4 2.2 .4-1.6 .4-.8 .4 2 .4 .8 .3-1.5 .4 .3 .4-.1 .4 .7 .4-1.4 .4 1.4 .4 1.3 .4-.3 .4 .5 .4 .4 .4-1.8 .4 .7 .4 .3 .3-.7 .4-1.9 .4 .7 .4 1.4 .4-1.4 .4 .4 .4 1.1 .4-.5 .4-2.1 .4 .9 .4-.8 .4 1.6 .3 .2 .4-1.2 .4 1.5 .4-.3 .4-1 .4 1.1 .4 .7 .4 .4 .4 .2 .4-.7 .4-.2 .4-.5 .4-.5 .3 1.3 .4-1.5 .4-1.6 .4 1.3 .4-.1 .4 .1 .4 .2 .4-1.1 .4-.7 .4-.8 .4 2 .4 1.4 .3 0 .4-2 .4 2 .4 .4 .4-.9 .4-2.1 .4 1.8 .4 .1 .4 0 .4-2 .4 1.4 .4-1.7 .4 .7 .3-.8 .4 .3 .4 2 .4 .5 .4 .4 .4-1.5 .4-.5 .4 .5 .4-1.7 .4 .4 .4 2.2 .4 .3 .3 .5 .4-1.7 .4 .5 .4 .6 .4 0 .4-1 .4-1.3 .4-1.2 .4 2.3 .4 1.3 .4-1.6 .4 .8 .4-.7 .3 .3 .4 .9 .4-1.3 .4 .3 .4-1 .4 .3 .4-1.5 .4 0 .4 .1 .4 2.2 .4-1.6 .4 1.3 .3-1.6 .4 2.2 .4-1.6 .4-1.1 .4-.2 .4 2.4 .4 .2 .4 .9 .4-.9 .4-1.8 .4-.1 .4 .3 .4 2 .3-1.8 .4-.7 .4 1.7 .4-1.7 .4 2.1 .4-1.2 .4 .2 .4 .5 .4 1 .4-2.3 .4 1.5 .4-1.6 .3 1 .4-1.8 .4 1.6 .4-1.2 .4-.6 .4-.9 .4 .6 .4 .2 .4 2.4 .4-.1 .4-.9 .4 1.6 .4-1.9 .3-.9 .4 2.1 .4 1 .4-.5 .4 .8 .4-2.8 .4 1.5 .4 .1 .4-.2 .4 .5 .4-2.2 .4-.9 .3-.6 .4 .8 .4 .6 .4 .3 .4-.5 .4 1 .4 .8 .4 .1 .4-2.4 .4-.8 .4-.2 .4-.1 .4 1.1 .3-.8 .4 1.1 .4-.5 .4-.1 .4 1 .4 1.3 .4-1.9 .4-.5 .4 1.9 .4-1.7 .4-1.5 .4-.3 .3 2.1 .4 .6 .4 1 .4-1.1 .4-2.1 .4-.2 .4 1.3 .4-.5 .4-1.2 .4 .2 .4 .3 .4-.3 .4 .2 .3-1.1 .4-.9 .4 2 .4 .8 .4-.8 .4-1.5 .4-.2 .4 .8 .4 1.4 .4-.8 .4 1.2 .4-1 .3-1.8 .4 .5 .4 .1 .4-.1 .4 .3 .4-2.3 .4 .1 .4 1.1 .4-1.8 .4-1.4 .4-.3 .4 0 .4 .3 .3-.4 .4 .7 .4-1.4 .4-.3 .4 .7 .4-.2 .4 1 .4 .2 .4-2.5 .4-1.2 .4-.3 .4-.4 .3-1.1 .4 .8 .4-2.3 .4-.6 .4-1.8 .4 1.2 .4-.9 .4 .4 .4-3.1 .4-.3 .4-1.1 .4-3 .4 .4 .3-.3 .4-3.7 .4 .3 .4-1.3 .4-2.2 .4-2.3 .4-3.3 .4-3.5 .4-1.6 .4-.8 .4-4.1 .4-2.8 .3-3.7 .4-2.4 .4-2.2 .4-3.5 .4-6.1 .4-5.1 .4-6.7 .4-4.4 .4-4.3 .4-5.5 .4-9 .4-7.1 .4-8.8 .3-7.7 .4-6.8 .4-10.4 .4-8.4 .4-9.2 .4-10.6 .4-12.9 .4-9.7 .4-10.4 .4-10.4 .4-13.7 .4-11.7 .3-9.1 .4-7.4 .4-6.8 .4-6.5 .4-2.4 .4-1.2 .2 0 .2 0 .4 1.9 .4 4.2 .4 3.6 .4 7.3 .4 7.4 .4 8.8 .3 12.1 .4 10.2 .4 10.8 .4 10.8 .4 12 .4 9.8 .4 11.8 .4 8.9 .4 12.1 .4 7.7 .4 10.1 .4 8.2 .3 7.2 .4 6.6 .4 6.6 .4 7.6 .4 5.7 .4 5.4 .4 4 .4 5.5 .4 3.2 .4 4.5 .4 4.5 .4 3.5 .4 3.4 .3 3 .4 1.5 .4 4.5 .4 2.5 .4 2.4 .4 2.9 .4 .7 .4 .8 .4 1 .4 1.3 .4 1.3 .4 1.4 .3 .9 .4 1.9 .4 .9 .4 1.2 .4 2.1 .4 .2 .4 2.5 .4 1.4 .4-.6 .4 1.8 .4-1 .4-.4 .4 3.1 .3-1.4 .4-.5 .4 2.9 .4-1.3 .4 1.9 .4 .8 .4-.6 .4 0 .4 2.7 .4-.5 .4-.5 .4 .5 .3 1.5 .4-.7 .4-.8 .4 2.1 .4-1.2 .4-.6 .4-.4 .4 3.3 .4-.1 .4 1 .4 0 .4 1.6 .4-1.3 .3-.6 .4 1 .4-1.8 .4 .5 .4 1.6 .4 .2 .4-.1 .4 1.6 .4-.9 .4 .6 .4-.8 .4-1.4 .3 .3 .4-.4 .4-.8 .4 .4 .4-.3 .4 .8 .4 1.3 .4 .5 .4 .4 .4-2.1 .4-.4 .4-.1 .4-2.7 .3-.8 .4-4.7 .4-1.2 .4-2.5 .4-2.5 .4-2.8 .4-1.9 .2-1.4 .2 .6 .4 2.3 .4 2.1 .4 3.1 .4 4.4 .3 1.3 .4 2 .4 .7 .4 3.8 .4 1.5 .4 1.3 .4-.7 .4-.3 .4 1 .4 2 .4-.7 .4-.1 .4 .1 .3 1.5 .4-1.7 .4 1.8 .4-2 .4 1.4 .4 .9 .4-.5 .4 .7 .4-1.2 .4-1.1 .4 .3 .4-.2 .3 1.5 .4 .2 .4 .5 .4 1.3 .4 0 .4 0 .4 .7 .4 .2 .4-.5 .4-1.6 .4-.2 .4 .7 .4 .5 .3 .6 .4-.2 .4-.3 .4-1.6 .4 .5 .4-1.2 .4 .9 .4-1.1 .4-1 .4 2.6 .4 1.1 .4-1.4 .3-1.6 .4 1.9 .4 .7 .4-1.6 .4 1.4 .4 .8 .4-.5 .4-1.3 .4-1.4 .4-.6 .4 1 .4 1.4 .4 .5 .3-1.2 .4 1.4 .4-1.8 .4 .9 .4-1 .4-1 .4 .1 .4 2.1 .4-.9 .4-1.2 .4 1.1 .4 0 .3 .8 .4 .4 .4 .7 .4 1 .4-1.5 .4 .3 .4-1.6 .4-.4 .4-.8 .4 2.2 .4-.7 .4 .8 .4 .9 .3-1.3 .4-1.3 .4-.7 .4 .4 .4-.4 .4-1.5 .4 1.8 .4-.1 .4 .5 .4 0 .4-.6 .4-.1 .3-.5 .4-1.1 .4 .8 .4 1 .4-2.1 .4-.6 .4 0 .4 1.2 .4 2.2 .4 .1 .4 1.4 .4-.9 .4 .4 .3-.8 .4 1 .4-.6 .4-1.2 .4 .8 .4 1 .4 1.6 .4-1.2 .4 1.6 .4 .5 .4-2 .4 1.1 .3 1.1 .4 .7 .4-.6 .4-1.3 .4-.1 .4 .3 .4 0 .4-1.4 .4 1.7 .4-.3 .4-1.8 .4-.1 .4-.8 .3 .9 .4-.7 .4 1 .4-.3 .4 1.8 .4 .6 .4-1.6 .4 1.3 .4-.1 .4-1.1 .4 1.6 .4-2.3 .3 .2 .4 .8 .4-1 .4 .5 .4 1.7 .4-1 .4 .7 .4-1.4 .4 2 .4 .9 .4-2.2 .4 .9 .4-1 .3-1.5 .4-.1 .4 1.7 .4-.1 .4 .2 .4-1.2 .4-.5 .4 .4 .4 .7 .4 1.4 .4-.5 .4-.7 .3 1.7 .4 0 .4 .3 .4 .3 .4-.9 .4-1.3 .4-1.1 .4 1.3 .4 1 .4 1 .4 .6 .4-1.2 .4-.6 .3 1.4 .4-2.4 .4-.1 .4 .5 .4 .4 .4 .3 .4-1.4 .4 .4 .4-.8 .4 .2 .4-.5 .4 .2 .3 1.1 .4-.2 .4-.8 .4 .5 .4 1 .4-.8 .4-.4 .4 .3 .4 1 .4-1.7 .4 1.3 .4-1.5 .4 2.2 .3-1.4 .4 1.5 .4-1.9 .4 .6 .4-.5 .4 1.5 .4 .7 .4-1.8 .4-1.1 .4 1.7 .4-.2 .4-.3 .3-.2 .4 0 .4 .7 .4-.3 .4-1 .4 .6 .4 2.1 .4 .3 .4 0 .4 .7 .4-1.3 .4-1 .4 1 .3-1.8 .4 1.3 .4-1.4 .4 .9 .4 .1 .4 .9 .4-2 .4 1.1 .4 1.1 .4-2.2 .4 1.2 .4-.9 .3 1.2 .4 1.4 .4-2.6 .4 0 .4 .3 .4 1.8 .4 .7 .4-2.7 .4-1 .4 .4 .4 1.5 .4 .7 .4-.5 .3 .9 .4 .1 .4 .1 .4-.9 .4-1.8 .4 .4 .4-.1 .4 .3 .4-2.9 .4-2.6 .4-1.2 .4-2 .3-2.2 .4-4.2 .4-2.7 .4-4.7 .4-5.9 .4-6 .4-3.1 .4-3.4 .2 1.8 .2-.7 .4 4.1 .4 2.5 .4 5.2 .4 6.6 .3 4.6 .4 3.7 .4 4.6 .4 .7 .4 3.4 .4 1 .4 0 .4 .5 .4 .2 .4 1.4 .4 .1 .4 .4 .3 .6 .4 .9 .4-.2 .4-1.6 .4 .2 .4-.1 .4 .3 .4-2.1 .4-.9 .4 0 .4-1.6 .4-.8 .4 .9 .3 .1 .4 2.1 .4-.2 .4-.2 .4 1.5 .4 1 .4 2 .4 .9 .4-1.2 .4-.5 .4 .5 .4-.2 .3 .2 .4-.5 .4 1.3 .4 .8 .4 .1 .4-.1 .4 .4 .4-1.9 .4 1.3 .4-1.8 .4-1.3 .4 .8 .4-.8 .3-.1 .4 1.2 .4-1 .4 .4 .4 0 .4 2 .4-1.9 .4 .5 .4 .1 .4-1 .4 .1 .4 .2 .3 0 .4 .7 .4 .4 .4-.2 .4-.1 .4 .5 .4-.2 .4-1.3 .4 1.1 .4-.2 .4 1.3 .4-1.7 .4 .5 .3-.6 .4 .8 .4 1.1 .4-.1 .4-.3 .4 1 .4-1.9 .4 1.6 .4-1.1 .4 0 .4-1.8 .4-1.4 .3-.4 .4 .8 .4-.9 .4 1.1 .4-2.2 .4 .1 .4 .3 .4-1.1 .4-.1 .4-.4 .2 0 .2-2.6 .4 .7 .4 .3 .3 1.2 .4 2.1 .4 1.5 .4-.7 .4-.2 .4-.3 .4 2.3 .4 1.5 .4-1.7 .4-.6 .4-.3 .4 2.7 .3-1.7 .4 .8 .4 1.4 .4-1.7 .4 .9 .4-.9 .4 .6 .4-.5 .4-1.4 .4 1.5 .4-.8 .4 .8 .4-1.5 .3-.2 .4-2.1 .4-4.3 .4-3.7 .4 0 .4-2.6 .4-2 .4-1.4 .4-2 .4 1.1 .4 1.8 .4 .6 .3 3.5 .4 4.4 .4 1.9 .4 2.5 .4-.7 .4 1.3 .4 1.2 .4 1 .4 1.7 .4-.3 .4 .3 .4 0 .4 .6 .3 0 .4-.6 .4-.7 .4 1.7 .4-.9 .4 .8 .4-1.1 .4 1.9 .4-1.7 .4-.1 .4-.2 .4 1.6 .3 .3 .4-1.4 .4-.8 .4 1.3 .4-.4 .4-1 .4-.8 .4 1.7 .4 .6 .4 .8 .4-2 .4 .3 .4-1 .3 1 .4-.7 .4-.3 .4 .9 .4-.8 .4 1.7 .4-1.3 .4-.3 .4 1.5 .4-.9 .4-.4 .4 1.5 .3 0 .4 .8 .4 .7 .4 .6 .4-2.7 .4-.3 .4 .1 .4-.5 .4 1.7 .4-.8 .4 1.4 .4-2.2 .4 .2 .3 .7 .4 .9 .4-.6 .4 1.2 .4-1.5 .4-.6 .4-.8 .4-.4 .4 .8 .4 1.2 .4-1.2 .4 .4 .3 0 .4 1.8 .4-.7 .4 .7 .4-1.6 .4 1.4 .4-2.2 .4-.7 .4 1.2 .4 .3 .4 .1 .4 .3 .4-.8 .3 .7 .4-.7 .4 .3 .4 .5 .4-1.2 .4 .8 .4 .5 .4 .5 .4-3.1 .4-.7 .4-1.7 .4-1.4 .3-.6 .4-.3 .4-3.9 .4-1.7 .4-3.3 .4-4.4 .4-6.8 .4-9.4 .4-7 .4-7.2 .4-6 .4-.6 .4 .8 .3 6.2 .4 7.8 .4 6.5 .4 5.9 .4 8 .4 3.8 .4 3.3 .4 5.4 .4 1.2 .4 1.4 .4 1.5 .4 2.2 .3-.4 .4 .3 .4-.5 .4 .5 .4 1.9 .4 .7 .4 .3 .4 1.1 .4-2.3 .4-.4 .4 1.1 .4-.5 .4 1.9 .3-1.7 .4 1.6 .4 0 .4-.3 .4 .7 .4-1.6 .4-1.3 .4-.5 .4 .4 .4 .1 .4-1.1 .4-.7 .3-1.7 .4-1.7 .4-4.6 .4-1.8 .4-4.3 .4-5.8 .4-6.7 .4-5.2 .4-6.9 .4-5.4 .4-3 .4-2.2 .4 1 .3 3.1 .4 5.9 .4 8.1 .4 5.2 .4 5.2 .4 4.2 .4 5.3 .4 4.2 .4 1.2 .4 3.4 .4-.6 .4 .5 .3 .4 .4 2.8 .4-.8 .4 2 .4-.7 .4 0 .4-.6 .4 2.2 .4-.4 .4 1.7 .4 .1 .4-.3 .4-.6 .3 .1 .4 .2 .4 1.3 .4-1.8 .4-1.1 .4 2.3 .4 .1 .4-.2 .4-.6 .4-1.9 .4-.2 .4 1.9 .3-.9 .4 .7 .4-.1 .4-1.1 .4-.9 .4-.5 .4 2 .4-.6 .4 .6 .4 .5 .4 .9 .4-1.6 .4 .1 .3 1.1 .4 .3 .4-.5 .4 .3 .4 .6 .4 .7 .4-.9 .4-1.9 .4-.9 .4 1.4 .4 .8 .4-.5 .3 .7 .4-1.4 .4 0 .4-.1 .4 1.2 .4 1.3 .4-1.6 .4-1.5 .4 .2 .4 1.8 .4 1.3 .4-2.5 .4-.4 .3 .4 .4 1.5 .4-.3 .4-.6 .4 1.5 .4-.1 .4 .5 .4 0 .4 .6 .4-.8 .4 0 .4-1 .3 .1 .4 .9 .4 .4 .4 .1 .4-.8 .4-1 .4-.8 .4-.5 .4 1.6 .4-.1 .4 .3 .4-.3 .4-2.1 .3 .1 .4-.3 .4 2 .4 0 .4-1.1 .4-.1 .4 1.2 .4-.6 .4 .2 .4-1 .4-.4 .4 1 .3-1.5 .4 .9 .4 1 .4 1 .4-1.2 .4-.3 .4 1.2 .4-.2 .4 .2 .4-1.1 .4-2 .4 1.4 .4-1.8 .3 1.1 .4-.9 .4 1.3 .4 0 .4-.5 .4-.4 .4-.8 .4 1.8 .4-.6 .4 .9 .4-2.4 .4-1.7 .3-.5 .4 0 .4 2.1 .4-2.2 .4-.2 .4 .7 .4-2.2 .4-1.8 .4-1.9 .4-2.5 .4-.5 .4-1.5 .4-3 .3-1.3 .4-1.6 .4-.4 .4-1.7 .4-.3 .4 2.9 .4 1.9 .4 2.2 .4 .8 .4 2.1 .4 1.1 .4 2.2 .3 2.5 .4 .1 .4 .1 .4 1.1 .4 0 .4-.4 .4-1.3 .4 2.1 .4 0 .4 1.2 .4-1.2 .4 1.1 .4 .3 .3-1.9 .4 .7 .4-2.2 .4 .8 .4 .6 .4 0 .4-1.8 .4-.9 .4-1.3 .4 1.5 .4-.7 .4-.1 .3-1.5 .4-1.4 .4 .4 .4-.4 .4-1.5 .4-1.9 .4-1 .4-3.3 .4-2.8 .4-.9 .4-2.1 .4-2.1 .4-2.7 .3-3.9 .4-4.6 .4-1.8 .4-2.3 .4-4.1 .4-4.6 .4-2.2 .4-4.9 .4-4 .4-2 .4-2.4 .4-1.1 .3-3.7 .4 1 .4-1.8 .4 0 .4-1.2 .4 1.1 .4 1.7 .4 3 .4-.3 .4 .3 .4 3.3 .4 2.3 .4 0 .3 .3 .4 1.4 .4-1 .4-1 .4-1.2 .4-2.2 .4-2.2 .4-2.2 .4-3.9 .4-2.5 .4-2.6 .4-3.5 .3-7.2 .4-6 .4-4.9 .4-6.1 .4-9.5 .4-9.8 .4-7.7 .4-11.1 .4-10.1 .4-10.3 .4-13.8 .4-13.6 .4-12.8 .3-15.3 .4-13.6 .4-13.9 .4-14.8 .4-13.5 .4-13.8 .4-13.7 .4-11.8 .4-13.3 .4-10.8 .4-8.4 .4-6.8 .3-2.1 .4-1.2 .2 .4 .2-1.1 .4 3.2 .4 5.2 .4 6.3 .4 8.6 .4 9.7 .4 9 .4 12.5 .4 13.3 .4 15.1 .4 15.1 .3 16.2 .4 13.3 .4 16.2 .4 12.3 .4 14.9 .4 12.2 .4 12.8 .4 12.3 .4 9.4 .4 11.5 .4 10.6 .4 8.1 .3 7.5 .4 9.1 .4 6.7 .4 6.1 .4 6.2 .4 6.8 .4 5.4 .4 4.7 .4 3.4 .4 3.9 .4 5 .4 3.4 .4 2.3 .3 4.6 .4 2.6 .4 1.7 .4 4 .4 1.4 .4 .3 .4 1.9 .4 1 .4 3 .4 1.9 .4-1 .4 .1 .3 2.3 .4 .9 .4 0 .4 .9 .4-.6 .4 .9 .4 .9 .4 1.7 .4-.3 .4-.3 .4-2 .4 .4 .4 .3 .3 .4 .4-1.2 .4 1.4 .4-.1 .4-.2 .4 .8 .4 .4 .4-2.5 .4 1.5 .4-.3 .4 .4 .4-1.4 .3-.2 .4 2.8 .4 .4 .4 2.7 .4 1.7 .4-.1 .4 .6 .4 .7 .4 .5 .4 1.6 .4 1.7 .4-1.1 .4 .1 .3 .2 .4-.8 .4 .2 .4 .3 .4 2.3 .4-.6 .4 1.2 .4 2.1 .4-.8 .4 1.8 .4-1.6 .4-.3 .3-.8 .4-.3 .4 .8 .4 1.7 .4 .6 .4-1.2 .4-1 .4-.5 .4 .7 .4 1.1 .4-1.3 .4-.3 .4 1.8 .3-.5 .4-.9 .4 2.2 .4-1.4 .4 1.6 .4-1.5 .4 2 .4-.3 .4-.6 .4-.7 .4 1.8 .4-.5 .3 .3 .4-.7 .4-.8 .4 .1 .4-.2 .4 1.6 .4 1.1 .4 .4 .4-1.4 .4-.5 .4 1.8 .4-.7 .4 0 .3-1.7 .4 1.6 .4-.4 .4-.9 .4 .5 .4-.7 .4 .1 .4 .2 .4 .3 .4-.2 .4-.6 .4 1.9 .3 0 .4-.5 .4 .6 .4-1.5 .4-.1 .4 .2 .4 .5 .4 1.6 .4-.7 .4-.4 .4 .5 .4 .8 .4-1.1 .3 .6 .4-.7 .4-1.5 .4-.6 .4-.4 .4 1 .4 0 .4 1.1 .4 1.1 .4-.3 .4 .7 .4-1 .3-1 .4 1.7 .4 0 .4-1.2 .4-.1 .4 1.8 .4-2 .4 1.8 .4-1.7 .4 1.8 .4-.3 .4-1.5 .4-.2 .3 .2 .4 .9 .4 1.1 .4 .7 .4-1.8 .4 .3 .4 .9 .4-1.6 .4 1.3 .4-1.3 .4 .6 .4-.1 .3 .1 .4 1.2 .4-1.9 .4-.6 .4 2.2 .4-.1 .4 .8 .4-1.9 .4-.6 .4 .5 .4 .9 .4-.4 .4-1.8 .3 .3 .4 1.3 .4 .9 .4-2.3 .4-.1 .4 1.6 .4 .1 .4-.5 .4-1.8 .4 0 .4-.3 .4-.1 .3-.2 .4-1.8 .4 1.4 .4-.9 .4-1.6 .4 .2 .4-1.4 .4-1.8 .4-.1 .4-2.7 .4 .7 .4-1.8 .4-3.3 .3-.9 .4-3.4 .4-5.8 .4-2.8 .4-6.3 .4-5.3 .4-4.6 .4-4.8 .4-3.8 .4-4.1 .4-4.8 .4-.8 .3-.4 .4 4.2 .4 4 .4 5.9 .4 4 .4 6.2 .4 5.4 .4 3.5 .4 5.6 .4 5.5 .4 3.3 .4 3.5 .4-.3 .3 2.5 .4 1.7 .4 .9 .4 2.2 .4 .2 .4-.7 .4 1.8 .4 1.9 .4-.4 .4 .8 .4-1 .4 2.5 .3 1.4 .4-2.5 .4 1 .4 1.6 .4-.6 .4-1.6 .4 1.4 .4 0 .4-.5 .4-1.1 .4 0 .4 2.1 .4-.1 .3 .2 .4 .5 .4-.6 .4 1.1 .4 .4 .4-2.2 .4 1.1 .4-1.6 .4 .9 .4 1.9 .4 .6 .4-1.4 .3 1.4 .4-1.8 .4 .9 .4 .6 .4-2.1 .4-.3 .4 .9 .4 1.9 .4-1.8 .4 .1 .4 1.5 .4-1.7 .4 1.4 .3 .4 .4 .4 .4-1.3 .4 .2 .4-1.5 .4-.2 .4 1.6 .4-1.5 .4 .7 .4-1.2 .4 1.9 .4 .3 .3-1.5 .4 1.8 .4 .1 .4 0 .4-1.9 .4 1.6 .4 .4 .4-.9 .4-1.5 .4 1.6 .4-1 .4 1.4 .4 0 .3-.7 .4-.1 .4-.6 .4 .4 .4 1.5 .4-.3 .4-.8 .4 .7 .4 1.2 .4-2 .4 .2 .4 1.2 .3-.5 .4-1.4 .4-.9 .4 1.3 .4 .1 .4-1.7 .4-.9 .4 .1 .4 .6 .4-.3 .4-1 .4-1.2 .4-.2 .3-.3 .4-2.7 .4-2.5 .4-2.2 .4-4.1 .4-2.6 .4-5.3 .4-2.4 .4 .1 .4-.2 .4 1.5 .4 4.7 .3 4.2 .4 4 .4 3.9 .4 1.1 .4 3.3 .4 1.9 .4 1.7 .4-1.1 .4-1.2 .4 2 .4-.8 .4-.9 .4 2 .3 .9 .4 .4 .4-1.7 .4 1.3 .4-1 .4 .4 .4 .9 .4-.7 .4-.3 .4 1.4 .4 .2 .4 .7 .3-2.4 .4 1.4 .4-1.4 .4-.2 .4 1 .4 1 .4 0 .4-.5 .4-.1 .4 .2 .4-1.3 .4 0 .4 .1 .3-1 .4 .6 .4 1.2 .4-1.8 .4 .3 .4 2.1 .4 1 .4-2.1 .4 1.5 .4 .9 .4-.6 .4-1.7 .3 0 .4-1.2 .4 .8 .4-1.1 .4 .3 .4-.7 .4 1.4 .4-.5 .4 1.3 .4 .4 .4-2.3 .4 .5 .4 0 .3-1.8 .4 .7 .4-2.3 .4-.3 .4 1.4 .4 1.3 .4 1.5 .4-.3 .4 .6 .4 1.3 .4 .8 .4-1.6 .3-.4 .4 1 .4-.3 .4-1.6 .4 2.1 .4-.8 .4-1.1 .4 0 .4-1 .4 2.5 .4-1.3 .4-1.2 .4 2.7 .3-.9 .4 .7 .4-.6 .4-.4 .4 1.8 .4 .3 .4-1.2 .4 1 .4 .4 .4 .5 .4-1.3 .4-.6 .3 1.3 .4-.8 .4-.8 .4 .5 .4 .5 .4-.3 .4-1.7 .4 2.2 .4-1.6 .4 .6 .4-.6 .4-1.2 .4 0 .3 .6 .4-1 .4-.3 .4 1.3 .4 .2 .4-1 .4 .3 .4-.1 .4 2.1 .4 1.3 .4 .4 .4 .3 .3-1.2 .4-1.5 .4 .6 .4-1.1 .4 1.9 .4-1.5 .4 .5 .4 .3 .4-1.6 .4 1.3 .4-.2 .4 .6 .4-.2 .3 .7 .4-2 .4-.6 .4 1.3 .4-1.4 .4 .3 .4 1.2 .4-1.4 .4 .2 .4 1.1 .4-1.1 .4-.3 .3 .6 .4 1.4 .4-.5 .4 .8 .4-.8 .4-1.7 .4 1.7 .4-.7 .4-1.4 .4 .7 .4-.1 .4-1.5 .4 .2 .3-.5 .4 .6 .4 0 .4 2.1 .4-2.1 .4-.2 .4-1.1 .4 .7 .4 .2 .4-.1 .4-.5 .4 .1 .3 1.8 .4 1.1 .4-.8 .4-.3 .4-1.3 .4 1.7 .4-2.3 .4 .4 .4 .2 .4 0 .4 1.4 .4-.5 .4-2 .3-1 .4 1 .4-1.5 .4 .5 .4 1.4 .4-.3 .4 1.5 .4-1.1 .4-1.1 .4-1.5 .4 .5 .4 0 .3 .9 .4-.1 .4 .8 .4-1 .4-.8 .4-1.6 .4 1.2 .4-.9 .4-.1 .4 .4 .4-.3 .4-1.5 .4 .7 .3-1.6 .4 1.6 .4 .8 .4 .2 .4-1.8 .4-1.6 .4-.4 .4 .3 .4-2.1 .4 .1 .4-1.3 .4-.9 .3-1.9 .4 .8 .4-1.4 .4-.4 .4-.8 .4 .1 .4-1.1 .4-1.1 .4-.7 .4-1.5 .4-3.9 .4-.6 .4-1.2 .3-4.2 .4-3 .4-1.3 .4-1.8 .4-5.3 .4-2.1 .4-2.8 .4-5 .4-5.6 .4-5.4 .4-5.6 .4-3.8 .3-5.5 .4-8 .4-6.2 .4-6.8 .4-9.4 .4-6.9 .4-8.7 .4-10.6 .4-8.3 .4-8.3 .4-8.2 .4-5.7 .4-6 .3-3 .4-4 .4-1.7 .2 .9 .2-2.3 .4 1.5 .4 5.1 .4 4.7 .4 6.6 .4 4.6 .4 8.9 .4 7 .4 8.1 .3 8.4 .4 9 .4 9.6 .4 8 .4 7.6 .4 5.6 .4 7.5 .4 5.5 .4 6.9 .4 5 .4 3.3 .4 4.4 .4 4.9 .3 4.1 .4 2.1 .4 2.4 .4 4.2 .4 1.1 .4 3 .4 3.4 .4 .6 .4 .5 .4 4.2 .4 2.2 .4 1.4 .3 1.4 .4 1.4 .4 0 .4 2 .4 1.5 .4 .3 .4 .6 .4-1.7 .4-.2 .4 1.5 .4 1.8 .4-1.4 .4 2.4 .3 1.4 .4-2 .4 1.5 .4 .9 .4-.9 .4 .7 .4-.9 .4 .5 .4 2 .4-.5 .4 .1 .4-.4 .3 1.1 .4 0 .4-.3 .4 .4 .4 .6 .4 1.4 .4-1.4 .4-1 .4-.3 .4-.1 .4 1 .4-.9 .4-.1 .3 .8 .4-1 .4 .8 .4 2.2 .4-.9 .4 .7 .4 .7 .4 .5 .4 1.2 .4-.9 .4-1.4 .4 1.2 .3-1.4 .4 .3 .4-1 .4 .1 .4 .3 .4 1.3 .4 1.7 .4-1.9 .4 2.2 .4-1.1 .4-.6 .4-1.1 .4 .4 .3-.7 .4 .9 .4 1.7 .4 .2 .4-.8 .4 2.1 .4 .9 .4-.5 .4-1.3 .4-.3 .4-1.1 .4 1.7 .3 .6 .4 .5 .4 .2 .4-.5 .4-.1 .4-.5 .4-.4 .4-1 .4 1.4 .4 .6 .4 1.5 .4-.8 .4 1.5 .3-2.3 .4 .2 .4 .3 .4 .4 .4 1.2 .4-.4 .4 .2 .4 .7 .4 .8 .4-2.5 .4 1.1 .4-.9 .3 .6 .4 .5 .4-2.2 .4-1.4 .4 2.1 .4-.5 .4 .6 .4-2.5 .4-.3 .4-.6 .4-2.6 .4-.3 .4-2.5 .3-1.2 .4-3.6 .4-1.3 .4-2.3 .4-1.6 .4-1.7 .4-.5 .2-2.5 .2-.7 .4 1.7 .4 2.2 .4 2.8 .4 3.3 .3 2.1 .4 2.1 .4 2 .4 2 .4 2.2 .4 3 .4-.5 .4 2.1 .4 1 .4-.2 .4 .7 .4 .7 .4 1.1 .3-2 .4 .8 .4 .1 .4-.5 .4 1.9 .4-1.1 .4 .9 .4 .8 .4 .7 .4-1.9 .4 .6 .4-1 .3 1.6 .4-1.9 .4 .5 .4 1.9 .4-1.9 .4-.1 .4 1.3 .4-.8 .4 2.1 .4-1.1 .4 .1 .4-.2 .4 .6 .3-1.4 .4 1 .4 .4 .4-1.1 .4-.3 .4-.6 .4 1.1 .4-.2 .4 .9 .4 .8 .4 .4 .4-1 .3 .7 .4 .6 .4 .1 .4-1.8 .4-.9 .4 .5 .4 1.4 .4-.4 .4 1.4 .4 1.3 .4 0 .4-2.1 .4 .8 .3 1.2 .4 .8 .4-2.4 .4 .6 .4-.8 .4 .5 .4-.1 .4 1.5 .4-1.9 .4-.8 .4 1.4 .4 1 .3-1.4 .4 1.7 .4-.4 .4 .1 .4-2.4 .4 1.1 .4-.1 .4-1.7 .4-.7 .4 0 .4 2.4 .4-1.3 .4 .3 .3-1.1 .4 0 .4 0 .4-1.6 .4-.8 .4 1.2 .4-.8 .4 .2 .4-1.3 .4 .9 .4-.6 .4 .8 .3 .6 .4 .8 .4 0 .4-1.1 .4-.7 .4 .7 .4-1.5 .4-1 .4-1.1 .4-.7 .4-1.4 .4 1.6 .4 .2 .3 1.4 .2-1.9 .2-.9 .4-.3 .4 0 .4-.5 .4 1.6 .4-.1 .4-1 .4 .6 .4 1.1 .4-1 .4 1.6 .3 1.8 .4-.1 .4 .7 .4-2 .4-.9 .4 2 .4 1.2 .4-1.4 .4-.5 .4-.1 .4 1.3 .4-.7 .4 1.8 .3 .5 .4-1.2 .4 .2 .4 1 .4-1.4 .4-.9 .4 .8 .4 1.8 .4-1.9 .4 0 .4-1.5 .4-.2 .3 2 .4 1.3 .4-1.6 .4-.7 .4-1.1 .4 1.2 .4-.1 .4 1.1 .4-1.1 .4 0 .4 1 .4-1.9 .4-.5 .3 1.7 .4 1 .4 .6 .4 0 .4-2.4 .4-1 .4-.4 .4-1 .4 1 .4-.2 .4-1.1 .4 1.7 .3-.9 .4-.2 .4 .1 .4 .8 .4 1 .4 .6 .4-1.6 .4 .6 .4 0 .4-.7 .4-1.2 .4-2 .4 .1 .3 1.9 .4-1.6 .4 1.4 .4-.1 .4-.3 .4 0 .4-1.6 .4 .1 .4-1.3 .4-.3 .4-2.9 .4-1.8 .3 .9 .4-2.2 .4-.8 .4-2 .4 1.3 .4-.4 .4-.5 .4-1.2 .4-3.1 .4-3.1 .4-2.9 .4-2.2 .4-3 .3-1.7 .4-4.1 .4-1.7 .4-4.2 .4-5.7 .4-4.6 .4-5.3 .4-4 .4-4.4 .4-6.6 .4-4.7 .4-7.8 .3-5.4 .4-7.4 .4-5.6 .4-4.2 .4-3.9 .4-4.2 .4-2 .4-2.5 .4-.4 .4-.9 .4 3 .4 2.5 .4 4.3 .3 4.5 .4 4.4 .4 7.3 .4 6 .4 5.7 .4 4.4 .4 5.2 .4 7.8 .4 5.4 .4 4.4 .4 6.4 .4 2.6 .3 4.3 .4 3.3 .4 5.8 .4 2.3 .4 3.6 .4 .8 .4 2.8 .4 1 .4 3.1 .4 3.2 .4 1.7 .4 1.1 .4 2 .3 .9 .4-.8 .4 2 .4 1.8 .4 .9 .4 .5 .4 2 .4-.9 .4 1.4 .4 .1 .4 0 .4 0 .3-.9 .4 1.8 .4 .6 .4 1.2 .4 1.3 .4 1 .4-1.2 .4-1.1 .4-1.1 .4 1.8 .4 .5 .4 .8 .4 1.2 .3-1.7 .4-1.1 .4-.7 .4-.1 .4 2.5 .4-1 .4-.1 .4 .8 .4-1.3 .4 1.4 .4 .7 .4-1.6 .3-.5 .4 1.2 .4 2 .4-.5 .4-1.3 .4-.8 .4-.2 .4 .1 .4-.5 .4 2.1 .4 1.1 .4 .1 .4-1.6 .3 1 .4-.3 .4-.2 .4 .9 .4-.5 .4-1.4 .4-.6 .4 2.8 .4 1.2 .4-.1 .4 .4 .4-.4 .3-1.3 .4 .2 .4-.4 .4-1.2 .4-.6 .4 2.2 .4-.1 .4 .5 .4-1.2 .4-.6 .4-.9 .4 .8 .4 2 .3 .9 .4-.5 .4 .5 .4-1 .4 .3 .4-.3 .4-.5 .4-1.4 .4 .6 .4-.6 .4 1.5 .4 .6 .3 .1 .4-1.2 .4-1.3 .4-1.2 .4-.2 .4 0 .4 .7 .4-1.1 .4-.4 .4-.3 .4 1.2 .4 1.2 .4 .9 .3 .7 .4-2.6 .4 .2 .4 0 .4-.1 .4-1.6 .4-.6 .4 1.7 .4 0 .4-1.3 .4 0 .4 .9 .3-.8 .4-1.8 .4-.4 .4 1.3 .4 .1 .4-1.1 .4-1.1 .4-2.4 .4 .6 .4-2 .4 .2 .4-1.3 .4-.4 .3-2.4 .4-1.8 .4-2.4 .4-.9 .4-1.7 .4-2.3 .4-3.6 .4-.8 .4-4.4 .4-3.8 .4-4.6 .4-3.1 .3-5.5 .4-2.9 .4-6.5 .4-3.7 .4-5.9 .4-6.7 .4-5.4 .4-5.9 .4-8.4 .4-6.6 .4-6.9 .4-5.8 .4-1.9 .3-2.4 .4-3.2 .4 .7 .4 .3 .4 2 .4 4.2 .4 4.8 .4 2.5 .4 6.9 .4 4.5 .4 6.6 .4 6.1 .3 8.6 .4 4.9 .4 8.1 .4 3.7 .4 4.4 .4 6.8 .4 4 .4 3.9 .4 3.9 .4 4.9 .4 2 .4 3.8 .4 2.4 .3 1.7 .4 3.1 .4 2.4 .4 1 .4-.3 .4 3.1 .4-.3 .4 2.9 .4 .5 .4 1.8 .4 .5 .4 .8 .3 1.1 .4-.2 .4-.1 .4 1.6 .4-1.7 .4 2.6 .4-.8 .4 .7 .4-1.4 .4-.5 .4 .4 .4-.2 .4 2.2 .3-.9 .4 1.9 .4 .6 .4 .3 .4-1.1 .4-.7 .4 1.2 .4-.8 .4 1.2 .4 1.8 .4 .4 .4-1.7 .3 2.1 .4-.4 .4-1.4 .4 2.3 .4 .6 .4 .5 .4-1.2 .4 1.1 .4-2.3 .4 1.3 .4-.3 .4 1.1 .4 .1 .3 .6 .4-.4 .4-1.6 .4 1.9 .4-1.7 .4 1.4 .4-.6 .4 1.3 .4-.8 .4-.1 .4 1 .4 .3 .3 .2 .4-.8 .4 .3 .4-.8 .4 1.4 .4-1.7 .4-.1 .4-1 .4-.4 .4-.6 .4 .9 .4-.6 .4 1 .3-.9 .4 2.5 .4-1.7 .4-.1 .4-.7 .4 1.6 .4 .3 .4 1.4 .4-1.9 .4 .2 .4 .3 .4 .5 .3-.2 .4 1.8 .4 .4 .4 .3 .4-2.4 .4-.8 .4 1.3 .4-1.3 .4 1.5 .4-.7 .4 1.2 .4-.8 .4 .1 .3 .1 .4-1.4 .4 .6 .4 1.1 .4-1.2 .4 2.3 .4-1.7 .4 1.1 .4 .5 .4-.7 .4-.5 .4-1.1 .3-.2 .4 1.2 .4 .1 .4-.6 .4 1.5 .4-1.7 .4 .3 .4-.9 .4-.2 .4-.5 .4 1.5 .4 1.1 .4-.4 .3 1 .4 .9 .4-.7 .4-1 .4 1.1 .4-1.8 .4 2 .4 .4 .4-.5 .4-1.3 .4-1.5 .4 2 .3 .4 .4 0 .4-.6 .4 .7 .4-.1 .4-.1 .4-.2 .4 .4 .4-1.1 .4-1.7 .4 1.9 .4-1.7 .4-.2 .3 2.1 .4 1 .4-1.3 .4-.5 .4-1.3 .4-.9 .4 1.9 .4 .7 .4 .6 .4-.3 .4-1.8 .4-1.4 .3 .2 .4 1 .4-.9 .4-1.8 .4 1.7 .4 .4 .4-.9 .4 0 .4-2.6 .4-1.4 .4-.2 .4 .5 .4-1.7 .3-.2 .4 .1 .4 1 .4-1.9 .4-.5 .4 .3 .4-.6 .4 2.1 .4-.8 .4 1.4 .4 .4 .4-.3 .3-.1 .4-.2 .4 3 .4 .9 .4-1 .4 1.7 .4-1 .4-.5 .4 .8 .4-1.5 .4 1.4 .4-.2 .4 1.6 .3-2.1 .4 1.6 .4-1 .4 .3 .4-1.5 .4-.9 .4 2.6 .4 .8 .4-.7 .4-2.3 .4 .1 .4-.7 .3 2.2 .4 .8 .4-2 .4 1.1 .4-.3 .4-1.9 .4-.2 .4 1.1 .4-2.3 .4-.1 .4 .9 .4-.8 .4-1 .3-.7 .4 1.7 .4-2.3 .4 .4 .4 .3 .4-1.1 .4-2 .4-.4 .4-1.6 .4-1.2 .4 .4 .4 1.4 .3-2.2 .4 .7 .4 .7 .4-1.7 .4-.1 .4-1.3 .4-2.7 .4-.6 .4 .6 .4-1.5 .4-1.7 .4-2 .4 .1 .3 .5 .4-.3 .4-2.1 .4-3.1 .4-1 .4 .1 .4-.8 .4-2.8 .4-.6 .4 .5 .4-2.5 .4 .7 .3-.5 .4-.9 .4-.3 .4-2 .4-2.3 .4 .7 .4-1.3 .4-2 .4 1.3 .4-1.8 .4 1.9 .4 1 .4-1.8 .3-.8 .4 2 .4-.3 .4 .9 .4-1.2 .4 1.1 .4-.2 .4 1.5 .4 .1 .4 .4 .4 1.1 .4 1.1 .3 1.2 .4 1.1 .4 2.4 .4-1 .4 2.3 .4 .6 .4 .3 .4 .4 .4 1.2 .4 3.1 .4 2.3 .4 1.1 .4 1.8 .3 .7 .4 .2 .4 1.7 .4 1.2 .4-1.6 .4 2.6 .4 0 .4 1.1 .4 1.3 .4 1 .4 .3 .4-.4 .3-.5 .4 1.6 .4 .9 .4 1.1 .4 .4 .4 1.1 .4 1.5 .4-.8 .4-.3 .4 .3 .4 .9 .4 1.3 .4 1.6 .3-1.8 .4 1.6 .4 .7 .4 1.3 .4 1.2 .4-2.1 .4 1.9 .4-.7 .4-.8 .4 0 .4-.2 .4 1.6 .3-.9 .4-.7 .4-.5 .4 2.7 .4 1.5 .4-.3 .4-1.9 .4 .1 .4-.6 .4 2 .4-1.2 .4 0 .4 1.7 .3-.4 .4-.9 .4 1.7 .4 1.2 .4-1.3 .4 0 .4-1.9 .4-.1 .4-1.1 .4 1.3 .4 1.2 .4-.3 .3-.5 .4-2.7 .4 .6 .4-1.1 .4-.9 .4 .3 .4-1.9 .4 .9 .4-2.3 .4 .2 .4-.3 .4-.9 .4-.8 .3-1.5 .2 .8 .2 0 .4-.5 .4-.5 .4 1.3 .4 1.7 .4 .4 .4 2.4 .4 .6 .4 1.2 .4 .6 .4-.2 .3 1.3 .4-.6 .4-.4 .4 .3 .4 1.5 .4-1 .4-.5 .4 2 .4 .1 .4-.7 .4 1.7 .4 .9 .4-2.1 .3 0 .4 1 .4 .5 .4-2.2 .4-.4 .4 .3 .4-1.5 .4 2 .4-1.3 .4-.4 .4-.7 .4-.3 .3 .9 .4 .7 .4-.8 .4-1.5 .4 1.5 .4-2 .4 0 .4 .7 .4-1 .4-1.1 .4 .3 .4 0 .4-2.8 .3-1.3 .4-.4 .4 1.5 .4-2.2 .4-1 .4 .6 .4-.7 .4-2.7 .4-1.8 .4 1.3 .4-2.2 .4-1.8 .3-1.2 .4-1.4 .4 1 .4-2.3 .4 1.1 .4-1 .4-.4 .4-2.6 .4 .1 .4-3.5 .4-.5 .4-2.6 .4 1.3 .3-.7 .4-1.5 .4-.4 .4-1.3 .4-1.2 .4-2 .4-1.8 .4 .2 .4-1.2 .4-1.4 .4-.5 .4-.5 .3 1.6 .4 1.3 .4-1 .4-1.3 .4 .6 .4-.8 .4 2.2 .4 0 .4 2.7 .4-.3 .4 2.5 .4-.4 .4-.1 .3 1 .4 1.9 .4 .7 .4-.2 .4 .8 .4 1.4 .4 1.4 .4 3.4 .4 1.4 .4 1.2 .4 .5 .4-.4 .3 1.7 .4 1.4 .4 2.2 .4-.9 .4 2.3 .4 1 .4 .1 .4 1.1 .4 1.5 .4 1.4 .4 1.5 .4 .9 .4-.4 .3-.8 .4-.1 .4 .8 .4 1.7 .4-.5 .4-.8 .4 1.8 .4 1.6 .4-.9 .4 1.6 .4-.6 .4-.5 .3 1.1 .4 1.5 .4-1 .4 0 .4 2 .4 .2 .4-.5 .4 1.6 .4-.2 .4-1.5 .4 2.2 .4 .5 .4-1.3 .3-.5 .4 .2 .4 2.1 .4 .6 .4-1.7 .4 1.5 .4 .8 .4-1.7 .4-.4 .4-.7 .4 1.5 .4-1.1 .3 2 .4-.9 .4 .2 .4-.4 .4 1.3 .4 1.4 .4-1.4 .4 .9 .4 1 .4 .5 .4-2.4 .4 1.5 .4-.3 .3-2 .4-.4 .4 .2 .4-1.1 .4 1.7 .4-.7 .4 .1 .4-.6 .4 1.5 .4 0 .4 .8 .4-.9 .3 .1 .4 1.1 .4-.6 .4 .1 .4 .1 .4-1.3 .4 .3 .4 .3 .4 .5 .4-.3 .4-.4 .4 1 .4 1.2 .3-1.7 .4-1.7 .4 .7 .4-.2 .4 1.5 .4 0 .4 .2 .4-2.4 .4 .8 .4-2.7 .4-.1 .4-2 .3-.8 .4-1.5 .4 1 .4 .8 .4-2.2 .4-.5 .4-2.2 .4 0 .2 1.5 .2-1 .4-.8 .4 .1 .4 3.4 .4 0 .3 .4 .4 .6 .4 1.1 .4 1.9 .4-.9 .4 .2 .4 2.2 .4 .3 .4 1.5 .4 .4 .4-.3 .4 .7 .3 .8 .4-1.9 .4 1.5 .4 .9 .4 0 .4-1.1 .4 .6 .4-.6 .4-1.1 .4 0 .4-.5 .4-.8 .4-.3 .3 .9 .4 .7 .4 .5 .4-.9 .4 1 .4 1.7 .4-1.4 .4 .2 .4 1.5 .4-1.7 .4-.1 .4-1.5 .3 .8 .4 1.8 .4 .9 .4-1.4 .4 .9 .4 1 .4-.3 .4-1.9 .4 .1 .4-.5 .4-1.4 .4 2.2 .4 1.1 .3-.9 .4 1.3 .4-2.4 .4 .3 .4-1.1 .4 2 .4-1.4 .4 .5 .4 .9 .4 .4 .4 1.2 .4 .1 .3-1.4 .4 1.2 .4 0 .4-2.1 .4-.6 .4-.1 .4 1.9 .4-1.5 .4 1.4 .4-1.3 .4 2 .4 1.2 .4 .2 .3-1.4 .4-.2 .4-.2 .4-1.1 .4-.1 .4-.7 .4 .8 .4 .3 .4-.9 .4-.5 .4 2.3 .4 1.3 .3 .4 .4-.7 .4-1.2 .4-.5 .4-1.1 .4 1.4 .4 .6 .4-.5 .4 1.3 .4 .6 .4 0 .4-1.9 .4-.2 .3 1.7 .4-.1 .4 0 .4 .2 .4 .3 .4 .8 .4 .6 .4-2.2 .4-.3 .4 .9 .4-1.2 .4-.5 .3 2.3 .4-1 .4-.9 .4-1.1 .4 .8 .4-.9 .4 1.3 .4 .8 .4 .6 .4 .3 .4-.6 .4-1.5 .4 .7 .3 .3 .4 1.3 .4 .4 .4-1.3 .4-1.3 .4 2.3 .4 1.1 .4-2.6 .4-1.1 .4 .4 .4-.6 .4 .3 .3-.7 .4-.3 .4-.3 .4 1.6 .4 1.4 .4 1.6 .4-.4 .4-.4 .4-.6 .4 1.2 .4 .2 .4-.2 .4-.6 .3-.7 .4-1.1 .4-.3 .4 .4 .4 1.9 .4-.7 .4 .7 .4 .2 .4-.2 .4-.7 .4-.9 .4-1.3 .3-.7 .4-.1 .4 .4 .4-.2 .4-.6 .4 2.3 .4 .2 .4-1 .4-.7 .4 1.4 .4 .6 .4-.1 .4-1.7 .3 1.7 .4 .5 .4-1.9 .4 .9 .4 .1 .4-1.9 .4 .1 .4-.1 .4-.8 .4-2.1 .4-.8 .4-.7 .3-1.8 .4-3.1 .4-1.5 .4-3.3 .4-2.7 .4-2.3 .4-3.1 .4-2.1 .4-1.3 .4-1.7 .4 1.9 .4 2.5 .4-.3 .3 2.6 .4 3.7 .4 3.4 .4 4 .4 1.3 .4 1.7 .4 3.2 .4 0 .4-.4 .4 2.1 .4-.9 .4 .7 .3 .3 .4 .1 .4 .1 .4 2.5 .4-.7 .4-.6 .4 1.9 .4 .8 .4-1.8 .4-1 .4 .9 .4 .8 .4-.2 .3 .8 .4-1 .4-.6 .4 0 .4-.7 .4 .6 .4 .3 .4 .1 .4 1.3 .4 0 .4-1.5 .4 1 .3 .4 .4 0 .4-.3 .4 .1 .4-1.8 .4 .7 .4-1.2 .4 .5 .4 1.3 .4-1.6 .4 1.5 .4-.7 .4 0 .3 1.8 .4 .1 .4-1.5 .4-1.4 .4 1.7 .4 1 .4 .8 .4-1.5 .4-2.1 .4-1.2 .4 1.4 .4 1.3 .3 .3 .4 .1 .4-.6 .4 .7 .4 .9 .4 .2 .4-.9"/>
<path stroke="#FF00FF" d="M235.0 872.5l.4 1.3 .4 1.1 .4 1.4 .4 .3 .4 1.1 .4-2.1 .3 .7 .4 2.3 .4 .5 .4 1.4 .4-1.6 .4 .7 .4-.1 .4 1.3 .4 1.1 .4-1 .4 .5 .4 .8 .3 2.8 .4 1.3 .4-1.1 .4 1.9 .4-.9 .4 1.5 .4-.6 .4-.6 .4 2.9 .4-.6 .4-.1 .4 2.8 .4 1.2 .3-1.3 .4 1.8 .4-.4 .4 .5 .4-1.3 .4 2.1 .4 .3 .4 1.3 .4 .5 .4-1.6 .4-.4 .4-.7 .3-.3 .4-.3 .4 .9 .4 1.6 .4-1.1 .4 1.9 .4 0 .4-.2 .4 1.7 .4-.2 .4-.6 .4 .3 .4 1 .3-1.6 .4 2.4 .4-2 .4 1.5 .4 1.2 .4-2.2 .4 1.6 .4-.5 .4 .5 .4-1.6 .4-.7 .4 .3 .3 2.8 .4-1.1 .4 1.4 .4 1.3 .4 .8 .4-1.5 .4-.7 .4 .3 .4 1.1 .4-1.7 .4 1.4 .4 .9 .4 .8 .3-2.4 .4 2 .4-1.8 .4 0 .4 .9 .4 1.6 .4-1 .4 1.5 .4-.5 .4-1 .4-.4 .4-.6 .3-.5 .4 0 .4 1.9 .4 2.1 .4-1.8 .4-1.2 .4 2.7 .4-.2 .4-.5 .4-.8 .4 .8 .4 1.2 .4-.6 .3-.4 .4-1.4 .4 2.3 .4-1.9 .4 .7 .4 1.5 .4-1.6 .4 1.2 .4 1.5 .4-.4 .4 .4 .4-2.1 .3 .1 .4-.9 .4 1.9 .4-.9 .4 .2 .4 1.9 .4 .5 .4 .7 .4-1.4 .4-.5 .4 .5 .4-.5 .4-.9 .3 0 .4-.9 .4 .4 .4 2.3 .4 1.1 .4-.6 .4-.7 .4-.9 .4-1.2 .4 0 .4 1.8 .4 1.2 .3-1.1 .4 .9 .4 .5 .4-.1 .4 0 .4 .3 .4-1.2 .4 .5 .4-1.1 .4 .1 .4 1 .4 .3 .4-1.3 .3 1.6 .4-.2 .4-.3 .4-2.1 .4 .7 .4-.6 .4 1.1 .4-.1 .4 1.1 .4 0 .4 .5 .4-1.3 .3 .4 .4 .5 .4 .5 .4-1.3 .4 1 .4 .6 .4-.3 .4 .8 .4 .3 .4-1.3 .4-.6 .4-1.6 .4 1.5 .3 1.1 .4-1 .4 .2 .4 .2 .4 .2 .4-1.9 .4 1.2 .4-.1 .4 .2 .4-.7 .4 .3 .4 .7 .3-.1 .4 .2 .4-2.3 .4-.7 .4 .6 .4 1 .4-.9 .4 1.1 .4 .3 .4-1.8 .4 .5 .4-.7 .4-.9 .3-.3 .4 .4 .4-.4 .4-.4 .4-1 .4 .5 .4-.6 .4-.5 .4-1.8 .4-4 .4-2.3 .4-7.3 .3-5 .4-4.6 .4-1.3 .4 .8 .4 6.2 .4 4.8 .4 3.6 .4 5.4 .4 1.9 .4 3 .4 1.3 .4 1.7 .4 2.3 .3 .7 .4-.8 .4 .9 .4 0 .4-1 .4-1.2 .4 1 .4 .4 .4 1.5 .4 .8 .4-.8 .4-1.3 .3 1.2 .4-2.4 .4-.8 .4 1.1 .4 .7 .4-1.2 .4 1 .4 1.4 .4-1 .4-.4 .4-.8 .4-.2 .4 2.2 .3-.9 .4 1.5 .4 .6 .4-.8 .4-1.5 .4 1.6 .4-.8 .4-.6 .4-.7 .4 1.9 .4-.7 .4-1 .3 .1 .4-1.2 .4 1.1 .4 0 .4-.5 .4 1.4 .4 .8 .4-2.3 .4 .6 .4-.6 .4 1.9 .4 .5 .4-1.6 .3-.7 .4-.8 .4 2.5 .4-1.2 .4 .5 .4-.2 .4 .5 .4 .1 .4 .5 .4-1.8 .4 1.2 .4-.9 .3 .3 .4-.5 .4-.4 .4 .6 .4 .1 .4-.4 .4 1.2 .4 0 .4-1.8 .4-.2 .4 .6 .4 1.8 .4 .9 .3-.8 .4-2.2 .4 1.5 .4-.4 .4 .3 .4 .6 .4 0 .4-.5 .4 1.2 .4-1.2 .4-.5 .4 1.2 .3-1.5 .4-.5 .4 1.6 .4-1.8 .4 1.7 .4 .4 .4-.7 .4-.9 .4 1.3 .4 1 .4-2.1 .4 .1 .4 .3 .3 0 .4-.6 .4-.9 .4 1 .4 1.3 .4-1.9 .4-.4 .4 1.8 .4 .8 .4 0 .4-2.2 .4 1.3 .3 1.5 .4 .8 .4-.6 .4-2.5 .4 1.4 .4-1.4 .4 .8 .4 1.4 .4-.1 .4-2.1 .4-.4 .4 1.8 .4-1.6 .3 .7 .4-.3 .4-1 .4 1 .4-1.4 .4-.5 .4 .6 .4-.7 .4-.4 .4 1.5 .4 1.4 .4 1.1 .3-2 .4 .1 .4-.4 .4 .7 .4 0 .4 1.6 .4-1.2 .4-1.7 .4 1.4 .4-1.2 .4 1 .4 .1 .4 1.4 .3-.5 .4 0 .4-1.3 .4 .4 .4-.8 .4 1.2 .4-.1 .4-1.4 .4-.4 .4 .3 .4 1.4 .4-1.2 .3 1.2 .4 .4 .4-1.8 .4 1.1 .4-1.4 .4-.6 .4 1.3 .4-.6 .4 1.9 .4-.4 .4-.7 .4 1.2 .4-2 .3 1.4 .4-1.7 .4-.4 .4 2.4 .4 .4 .4-1.4 .4-1.1 .4 2.4 .4 .1 .4 .6 .4-2 .4 .6 .3-.6 .4-.7 .4-.1 .4 1 .4-.5 .4-.1 .4-.9 .4 1.9 .4 .4 .4 .6 .4-.9 .4 1 .4-.7 .3-.1 .4-.1 .4 .5 .4-.9 .4-1.5 .4-.9 .4 0 .4-.5 .4 2.7 .4-.1 .4 .9 .4-2.2 .3 .6 .4 1.6 .4 0 .4-.7 .4-.3 .4-1.4 .4-.5 .4-.3 .4 .6 .4 .3 .4 1.8 .4-1.6 .4-.5 .3-.1 .4-.6 .4 .2 .4-.1 .4 .7 .4-1.1 .4 2.4 .4-.7 .4 1.6 .4-.1 .4-.1 .4-.8 .3 1.2 .4-2.2 .4 .7 .4-.9 .4 .8 .4 .5 .4-1.6 .4-.7 .4-1 .4 .2 .4-.5 .4 .9 .4 2.3 .3-.9 .4-.7 .4 .2 .4-.6 .4 1.3 .4 .5 .4-1.6 .4-.6 .4 1.1 .4 1.5 .4-.3 .4-.9 .3 1.4 .4-2.6 .4-1.2 .4 1.9 .4-.4 .4-1.4 .4 .9 .4 2 .4-.7 .4-.9 .4-1.3 .4-.8 .4 2.4 .3-.2 .4 1.4 .4-2.4 .4-.5 .4-1 .4 .7 .4-.8 .4 .2 .4 .6 .4-.1 .4-.9 .4-.5 .3 2.8 .4-1.2 .4 .4 .4-.1 .4 .3 .4-1.4 .4 .1 .4-.7 .4 1.1 .4 1.8 .4-.2 .4 .7 .4-1.8 .3-1.7 .4 1 .4 .2 .4 .4 .4-.5 .4 .6 .4 .6 .4 .9 .4-1.6 .4-.4 .4 1.1 .4-1.6 .3-1.2 .4 .1 .4-.8 .4 1.9 .4 1.1 .4-1.2 .4-1.2 .4-.8 .4 .2 .4-.5 .4 .9 .4 1 .4-.7 .3-.9 .4 1.6 .4-1.3 .4-.2 .4 .1 .4 .4 .4-.7 .4 .7 .4-.1 .4 1.5 .4 0 .4 1.2 .3-.3 .4 .2 .4-.5 .4-.8 .4 .9 .4-.1 .4 .9 .4-.3 .4-.3 .4-1.7 .4 1 .4-1 .4-1.3 .3-1 .4-.2 .4 .2 .4 1.5 .4-.6 .4-1.2 .4 1.8 .4 .2 .4-1.8 .4-.9 .4-.2 .4 .6 .3 1.9 .4 1.2 .4-.6 .4-1.6 .4-.3 .4-.4 .4-.4 .4-1.4 .4 1.2 .4 1.3 .4 .2 .4-2.2 .4 .3 .3-1.2 .4 1.1 .4-.5 .4 1.3 .4 0 .4-2.5 .4-.7 .4 1.5 .4-1 .4-.8 .4-.6 .4 .6 .3 .6 .4-1.3 .4 .5 .4-1.3 .4-2.6 .4 .7 .4-1.3 .4-2.4 .4 1.6 .4-2.9 .4-.1 .4-.8 .4 .3 .3-2.1 .4-2.3 .4-1.7 .4-1.9 .4-.5 .4-1.9 .4-.6 .4-3.1 .4-2.4 .4-2.8 .4-.4 .4-2.2 .3-2.8 .4-4 .4-4.9 .4-5.6 .4-3 .4-5.5 .4-7.4 .4-6.8 .4-7.5 .4-6 .4-7.2 .4-11.5 .4-9.7 .3-13.3 .4-13 .4-14.3 .4-17.4 .4-18.6 .4-22.2 .4-25 .4-24.4 .4-26.5 .4-30 .4-29.9 .4-30.8 .3-31.3 .4-28.1 .4-24.9 .4-20.2 .4-13.7 .4-8.2 .2 .8 .2 1.2 .4 8.3 .4 14.2 .4 20.5 .4 24.8 .4 29.1 .4 29 .3 30.9 .4 30.6 .4 28.5 .4 26.3 .4 24 .4 22.6 .4 21.6 .4 20.1 .4 18.3 .4 15.8 .4 12.6 .4 13.8 .3 9.5 .4 10.7 .4 7 .4 9.3 .4 7.5 .4 7.6 .4 6.2 .4 4.6 .4 5 .4 4 .4 3.3 .4 1.9 .4 3.4 .3 4.3 .4 1.1 .4 4.2 .4 1.6 .4 1.2 .4 .2 .4 2.1 .4 1.1 .4 2.9 .4 2.9 .4 2 .4 .6 .3 0 .4-.5 .4 2.2 .4 1.1 .4 1.4 .4-.1 .4 2.1 .4-1 .4 .2 .4 .2 .4 1.6 .4 2 .4-1.3 .3 1.2 .4 1.2 .4-1 .4-.9 .4 1.5 .4 1.8 .4 1.2 .4 .3 .4-.8 .4-.2 .4 .3 .4 1.6 .3-1.1 .4-.5 .4 .9 .4 1.8 .4-1.6 .4-1.3 .4-.2 .4 1.5 .4 .9 .4-.8 .4-.4 .4 1.3 .4 .9 .3 .7 .4 .5 .4-1.9 .4 .5 .4 1.5 .4 1.2 .4-1.5 .4 1.1 .4-.1 .4 1 .4-1.9 .4 .7 .3 .9 .4-.8 .4-1.7 .4-.5 .4-.4 .4-.5 .4-.1 .4 1.4 .4-1.2 .4 1.4 .4 .3 .4 0 .4-.7 .3-1.4 .4-1 .4-1.5 .4-3 .4-1.3 .4-4.3 .4-2.2 .2-.9 .2 .3 .4 1.6 .4 2.4 .4 3.2 .4 3 .3 .1 .4 1.9 .4 1.9 .4 .8 .4-.2 .4 1.8 .4 .2 .4 1.4 .4 .1 .4 1.7 .4 .9 .4-2.5 .4 1.2 .3 .5 .4-1.2 .4-1.2 .4 .7 .4 0 .4 1.3 .4 1.2 .4-1.1 .4-.9 .4 .3 .4 .9 .4 .7 .3-.3 .4-1.1 .4-.4 .4 1.5 .4-.3 .4-1.7 .4 .4 .4-.4 .4 1.3 .4-1.4 .4 0 .4-.6 .4 1 .3 2.3 .4-.4 .4-.7 .4 1.6 .4-2.1 .4-.2 .4 1.5 .4-1.9 .4 1.6 .4-.6 .4-1.4 .4 .1 .3 .7 .4 .2 .4 .5 .4-1.3 .4-.1 .4 2.6 .4-.5 .4-.2 .4-1.4 .4 0 .4 2.3 .4 .3 .4-.5 .3-1.8 .4 .3 .4 1.5 .4-.4 .4 .3 .4 1.2 .4-.2 .4-.2 .4-2.1 .4-1 .4 2 .4-.2 .3 1.4 .4 .6 .4 .6 .4-1.5 .4 1.4 .4-.1 .4 .4 .4-2.3 .4 1 .4-.8 .4 1.6 .4 .8 .4-2.2 .3-.4 .4-.7 .4 .4 .4-.5 .4 1.1 .4-1.3 .4-.5 .4 .8 .4-1 .4 .6 .4 2.1 .4 1 .3-1.8 .4-1.5 .4 2 .4 1.4 .4-.5 .4-1.8 .4-.5 .4 2 .4 1.1 .4-2.5 .4-.7 .4 .4 .4-.3 .3 1.6 .4-.6 .4 1.1 .4-1.5 .4 .5 .4 1.8 .4-.1 .4-2 .4-1 .4 1.3 .4-.2 .4-.2 .3 .4 .4 .5 .4 1.5 .4-1.7 .4 .3 .4-.9 .4 .5 .4 .9 .4-1.6 .4 .3 .4 1 .4-2 .4 1.6 .3-.4 .4 0 .4 .3 .4 .6 .4-2.2 .4 .2 .4-1.5 .4 .3 .4-.2 .4-1.3 .4 .2 .4 .6 .3 1 .4 1.4 .4-1.1 .4 .1 .4 .8 .4 1.3 .4 .9 .4 .7 .4-1.9 .4-1.2 .4 2 .4-1.7 .4 .4 .3 1.3 .4 0 .4-.5 .4 1.7 .4-1.3 .4 .2 .4 1.1 .4-1.7 .4-.2 .4 .4 .4 .5 .4-.9 .3 .3 .4-1.1 .4-.5 .4 .7 .4-.4 .4 2.7 .4-1.1 .4-.5 .4 1.5 .4 .6 .4-1.3 .4 1.3 .4 0 .3-.9 .4 .5 .4-1.1 .4-.5 .4 1.9 .4-.6 .4 1.3 .4-1.8 .4-1 .4-.8 .4 1.9 .4 .4 .3-1.7 .4-.7 .4 2.3 .4 0 .4 1.3 .4-2.1 .4 .7 .4-1.2 .4 1.5 .4 .3 .4 .2 .4-1.2 .4 1.8 .3-1.9 .4-1.1 .4 1.5 .4-1.2 .4-.7 .4 1 .4 1.1 .4 1.4 .4 .1 .4-2.1 .4 .9 .4 1.1 .3-1.9 .4 1.2 .4-1.1 .4-.4 .4-1.2 .4 2 .4 .1 .4 1.4 .4-.8 .4-1.4 .4-.5 .4-.1 .4 2.3 .3-1.4 .4-1.1 .4 .3 .4-.7 .4 .8 .4 1.1 .4 .6 .4-1.3 .4-.8 .4 .8 .4 1.1 .4-.3 .3 .3 .4 1.3 .4-2 .4-.6 .4 .5 .4 .4 .4 1.4 .4-.5 .4 .1 .4-.8 .4 .8 .4 .6 .4-1.6 .3-1.5 .4-.4 .4 .1 .4 1.7 .4-1.4 .4 .3 .4-.2 .4 .6 .4-3.1 .4-.1 .4-2.6 .4-3.4 .3-1.7 .4-2.4 .4-4.9 .4-7.4 .4-3.9 .4-6.8 .4-4.5 .4-2.2 .2-1.7 .2 .2 .4 2.4 .4 3.9 .4 5.3 .4 8 .3 5.4 .4 6.2 .4 1.7 .4 2.7 .4 1.7 .4 4 .4 1.8 .4 1.6 .4-.3 .4-1.3 .4 .5 .4-.3 .3-.7 .4 1.5 .4-.2 .4-.6 .4 1.1 .4 2 .4 1 .4-1 .4-1.8 .4 1.4 .4-1.5 .4 .7 .4-1.2 .3 2.4 .4-.2 .4-.5 .4-.8 .4 .5 .4 1.8 .4-1 .4-1.3 .4 .5 .4 1.5 .4-1 .4 .4 .3 1.1 .4-1.4 .4 .9 .4-.5 .4-1.6 .4-1.1 .4 2.5 .4-.4 .4-.2 .4 1.5 .4-.5 .4-.4 .4-1 .3 1.1 .4-1.1 .4 .2 .4 1 .4 0 .4-1.6 .4-.5 .4 1.4 .4 .8 .4-1.7 .4 2.1 .4-1.8 .3-.8 .4-.7 .4 .9 .4 1 .4 1.3 .4-1.7 .4 1 .4-1.5 .4 .8 .4-.7 .4 0 .4-1 .4 1.7 .3-1.2 .4 1.6 .4-.7 .4 .5 .4 .4 .4-.3 .4 1 .4 .6 .4-1.9 .4-1 .4 1.2 .4-2.1 .3-.5 .4-.7 .4 1 .4-3.1 .4-.7 .4-1 .4-1.7 .4-4.2 .4 .5 .4-2 .2 1.1 .2 .1 .4 .1 .4 2.6 .3 1.8 .4 .8 .4 2.5 .4 1.1 .4 1.7 .4 .9 .4 1.2 .4-1.3 .4 .6 .4-1.4 .4 2.1 .4 1.1 .3 .7 .4-2.3 .4 .5 .4 0 .4-1.3 .4-.4 .4 2.3 .4 .6 .4-2 .4 .8 .4-.6 .4-1.7 .4-.7 .3-2.6 .4-2.3 .4-3.5 .4-1.2 .4-2.7 .4-2.6 .4-3.6 .4-2.6 .4-1.5 .4 2 .4 1.5 .4 3.6 .3 4.2 .4 2.6 .4 3.4 .4 .4 .4 1.6 .4 3.3 .4-.4 .4-.2 .4-.1 .4 2.7 .4-.8 .4 .9 .4 .4 .3 1.6 .4-.4 .4 .1 .4-1.7 .4 1.8 .4 .9 .4-.1 .4 .7 .4-.4 .4 .1 .4 .6 .4-.5 .3-2.3 .4 1.8 .4 1.3 .4-2.1 .4-1.5 .4 .2 .4-.7 .4 .6 .4-.7 .4 .1 .4-.7 .4 1.1 .4 .1 .3 1.5 .4-.4 .4-.9 .4 2.2 .4 .8 .4-.2 .4-1.7 .4-.3 .4 .1 .4-.2 .4-1.3 .4 .8 .3 1.4 .4 .5 .4 .8 .4-.2 .4 .1 .4 .5 .4 .4 .4-.3 .4-1.4 .4 .1 .4 .1 .4 .8 .4-.2 .3-1 .4-1.4 .4-.2 .4-.4 .4 1.3 .4 .9 .4-1.5 .4 .5 .4 1.2 .4-1 .4-1.4 .4 1 .3-.3 .4-.9 .4 0 .4-.9 .4 0 .4 .9 .4-.6 .4-.6 .4 1.5 .4 2.1 .4 .7 .4-1.4 .4 1.3 .3-2.2 .4-.9 .4-.9 .4-.3 .4 1.7 .4 1.4 .4-.3 .4 1 .4-.7 .4 1.2 .4-.4 .4-.5 .3-1.5 .4 .1 .4 .1 .4 1.4 .4-1.3 .4-.5 .4 1.5 .4-1.7 .4 .7 .4-.8 .4 1.2 .4 .3 .4-1.5 .3 1.4 .4-.5 .4-.5 .4 1.6 .4 .5 .4-1.3 .4 .5 .4-1.6 .4 .6 .4-1.3 .4 1.3 .4 1.6 .3-.2 .4-2.1 .4 .5 .4 .1 .4-.1 .4-1 .4-.1 .4 .5 .4-1.1 .4 1.5 .4-.8 .4-.3 .4-.9 .3 .2 .4 2.1 .4-1.3 .4-1.5 .4-.1 .4 1.7 .4-2.4 .4-.9 .4-1.4 .4 0 .4-1.7 .4-3.5 .3-1 .4-4.6 .4-4.1 .4-6.7 .4-6.7 .4-11.7 .4-11.7 .4-12.2 .4-12.3 .4-8.9 .4-7.5 .4-3.2 .4 2.8 .3 8.6 .4 10.4 .4 11.6 .4 12.7 .4 11.2 .4 8.9 .4 7.6 .4 5.1 .4 5.4 .4 5.5 .4 1.8 .4 1.9 .3 2.3 .4 1.6 .4-.3 .4 1 .4 1.8 .4-1.4 .4-.3 .4 2.2 .4 1.6 .4-1.9 .4-.9 .4 1.5 .4-.4 .3 1.1 .4-1.6 .4 .7 .4-.6 .4 .2 .4 1.4 .4 .1 .4 1.2 .4 .5 .4-.4 .4 .5 .4-2 .3 0 .4-.5 .4 .7 .4-1.3 .4 1.9 .4-.7 .4 1 .4 1 .4 .5 .4-1.6 .4 .8 .4 .8 .4-2.5 .3 .8 .4 .4 .4-.8 .4-1 .4-.8 .4 .4 .4 1.9 .4-.8 .4-.9 .4 .7 .4-.2 .4 .5 .3-.4 .4-.7 .4-1.2 .4 2 .4 .5 .4-1.2 .4 .3 .4 .4 .4-.1 .4 1.3 .4 .3 .4-1.5 .4-.7 .3 .6 .4-1.2 .4 2 .4-2.1 .4 .6 .4-.6 .4 .6 .4-1.3 .4-.1 .4 2.6 .4 .5 .4-1.6 .3-.1 .4-1.5 .4-.5 .4 0 .4 2.7 .4-1 .4-.8 .4-1 .4-.4 .4 2.8 .4 .5 .4 .9 .4 .1 .3-.2 .4-1.9 .4-1.3 .4-.3 .4-.9 .4-.1 .4 1.8 .4 .1 .4-1.6 .4 .1 .4 1.9 .4 1 .3 0 .4 0 .4 .5 .4-.9 .4-1.1 .4 0 .4-1 .4-1.3 .4 0 .4 .7 .4-.9 .4-.6 .4 .2 .3 .5 .4 2.2 .4-.5 .4 .9 .4 .1 .4-.6 .4-1.2 .4-.4 .4-.5 .4 .8 .4 1.1 .4 .2 .3-1.5 .4-1.4 .4-1.2 .4 1.3 .4-.6 .4-1.1 .4 .4 .4-.2 .4-.2 .4 1.4 .4 .4 .4-.9 .4 1 .3-1.4 .4 1.7 .4-2 .4 .6 .4 .5 .4 .3 .4-.8 .4 .8 .4-.5 .4-.1 .4-2.3 .4-.9 .3 .4 .4 .3 .4-1.5 .4 1.3 .4-.8 .4-.2 .4 0 .4 .9 .4-1.6 .4 0 .4-.1 .4-.1 .4-1.4 .3-1 .4-.1 .4 .1 .4-.1 .4-2 .4-.3 .4-.1 .4-1.6 .4-1.5 .4 1.7 .4-2.7 .4-.1 .3-1.3 .4-1.9 .4-.7 .4-1.2 .4-.4 .4 1.1 .4-2.9 .4-1.1 .4 .1 .4-.8 .4-3.1 .4-1.4 .4-1 .3 1 .4-1.6 .4-2 .4-.7 .4-.8 .4-1.9 .4 .3 .4 0 .4-1.2 .4-.7 .4 .2 .4 .4 .3-1.2 .4-2.8 .4-.1 .4 .3 .4-1.3 .4 .3 .4-1.3 .4-.1 .4-.5 .4-.6 .4 .1 .4-1.3 .4-1.4 .3-1.5 .4-3.3 .4-1.4 .4-1.8 .4-4.2 .4-1.2 .4-4.1 .4-3 .4-3.5 .4-3.4 .4-4.2 .4-6 .3-4.7 .4-7.6 .4-7.5 .4-6.9 .4-10.7 .4-9.8 .4-10.5 .4-15.3 .4-13.4 .4-16.1 .4-18.6 .4-19.8 .4-22.3 .3-27.7 .4-28.4 .4-31 .4-34.1 .4-36.5 .4-40.4 .4-42.4 .4-46.3 .4-43.6 .4-40 .4-36.5 .4-31 .3-23.6 .4-10.7 .2-1.9 .2 1.7 .4 11.7 .4 22.9 .4 30.9 .4 38.4 .4 40.5 .4 43.1 .4 44.1 .4 42.6 .4 38.7 .4 40 .3 33.7 .4 31.7 .4 27.2 .4 25.5 .4 25.5 .4 19.7 .4 18.1 .4 18 .4 13.6 .4 14.1 .4 12 .4 11.8 .3 8.7 .4 7.6 .4 7.1 .4 7 .4 5.1 .4 5.6 .4 5.2 .4 5.3 .4 6.2 .4 5.4 .4 2.4 .4 2.4 .4 2.7 .3 3.8 .4 2.5 .4 1.1 .4 3 .4 1.5 .4 1.2 .4 3.6 .4 .2 .4 1.9 .4 2.7 .4 1.1 .4 2.2 .3-.3 .4 2.5 .4-1.5 .4 2.5 .4 0 .4-1.2 .4 .6 .4 2.9 .4 .8 .4 .6 .4 .7 .4-2.3 .4-.1 .3 .7 .4 1.8 .4 1.1 .4-2 .4 1.9 .4-.4 .4-.8 .4-1.1 .4 .9 .4 1 .4 .5 .4 0 .3 2.5 .4 0 .4-.3 .4 1.8 .4-.6 .4 .6 .4-.4 .4 .5 .4 3.1 .4 .5 .4 .2 .4 .8 .4 .7 .3 0 .4-.4 .4-.7 .4-.6 .4 .2 .4 1.1 .4-.6 .4 2.1 .4 0 .4-.2 .4 .2 .4 .9 .3-.5 .4 2.1 .4-.2 .4-1.4 .4-.5 .4 2.5 .4 .3 .4-.8 .4 1.1 .4-1.7 .4 2.1 .4 1.2 .4-.3 .3-2.1 .4 .2 .4 1.5 .4 0 .4-1.2 .4-.5 .4-.8 .4 1.2 .4-.5 .4 .7 .4 1.9 .4 1 .3-.9 .4 .6 .4-1.8 .4 1.8 .4 .7 .4-.9 .4 1 .4-1.5 .4 1.6 .4-1.4 .4 1.3 .4 .4 .4 .6 .3-.4 .4-2.4 .4-.4 .4 1 .4 1.5 .4-.1 .4-2.2 .4 0 .4 0 .4-.5 .4-.1 .4 1 .3 0 .4-.3 .4 .3 .4 2 .4-.1 .4 .4 .4 .9 .4-2.6 .4 1.6 .4-1.9 .4-.5 .4 1.5 .4 .9 .3 0 .4-.5 .4 .6 .4-.7 .4-1.1 .4-.4 .4-.6 .4-.5 .4 2.8 .4 1.4 .4-1.3 .4-.4 .3-.7 .4 1.4 .4-.3 .4-1.2 .4 1.8 .4 1.1 .4-2.4 .4 .1 .4-.7 .4 1.1 .4-.4 .4-.4 .4-.2 .3 .9 .4 .1 .4 .1 .4 .6 .4-.4 .4 1.4 .4-1 .4 .7 .4 .8 .4-.7 .4-.4 .4 .4 .3 0 .4-1.8 .4-.2 .4-1 .4-1 .4 1.8 .4-.4 .4-.5 .4-1.1 .4-.6 .4 1.9 .4-.2 .4 .1 .3 .8 .4 1.1 .4-.3 .4-1.9 .4 1.6 .4-2.1 .4 .2 .4 .1 .4-1.4 .4 1.2 .4-.6 .4-.3 .3-2.4 .4 .8 .4-2 .4-.3 .4-.4 .4-2.3 .4-2.2 .4-1.9 .4 0 .4-2.5 .4-3.8 .4-3.8 .4-4.5 .3-7.1 .4-8.8 .4-10.3 .4-11.2 .4-15.8 .4-19.9 .4-28.3 .4-34.5 .4-40.6 .4-44.1 .4-35.1 .4-13.6 .3 12.9 .4 35.3 .4 42.8 .4 39.8 .4 37.2 .4 27.5 .4 22.2 .4 16.1 .4 12.6 .4 9.7 .4 6.1 .4 5.2 .4 6.5 .3 3.4 .4 2.2 .4 4.4 .4 2.9 .4 2.2 .4 .4 .4-.1 .4 2.6 .4-.2 .4 1.8 .4 1.3 .4-.5 .3-.9 .4 1.7 .4 1.8 .4 .3 .4 1.7 .4-1.5 .4 1 .4-.3 .4 .4 .4-.7 .4-.4 .4 .9 .4 .8 .3 1.4 .4-.2 .4-.4 .4 .4 .4 .1 .4-.6 .4-.7 .4 1.1 .4-.4 .4-1.4 .4-.1 .4 .5 .3 1.5 .4 .6 .4-.2 .4 1.1 .4-1.1 .4-.5 .4 1.2 .4 .3 .4-.7 .4 1.3 .4-2.3 .4 .5 .4 1.4 .3 .8 .4-1.9 .4 1.1 .4-.4 .4 1.2 .4-1.5 .4 .4 .4 .2 .4 1.2 .4-1.6 .4-.6 .4-1.2 .3 1.3 .4-1.4 .4 2 .4-1.5 .4-.5 .4 2.3 .4-.4 .4 .7 .4-1 .4-.9 .4 0 .4 2.1 .4-1.6 .3 1.6 .4 .7 .4-.3 .4-1.6 .4 .8 .4 1 .4-.6 .4-1.5 .4 .5 .4 1.5 .4-.5 .4-1.8 .3-.7 .4 1.1 .4-1.4 .4-.9 .4 .8 .4 0 .4 .8 .4-1 .4 1.1 .4 .9 .4-.8 .4 .5 .4 0 .3 .8 .4-.3 .4-.1 .4-.4 .4 .6 .4-2.3 .4-1.2 .4 1.8 .4 .7 .4-2.6 .4 1.6 .4-.3 .3 .7 .4-.1 .4-1.2 .4-1.3 .4 1.7 .4 .7 .4-.2 .4-.7 .4 .1 .4 2.1 .4-.5 .4-1 .4 2.2 .3 1.2 .4-2.2 .4-.9 .4 1.4 .4-.5 .4 .1 .4 .8 .4-1 .4 .6 .4-1 .4-.5 .4 .9 .3 .1 .4 1.6 .4-1.8 .4 1.8 .4-1.4 .4-.4 .4-1 .4 .3 .4 2.3 .4-.9 .4 1.2 .4 1 .4-.4 .3-2 .4-.1 .4-1 .4-.2 .4 .2 .4-.5 .4 1.5 .4 .2 .4-.7 .4-.5 .4-.6 .4-.4 .3 .8 .4-.8 .4 1.1 .4-.5 .4 1.5 .4-1.1 .4 1.3 .4 .6 .4 0 .4-3 .4 0 .4-2.9 .4-2 .3-5.3 .4-6.1 .4-8.1 .4-5.8 .4-5.2 .2 .7 .2 .7 .4 3.6 .4 5.1 .4 7 .4 6.4 .4 4.3 .4 3.7 .3 .4 .4 2.1 .4 2.7 .4 1.6 .4 .1 .4 .1 .4-.2 .4 1.2 .4 0 .4-1.1 .4-.5 .4 1.3 .4-.6 .3-.2 .4-1.1 .4 .7 .4-.3 .4 1.4 .4 .9 .4 .5 .4 0 .4-3 .4-1.5 .4 .2 .4 1.8 .3-.1 .4-1 .4-1.1 .4 0 .4-.4 .4-.2 .4 1.9 .4-.9 .4-.5 .4 1.2 .4-1 .4 1.9 .4 .3 .3 .9 .4-.1 .4 0 .4-1.6 .4-.3 .4-.3 .4-.1 .4 1.7 .4-.7 .4 .8 .4-.2 .4-1.9 .3-.6 .4 1 .4 1.2 .4-1.3 .4-.6 .4 .1 .4 .3 .4 0 .4 1.7 .4-.2 .4-1.3 .4-.4 .4 .3 .3-1 .4 .2 .4-1 .4 1.5 .4 1.5 .4 .8 .4-.7 .4-1.1 .4 .1 .4 0 .4-1.4 .4 .6 .3 .1 .4-1 .4 .3 .4 1.4 .4 0 .4-1 .4-.9 .4 .8 .4 .1 .4-.8 .4 .1 .4-.2 .4 .6 .3 1.1 .4-1.2 .4-.1 .4 0 .4 .3 .4-1.4 .4-.7 .4 1.9 .4-1.7 .4 .8 .4-1 .4 .2 .3-.1 .4-.9 .4-.7 .4 2.3 .4-2.1 .4-.8 .4 1.6 .4-.6 .4-.9 .4 1.4 .4 1.3 .4-2.1 .4 .6 .3-.9 .4 1.5 .4-.7 .4 .5 .4-.6 .4-2.3 .4-.2 .4 .7 .4-1.7 .4-1.2 .4 2.3 .4 .7 .3-.7 .4-2.5 .4 .7 .4 1.1 .4-.4 .4-.6 .4-1.5 .4-.3 .4 .6 .4-1.5 .4-2.4 .4-1.3 .4 1.7 .3-.3 .4 .3 .4-3 .4-2 .4 .5 .4-1.1 .4-.9 .4-1.8 .4 .3 .4-.3 .4-1.1 .4-2.2 .3-1.6 .4-2 .4-1.6 .4-2.2 .4-1.5 .4-.2 .4-1.8 .4-4.3 .4-1.6 .4-1.7 .4-4 .4-1.7 .4-2.4 .3-6 .4-3.1 .4-4.5 .4-4.3 .4-4.3 .4-3.6 .4-5.4 .4-4.8 .4-7.7 .4-5.3 .4-7.4 .4-8.1 .3-5.7 .4-7.5 .4-8.9 .4-6.2 .4-8.5 .4-7.7 .4-6.6 .4-9.3 .4-7.4 .4-6.9 .4-7.1 .4-5.1 .4-2.8 .3-3.6 .4-3.9 .4-.6 .2 0 .2-.6 .4 1.8 .4 1.7 .4 4.6 .4 3.7 .4 6.5 .4 5 .4 5.8 .4 7.4 .3 7 .4 10.1 .4 9.5 .4 6.8 .4 6.7 .4 9.3 .4 8.2 .4 5.5 .4 6.3 .4 6.9 .4 5.2 .4 5.6 .4 6.1 .3 4.5 .4 4.6 .4 6 .4 4 .4 5.9 .4 4.9 .4 3 .4 1.7 .4 3.9 .4 1.8 .4 3.9 .4 1.5 .3 2.8 .4 2.5 .4 2 .4 2 .4 .4 .4 .3 .4 1.6 .4 3.4 .4-.8 .4 .9 .4 1.2 .4 1.4 .4 2.7 .3-.6 .4-.1 .4 0 .4 1.4 .4 2.4 .4 .6 .4 1.3 .4 .4 .4 0 .4 .4 .4-.8 .4 2.9 .3 .9 .4-1.5 .4-.2 .4 2 .4 .3 .4 1.1 .4 .7 .4-1.5 .4 1.6 .4-1.1 .4-.7 .4 1.9 .4 1.3 .3-1 .4-.1 .4 1.2 .4-.8 .4 .2 .4 2.1 .4-1.8 .4 2 .4 .9 .4 .9 .4-2 .4-1.1 .3 .3 .4-.6 .4 2.3 .4 0 .4 1 .4-.6 .4-.2 .4 1.5 .4-2 .4-.6 .4 1.9 .4 .1 .4 .8 .3 1.1 .4-.1 .4-.5 .4 .2 .4-.6 .4-1.3 .4-.2 .4 2 .4-.4 .4-1.8 .4 1.3 .4 1.8 .3-.3 .4-.5 .4-.4 .4 .4 .4 .3 .4-.3 .4 1.3 .4 .6 .4 0 .4-.2 .4-.1 .4-1.7 .4 .1 .3-.7 .4-.5 .4 2.3 .4-1.3 .4 1.3 .4 .8 .4-1.1 .4-1.8 .4-.5 .4 1.4 .4 .8 .4-.8 .3 .3 .4-1.4 .4 .8 .4 .6 .4 .1 .4-1.1 .4-.9 .4-3 .4-1.3 .4-1.1 .4-2.8 .4-2.8 .4-.1 .3-2.8 .4-4 .4-3.7 .4-3.2 .4-4 .4-3.7 .4-2 .2 1.5 .2 1 .4-.7 .4 3.9 .4 3.7 .4 3 .3 4.8 .4 2.8 .4 4.5 .4 2.8 .4 2.5 .4 .2 .4 3.6 .4 2.5 .4 .9 .4-.8 .4 1.3 .4-1.2 .4 1 .3 0 .4 .5 .4-.2 .4-.8 .4 .9 .4-.2 .4-.2 .4 .5 .4-.4 .4-.6 .4 3.1 .4-1.6 .3 2.1 .4-.6 .4-1.2 .4 .4 .4 .6 .4-1.3 .4 1.1 .4-1.3 .4 .4 .4 1.6 .4 1.3 .4-1.6 .4 0 .3 1.9 .4-1.2 .4-1.3 .4-.1 .4 2 .4-.7 .4 .7 .4 1.4 .4-.4 .4-1.6 .4 .1 .4-.4 .3 .3 .4 .7 .4 1.6 .4-.2 .4-.7 .4 .7 .4-.6 .4-1.4 .4 1 .4-.9 .4-.6 .4 .3 .4 .5 .3-1.2 .4 .5 .4 2.3 .4-.4 .4-.6 .4 0 .4 .8 .4-.3 .4-.5 .4 .3 .4-.9 .4 .9 .3-.5 .4 .7 .4-.9 .4 .5 .4-1.2 .4 .3 .4 .1 .4-1.5 .4-.5 .4 .9 .4 1.5 .4 .8 .4 .5 .3 .1 .4 .6 .4-2.4 .4-1.3 .4-.8 .4 1.8 .4-1.1 .4-.2 .4-.7 .4 2.2 .4-1.3 .4-.6 .3 .9 .4 .8 .4-1.9 .4 .9 .4 .2 .4 .2 .4-.1 .4 .9 .4 .5 .4 .4 .4-1.7 .4-1.8 .4 .5 .3-1.3 .4 1.4 .4 .2 .4 .9 .4 .8 .4 0 .4-.2 .4-1.3 .4 .6 .4 0 .4-1.4 .4 1.4 .3-.6 .4-.2 .4-1.2 .4 1.5 .4-.5 .4 .6 .4 .6 .4-.8 .4-.2 .4-.5 .4-1.1 .4 1.3 .4 1.1 .3-2.5 .4-1.3 .4 .8 .4-1 .4 .7 .4 0 .4-.3 .4 1.6 .4 .1 .4 1.1 .4-1.9 .4-.3 .3 .6 .4 .8 .4-.9 .4-1.2 .4 0 .4 .6 .4 1.6 .4-.3 .4 .5 .4 .1 .4-1.3 .4-.5 .4 .9 .3 0 .4-1.2 .4-1.3 .4 1.1 .4-.9 .4-.7 .4-.4 .4 1.2 .4 .5 .4 1.2 .4-.6 .4-.7 .3 1 .4-2.1 .4 .4 .4 1.6 .4-1.5 .4-1.4 .4-.9 .4-.8 .4 1.9 .4-.2 .4 1.2 .4 .6 .4-2.6 .3-.5 .4-.5 .4-.4 .4-1.1 .4 0 .4 .1 .4 .2 .4 .2 .4 1.3 .4-2.6 .4-1.6 .4 1.5 .3-1.8 .4-.5 .4-1.6 .4 .6 .4-.3 .4-2.1 .4-3.6 .4-1.9 .4-.9 .4-2.3 .4-3.5 .4-3.1 .4-4.6 .3-3.3 .4-2.7 .4-5.6 .4-5.7 .4-7.4 .4-5.8 .4-8.4 .4-9.2 .4-8.6 .4-11.8 .4-12.8 .4-10.9 .3-11.7 .4-14.8 .4-12.6 .4-10.2 .4-11.2 .4-9.6 .4-8.2 .4-4.4 .4-.5 .4 3.1 .4 4.4 .4 8 .4 7.8 .3 9 .4 12.1 .4 12.8 .4 11.9 .4 12.3 .4 14.9 .4 12.8 .4 8.8 .4 8.7 .4 11.4 .4 6.6 .4 6.9 .3 6 .4 5.4 .4 4.3 .4 5.5 .4 5.6 .4 1.8 .4 3.7 .4 1.8 .4 4.1 .4 3.4 .4 2.4 .4 .7 .4-.3 .3 2.3 .4-.5 .4 2.6 .4 0 .4 2.4 .4-.5 .4 1.6 .4 .2 .4-.6 .4 .8 .4 .4 .4-.5 .3 1.2 .4 .7 .4 1 .4-.5 .4 .7 .4-.9 .4 .7 .4-.5 .4 1.7 .4-1.1 .4-.2 .4-.7 .4 .4 .3 1.1 .4-.4 .4-.6 .4 2.4 .4-.7 .4-.7 .4 .4 .4 1.7 .4 .5 .4 .9 .4-.8 .4-1 .3 0 .4-1.4 .4 1.4 .4 1.3 .4 .9 .4 .2 .4-.5 .4 .3 .4-1.6 .4 .1 .4-1.2 .4 2 .4-.4 .3-1.4 .4 2.1 .4-.2 .4-1.4 .4 1.4 .4 0 .4 0 .4 .9 .4-1.5 .4-.8 .4 .5 .4-.9 .3 1.2 .4-.1 .4-1 .4-.8 .4-.2 .4 1.3 .4 1.8 .4 .5 .4 .4 .4-.7 .4 .4 .4-1.3 .4-.6 .3 1.5 .4-1.4 .4 .5 .4 .1 .4-1.7 .4 .9 .4 1.2 .4 1 .4-1.2 .4 1.1 .4-2.4 .4 1.7 .3 .1 .4 .5 .4-1 .4-.1 .4 .8 .4-1.7 .4-1 .4 1.4 .4 1.1 .4-1.7 .4 .3 .4-.1 .4-.8 .3 1.4 .4-1.2 .4 1 .4-.8 .4-1.4 .4 2 .4-1.8 .4-1.2 .4-1 .4 .5 .4-.9 .4-.2 .3 2.4 .4-1.3 .4 .7 .4-1.6 .4-1.7 .4-1.2 .4-.5 .4 2.3 .4-1 .4-1.7 .4-2 .4 .5 .4-1.6 .3-1.9 .4-.9 .4-.5 .4-2.6 .4-1.7 .4-3.5 .4-2 .4-4.5 .4-1.3 .4-2.8 .4-5.1 .4-5.8 .3-6.2 .4-5.5 .4-7.1 .4-7.3 .4-9 .4-9.4 .4-8.6 .4-11.1 .4-10 .4-10 .4-9.4 .4-6.1 .4-7.7 .3-4.1 .4-5.1 .4 1 .4 .6 .4 4 .4 3.4 .4 7.7 .4 9.3 .4 7.9 .4 8.3 .4 10.2 .4 11.3 .3 10.2 .4 6.9 .4 8.3 .4 9.6 .4 5.9 .4 5.1 .4 7.8 .4 5.9 .4 3.8 .4 4.4 .4 4 .4 3.7 .4 .8 .3 3.4 .4 3.3 .4 2 .4 .8 .4 .7 .4 2.9 .4 2 .4 .9 .4-.2 .4 1.6 .4 1.1 .4-.4 .3-1.2 .4 1.2 .4-.7 .4 .5 .4 1.2 .4 .6 .4 .9 .4 1.2 .4 1.1 .4-1.4 .4 1.5 .4-1.2 .4-.5 .3 1.2 .4 1.5 .4-.8 .4 .7 .4 .4 .4-1.4 .4 .4 .4 1.3 .4-2.4 .4-.8 .4 2.2 .4 .1 .3-.4 .4 1.1 .4-.6 .4-1.3 .4 .1 .4 1.5 .4 .3 .4-.3 .4-1.7 .4 2.5 .4-1.9 .4-.2 .4 1.7 .3 1.3 .4-.1 .4-1.1 .4 .7 .4 .1 .4-.2 .4 .6 .4-.5 .4-.3 .4-1 .4 1.2 .4-1.6 .3-.8 .4 1.4 .4-1.3 .4 2.2 .4-1.2 .4 .4 .4-.5 .4 .5 .4 .7 .4-1 .4 .6 .4 1.8 .4-1.8 .3-.7 .4-.4 .4-.5 .4-.6 .4 3 .4 1.5 .4-2.4 .4 1.5 .4-.1 .4-1.3 .4 1.7 .4-1.8 .3 1 .4 .5 .4 .4 .4-1.3 .4-1 .4 1.2 .4-.6 .4 .8 .4 .9 .4-2 .4 1.4 .4 1.6 .4-1.2 .3 0 .4-.8 .4 1.5 .4-1.5 .4-1.2 .4 .8 .4 .2 .4 .6 .4-1 .4 2 .4-.3 .4-.7 .3 .9 .4-1.9 .4 2 .4 .7 .4-1.5 .4-.2 .4-1.4 .4 1.8 .4 1.5 .4-.5 .4 1 .4-1.2 .4 .7 .3 .3 .4 .4 .4-1.4 .4-.5 .4-1.9 .4 2.2 .4-1.9 .4 .8 .4 .4 .4-1.2 .4-.1 .4-.1 .3-1.1 .4 .7 .4 .3 .4 1.3 .4 .6 .4 1.1 .4 .3 .4-2 .4 .2 .4 .4 .4 .5 .4-2 .4-.4 .3 .8 .4-.7 .4 1.7 .4-.9 .4 .5 .4-2 .4 1.8 .4 1.1 .4 .5 .4-2 .4 .6 .4 .7 .3-2.7 .4-1.6 .4 1.1 .4 1.5 .4-2.7 .4 1.3 .4-.2 .4-.9 .4-1.8 .4 .2 .4-.1 .4-1.3 .4 1.6 .3 .1 .4-2 .4 .5 .4 .1 .4 1.3 .4 .8 .4 .2 .4-2.6 .4 .1 .4-.8 .4 1.8 .4-1.3 .3 2 .4 .4 .4 .4 .4 1.3 .4 .4 .4-.2 .4-.5 .4-.5 .4-.3 .4-1.8 .4-.4 .4 1.4 .4-.2 .3-.1 .4 1.3 .4-1 .4 .6 .4 .5 .4 .2 .4-2 .4 .2 .4-.5 .4 0 .4-1.8 .4-.6 .3-.3 .4 1.6 .4 .6 .4-1.2 .4 0 .4-.7 .4-.2 .4-1.2 .4-.6 .4 1.7 .4 .3 .4-2.6 .4-1.6 .3 1.6 .4-.9 .4-.1 .4-.4 .4-.5 .4 .5 .4-2.6 .4 .8 .4-2 .4-1.9 .4-.6 .4 .1 .3 .6 .4-.8 .4 .5 .4-2.8 .4-1.1 .4-.4 .4-.6 .4-.4 .4-1.3 .4-2.5 .4 .6 .4-.2 .4-3.1 .3 .5 .4-3 .4 .3 .4-.6 .4-1.9 .4-2.2 .4-1 .4 .2 .4-.7 .4 .2 .4-2.6 .4-.2 .3-1.6 .4-2.1 .4-.9 .4-1.1 .4-.6 .4-1 .4 2.4 .4-1 .4 .6 .4-.9 .4-.2 .4-1 .4 1.9 .3-1.5 .4 2 .4 .5 .4 .7 .4-2 .4 2.3 .4 .3 .4 .3 .4 .5 .4 .2 .4 2.3 .4 1.6 .3 1.2 .4-1.6 .4 1 .4 1.6 .4-.5 .4 2.7 .4 1.5 .4-1 .4 .7 .4 2.2 .4 2.3 .4 2 .4-.9 .3 2 .4 .6 .4 0 .4 .1 .4 0 .4 .3 .4 1.8 .4 .4 .4 .8 .4 1.2 .4 .4 .4 .8 .3 .9 .4 3.3 .4 .1 .4 1 .4 .5 .4 2 .4 .9 .4 1 .4 .6 .4 .1 .4 .8 .4-1.3 .4 .6 .3-.5 .4 2 .4-1 .4 2.1 .4-1.3 .4-.1 .4 1.4 .4 .3 .4-.9 .4-.6 .4 2.4 .4-1 .3 .7 .4 1.6 .4-.3 .4-.1 .4-1 .4 2.2 .4 .1 .4 .3 .4-.7 .4 .8 .4-.6 .4-1 .4 .2 .3 1.5 .4 1.1 .4-.6 .4 .3 .4 1 .4-.4 .4 .9 .4-2.1 .4 1.1 .4 0 .4-.6 .4-.4 .3-1.7 .4-1.5 .4-.8 .4 2.3 .4-.7 .4 .2 .4-.7 .4 1 .4-.2 .4-1.5 .4 .1 .4-1.6 .4 1.7 .3-1.8 .2 1.6 .2-.4 .4-1.5 .4 2.3 .4-1.4 .4 1.1 .4-.7 .4-.6 .4 2.1 .4 1.6 .4 .9 .4-.2 .3-.1 .4-1.6 .4 2.1 .4-1.2 .4 .5 .4-1.8 .4 0 .4 .7 .4 .2 .4-.2 .4-.3 .4-1.4 .4 1.3 .3-.4 .4-1.1 .4 .2 .4 1 .4 .6 .4-.9 .4-1.7 .4 .8 .4 .1 .4-.5 .4 1.2 .4-1.6 .3-.5 .4-2.1 .4-1 .4-.5 .4-.5 .4-.5 .4-.8 .4 2.1 .4-.4 .4-.8 .4-.5 .4-1.6 .4 .9 .3-.4 .4-1.6 .4-2.6 .4-1.7 .4-1.2 .4 1.3 .4-2.2 .4-.1 .4-.3 .4-1.2 .4-1.4 .4 1 .3 0 .4-1.2 .4-1.9 .4-.2 .4-1.5 .4-2.9 .4-2.4 .4-1.7 .4-1.6 .4-.4 .4-.1 .4-1.9 .4-1.9 .3-.7 .4-.4 .4 .8 .4 0 .4-.7 .4-2.6 .4 .3 .4-2 .4-.2 .4-.5 .4-1.4 .4 .3 .3-.9 .4 1.4 .4-1.1 .4 1.4 .4-1.1 .4-.9 .4 1.2 .4 2.5 .4 .7 .4-.5 .4 1 .4 .4 .4 1.8 .3 .2 .4 .2 .4 3.4 .4-.9 .4 .4 .4 1.4 .4 1.3 .4 2 .4 1.4 .4 .1 .4 2.9 .4 1.6 .3-.5 .4 .3 .4 .5 .4 2.1 .4 1.9 .4 1.8 .4-.3 .4 2.4 .4 1.8 .4-.2 .4-.9 .4 .2 .4 2.3 .3-.7 .4 1.8 .4 1.6 .4-1.2 .4 .1 .4 .6 .4 1.3 .4 2.3 .4 1.2 .4-.5 .4-1.3 .4 1.3 .3-.3 .4 .4 .4 2.6 .4-.7 .4 .1 .4 1.2 .4 1.7 .4-2 .4 .9 .4 .9 .4-1.3 .4-.6 .4 .7 .3 .4 .4 1.5 .4 1.8 .4 0 .4-.7 .4 1.6 .4 .7 .4-1.2 .4-.4 .4 0 .4-1.4 .4 1.3 .3 .9 .4-.3 .4 .3 .4 1.3 .4-.3 .4 .2 .4 .8 .4-.1 .4-.9 .4 1.2 .4 .7 .4-2.6 .4 1.9 .3-1.9 .4 1.5 .4 0 .4 .5 .4-1.2 .4-.8 .4-.7 .4-.6 .4-.2 .4 0 .4 2.3 .4 .2 .3 1.2 .4 1.1 .4-1.3 .4-1.6 .4 1.8 .4-1.8 .4 .4 .4 1.4 .4-1.7 .4-.4 .4 1.1 .4-1.4 .4 1.9 .3 .6 .4-.5 .4 .5 .4-2 .4 1.3 .4-.5 .4-1 .4 .8 .4-1.1 .4-2.2 .4 .8 .4-2.3 .3 .2 .4-1.5 .4-.6 .4-.7 .4 .1 .4-.4 .4-1.3 .4-1.1 .2 1.4 .2-1.6 .4 1.2 .4 1.6 .4 .9 .4-1.1 .3 .2 .4 2.5 .4 2.2 .4 .9 .4 2 .4 .3 .4-.5 .4 1.7 .4-1.4 .4-1 .4 .6 .4-.9 .3 1.5 .4 .7 .4-.8 .4 1.1 .4 .1 .4 .9 .4 .8 .4 .4 .4-.1 .4-2.1 .4 .7 .4 .6 .4-1.3 .3 0 .4 .5 .4-.5 .4-1 .4 .3 .4 .6 .4 1.5 .4 1.5 .4 .3 .4 .3 .4 .4 .4-1.3 .3-.3 .4-2.2 .4 1.3 .4 1.1 .4-1.2 .4 .4 .4-1.6 .4 2.1 .4-.7 .4-.2 .4-.9 .4 1.7 .4 1.2 .3-1.3 .4-.2 .4-.9 .4 1 .4 .2 .4 .9 .4-2.4 .4 .5 .4 1.8 .4-2.3 .4 .9 .4-.3 .3-1.1 .4 .1 .4 2.3 .4-1.4 .4 .2 .4 1.5 .4-1.9 .4-1.2 .4 1.4 .4 .8 .4-1.6 .4 1.9 .4 .8 .3-.2 .4-1.3 .4 1.6 .4-1.5 .4 1.9 .4-.6 .4 1 .4-.8 .4-.2 .4 1.1 .4-1.2 .4-1 .3 1.8 .4 .9 .4-2.4 .4 1.3 .4 .3 .4-1.7 .4-.8 .4-1 .4 2.2 .4-1.5 .4 1.9 .4 .7 .4 1.1 .3-2.4 .4 1.1 .4-1.9 .4-.8 .4 2.1 .4-1.3 .4 1.3 .4 1.6 .4-1 .4-.6 .4 1.2 .4-.2 .3 1.1 .4-.5 .4-1 .4-1.9 .4 2 .4 .5 .4-1.9 .4 1 .4-1 .4 .1 .4-.9 .4-.8 .4 1 .3 1.2 .4 .7 .4 .7 .4 .6 .4-.3 .4-1.8 .4 .8 .4 .3 .4-2 .4-1.3 .4 2.4 .4-1.4 .3 1.7 .4 1.1 .4-1.3 .4-.2 .4-1.7 .4-.9 .4 2.2 .4 .3 .4-1.1 .4-.8 .4-.8 .4 1.9 .4-.7 .3-1.1 .4 2 .4-.7 .4-.9 .4 .9 .4-.2 .4 .4 .4 0 .4 .2 .4-.8 .4 .3 .4 1.8 .3-1.7 .4-.2 .4 0 .4 0 .4-.4 .4 .7 .4 1.4 .4-2 .4 0 .4 1.7 .4-2.5 .4 1.1 .4-.7 .3 .1 .4 .7 .4-1.3 .4-1.5 .4 1.1 .4 1.5 .4-1.4 .4 .7 .4-1.5 .4-.7 .4-1 .4-1 .3-1.8 .4-1.9 .4-2.2 .4-4.2 .4-1.6 .4-3.3 .4-3.3 .4-2.3 .4-2.5 .4-1.4 .4 2.5 .4 .1 .4 2.2 .3 3.5 .4 3 .4 1.5 .4 2.6 .4 3.9 .4 .6 .4 2 .4 .3 .4 .3 .4 3.6 .4 .1 .4 .4 .3-1.1 .4-.1 .4 1.3 .4 2 .4 1.2 .4-1.3 .4-.2 .4-1.1 .4 1.6 .4-1.6 .4-.2 .4-.5 .4 1.6 .3 1.3 .4-.9 .4-.8 .4 1.6 .4-2 .4 1.3 .4-.9 .4 1.5 .4-1.4 .4 1.3 .4 .6 .4-1.5 .3-1.2 .4 .9 .4-1.5 .4 1 .4-.5 .4 1 .4-1.4 .4 1.2 .4-.8 .4 .6 .4 .8 .4-1.5 .4-.2 .3 1.2 .4 .5 .4 .9 .4-2.5 .4 0 .4-.2 .4 1.7 .4-.5 .4-.8 .4-1 .4 .5 .4-.2 .3-1.2 .4 1.5 .4 1.6 .4-.9 .4-.2 .4 1.2 .4 .9"/>
<path stroke="#808000" d="M235.0 1119.9l.4 .8 .4-.6 .4-1 .4-1.2 .4 1.7 .4 .3 .3 1.2 .4-.5 .4 1.1 .4-1 .4 1.4 .4 .6 .4-.7 .4 .2 .4 .7 .4-1.3 .4 .8 .4 1.3 .3-1.1 .4 1.4 .4 .4 .4 .9 .4-1.2 .4-1.3 .4 1.8 .4 1.1 .4-.6 .4-1.4 .4-.3 .4 1.5 .4-.4 .3 2 .4-.2 .4-1.3 .4 .9 .4-.5 .4 1.7 .4 .8 .4-.8 .4 0 .4 .2 .4 .6 .4 .8 .3-2.7 .4-.2 .4 .8 .4-.6 .4 .7 .4-1.3 .4 2.1 .4-.2 .4-1.4 .4 1.2 .4-.6 .4-.6 .4 .7 .3-.8 .4-.2 .4 2.2 .4 .6 .4-2 .4 1.6 .4-1.7 .4 .2 .4 2.1 .4 .2 .4-1 .4-.2 .3-.1 .4-.8 .4 2.5 .4-1.9 .4 .4 .4 1.3 .4-.5 .4 1.8 .4-1.6 .4 1.7 .4 .6 .4-.4 .4 .6 .3-1.2 .4 .8 .4 .2 .4-.7 .4-.5 .4 .5 .4-.6 .4-1.4 .4 1.5 .4-.8 .4 .4 .4 1.2 .3-1.4 .4-1.2 .4-.2 .4 1.5 .4 0 .4-.3 .4 .6 .4 1.9 .4-1.3 .4-.1 .4 1.6 .4-.1 .4-1.1 .3 .1 .4 .1 .4-1 .4 .3 .4-.1 .4 1.7 .4-.7 .4 .8 .4 1.5 .4 .6 .4-1.5 .4 0 .3-.9 .4-.1 .4 .3 .4 1.2 .4 1.1 .4-1.6 .4-1.7 .4 .6 .4-.9 .4-.6 .4 2.3 .4-1.1 .4 1.6 .3-.4 .4 1.8 .4 .6 .4-2.3 .4-.7 .4 2.2 .4 .1 .4-.6 .4 .9 .4 .6 .4-.7 .4-.4 .3-1.5 .4 .2 .4-.6 .4 1.4 .4 .6 .4-1.2 .4 1.1 .4-1.2 .4-.6 .4 1.6 .4 .2 .4 1.7 .4-.1 .3 .2 .4-1.8 .4 1.6 .4-1.8 .4 1 .4 1.6 .4 .7 .4 .4 .4-1.3 .4 .3 .4 .4 .4-1.9 .3 1.8 .4 .8 .4-1.1 .4 .6 .4-.8 .4-.9 .4 1 .4-1.6 .4 1.7 .4 1.5 .4-1.6 .4 1.5 .4-2.1 .3 1.6 .4-1.2 .4 1.8 .4-.8 .4 1.2 .4-2.3 .4-1 .4 2 .4 .5 .4-.1 .4-1.7 .4-.4 .3 .6 .4-.8 .4 2.8 .4 .7 .4 1 .4-.3 .4-1.4 .4-1.5 .4 1.5 .4-1.4 .4 .8 .4 .2 .4 .2 .3-1.4 .4-.7 .4 1.1 .4-1.1 .4 1 .4-.9 .4-.3 .4-.8 .4 .6 .4-.7 .4-1.4 .4-1.1 .3 .2 .4 1.2 .4-1 .4-1 .4 .6 .4 .6 .4 1.9 .4 2.2 .4 .7 .4-.6 .4 .3 .4 .6 .4 .6 .3 .2 .4 2.3 .4-.3 .4 .2 .4 .4 .4 0 .4 .6 .4-1.1 .4 .5 .4 1.3 .4-2.1 .4 .6 .3-.5 .4-1.3 .4-.7 .4 2.1 .4-1.1 .4 1.5 .4-1.3 .4 .3 .4-1 .4 1.2 .4 1.5 .4-1.2 .4 .6 .3 1.5 .4-1.4 .4-.1 .4 .8 .4 .9 .4-1.9 .4 .7 .4-1.4 .4-.8 .4 2.6 .4-1.9 .4 2 .3 .4 .4 0 .4 .2 .4-.2 .4-1.4 .4-.1 .4-.9 .4 1.8 .4 .6 .4 .3 .4-1.8 .4 .4 .4-1 .3 1.3 .4 .5 .4 1.1 .4-.4 .4-.4 .4 .1 .4-2.2 .4 .5 .4-1.7 .4 .3 .4-.8 .4 2.4 .3-1.9 .4 2 .4 1 .4-1.3 .4 .7 .4-2.4 .4-1 .4-1 .4-.4 .4-.5 .4 2.5 .4-1.4 .4 .8 .3-.7 .4-1.1 .4 .3 .4-.8 .4 2.1 .4-1.3 .4-.1 .4-.5 .4-.3 .4-1 .4-1.7 .4-1.7 .3 1.2 .4-2.4 .4-1 .4-.1 .4-1.8 .4-.7 .4-2 .4-3.6 .4-4.8 .4-3 .4-4.3 .4-3.9 .4-6.7 .3-7.1 .4-8.3 .4-11.4 .4-11.1 .4-12.6 .4-15.7 .4-10.6 .4-8 .4-2.9 .4 1.5 .4 7.6 .4 11.2 .3 13.8 .4 15.1 .4 11.3 .4 8.9 .4 9.1 .4 6.9 .4 7.7 .4 6.5 .4 5.6 .4 1.4 .4 3 .4 1.7 .4 4.4 .3 2.8 .4 1.1 .4 2.6 .4 .4 .4 1.5 .4 .3 .4 .1 .4 2.5 .4 1.1 .4-.1 .4 1.2 .4 .1 .3 .8 .4-2 .4-.5 .4-.2 .4 1.8 .4 1.4 .4-1.1 .4 .8 .4-.9 .4 1.7 .4 1.2 .4-1.6 .4 2.3 .3 .2 .4-1.7 .4 0 .4-.6 .4 1.7 .4 1.6 .4-1.7 .4-.7 .4 1.2 .4 1.4 .4 .4 .4-.7 .3-1.5 .4 1 .4 0 .4 1.2 .4-.1 .4 .5 .4 1.1 .4-.5 .4 .7 .4-1.8 .4-1.8 .4 2.2 .4-1.8 .3 2.4 .4-.6 .4-1.6 .4 0 .4 1.5 .4-.4 .4 .7 .4-1.4 .4 1.8 .4-.6 .4 1.2 .4-1.6 .3 .9 .4-.1 .4-.3 .4-1.4 .4 1 .4 1.6 .4-1.7 .4 .4 .4-1.3 .4 2.7 .4 1.3 .4-.3 .4-.8 .3-1.8 .4-.7 .4 1.7 .4 1.1 .4 1.3 .4 .2 .4-1.3 .4-1.3 .4 .4 .4-.5 .4 .5 .4 1.4 .3-.7 .4 1.4 .4-.1 .4-2.4 .4 1.3 .4 .3 .4 .1 .4-2.1 .4 2 .4-.3 .4 0 .4-1.3 .4-1.1 .3-.6 .4 .4 .4 .5 .4-.2 .4-.5 .4 2.1 .4 1 .4 1.1 .4-1.8 .4 .9 .4 0 .4-1.7 .3 1.8 .4-.8 .4-1 .4-.5 .4 2.3 .4-1.3 .4 0 .4 .5 .4-.4 .4 .9 .4-1.5 .4 .4 .4 .7 .3 .5 .4 .2 .4-1 .4 .7 .4 1.5 .4-.9 .4 .1 .4 .7 .4-1.6 .4-.8 .4 2.1 .4-1.3 .3-.2 .4-.3 .4 2 .4-.5 .4 .9 .4-2 .4-.6 .4 .9 .4-.6 .4 .8 .4 0 .4-1.6 .4-.6 .3 .8 .4 .7 .4-.8 .4-.1 .4-1 .4 .4 .4 .4 .4 .5 .4 .9 .4 1.3 .4 .3 .4 .2 .3-1.5 .4 0 .4 .8 .4 .9 .4-1.7 .4-1.6 .4-.7 .4 1.2 .4 1.9 .4-1.6 .4 1.4 .4 .2 .4 .9 .3 .5 .4-2.4 .4 1.1 .4-1.6 .4-.9 .4 .5 .4 .5 .4-1.1 .4 .1 .4-.2 .4-.3 .4-.3 .3-.4 .4 .5 .4 .6 .4 .6 .4 1.3 .4 .3 .4-.3 .4-.7 .4 .7 .4-1.1 .4-.7 .4-.5 .4 1.6 .3-1 .4-.2 .4 .3 .4 .9 .4 .7 .4 .2 .4 .1 .4-1.4 .4 1.8 .4 .3 .4-1 .4-.6 .3 .4 .4-1.4 .4 1.1 .4 1.4 .4-1.2 .4-.1 .4-.9 .4 1.7 .4-.9 .4-.5 .4 .9 .4-.8 .4 1.5 .3-1 .4 .1 .4-.9 .4 .4 .4-.1 .4-1.4 .4 2 .4-1.5 .4 .6 .4 .6 .4-.4 .4-.7 .3 0 .4 1.9 .4-2.5 .4 1.7 .4-.1 .4-.5 .4 .2 .4 .1 .4 .6 .4 .8 .4-1.2 .4-1.2 .4-.7 .3 1.5 .4-.7 .4-1.9 .4 .8 .4-1.3 .4 .1 .4 1 .4 .3 .4-.1 .4 .8 .4-.4 .4 .9 .3-.2 .4-2 .4 .6 .4-1.2 .4 1.3 .4-.6 .4-1.1 .4-1.5 .4 1.4 .4-1.2 .4-1.8 .4 1.5 .4-2.1 .3-1.1 .4-.7 .4 1.4 .4 .3 .4-.4 .4 1.1 .4-1.2 .4-1.9 .4 1.5 .4-2.5 .4-1.8 .4-.7 .3 1.9 .4-1.3 .4-1.3 .4-1 .4-.9 .4 .4 .4-.6 .4-2.1 .4-1.8 .4 .6 .4-1 .4-1.3 .4-2.3 .3 .9 .4-1.7 .4-.1 .4-1.5 .4-1.5 .4-3.4 .4 .7 .4-.4 .4-3.4 .4-2.2 .4 .4 .4-.2 .3-2 .4 1.3 .4-2.5 .4 .1 .4-.3 .4-.6 .2 .9 .2-.4 .4 1.1 .4 .8 .4-1.9 .4 .5 .4 1.4 .4 .4 .3 1.7 .4-.6 .4 .6 .4 2.2 .4 .8 .4 .9 .4 1.8 .4 2.2 .4 1.9 .4 1.3 .4 .9 .4 .8 .3 2.5 .4 1.7 .4 1.5 .4 1.4 .4 .3 .4-1 .4 1.6 .4-.2 .4 .3 .4 .9 .4-.4 .4 1.5 .4 .2 .3 .6 .4 1.2 .4 2 .4 .9 .4-.5 .4 1.4 .4-.1 .4-.1 .4 .4 .4-.1 .4-.3 .4 2.8 .3 .3 .4 .5 .4 .2 .4-.1 .4 .5 .4-1.8 .4-.5 .4 1.4 .4 .5 .4-1.1 .4 .2 .4 .5 .4 2.5 .3 .9 .4-2.2 .4 .2 .4 0 .4-.7 .4 .2 .4 2.5 .4 1 .4-1.7 .4 .8 .4-1.8 .4 .7 .3-1.5 .4 .9 .4 .2 .4 1.3 .4-.9 .4 .4 .4-2.2 .4 0 .4-1.6 .4-1.3 .4 2.4 .4-2 .4 .2 .3 .2 .4 0 .4 2.4 .4 1.1 .4-.4 .4 .6 .4 1.4 .4-1.8 .4 1.3 .4 1.5 .4 0 .4-.2 .3-1 .4-.7 .4-.3 .4 .5 .4 0 .4 1.7 .4-1.2 .4-.8 .4 1.9 .4-.2 .4-1.3 .4 1.7 .4-1.8 .3 .2 .4 .1 .4 .5 .4-.9 .4 1.9 .4-.3 .4-1.1 .4 .3 .4-.8 .4 .1 .4 0 .4-1.4 .3 1.2 .4-2.3 .4 1.4 .4-1.4 .4-.8 .4-2.3 .4-.4 .4-1.5 .4-.7 .4-1.2 .4-3.9 .4-3.6 .4-1.1 .3-5.4 .4-4.2 .4-5.9 .4-7.5 .4-12.1 .4-10.2 .4-10.8 .4-13.3 .4-9.4 .4-.7 .4 3.6 .4 8.6 .3 11.6 .4 11.6 .4 9.7 .4 8.8 .4 7.1 .4 8.3 .4 6.1 .4 5.8 .4 1.7 .4 1.5 .4 2.5 .4 3.8 .4 .2 .3 2.8 .4 .9 .4 1.4 .4-1.3 .4 2 .4-.1 .4 1.3 .4-1.6 .4 .3 .4 1.2 .4-.3 .4 .9 .3-.9 .4 .1 .4 1.4 .4-.2 .4 2.1 .4-.9 .4-.6 .4 0 .4 .9 .4-.6 .4 2 .4-1.6 .4 .6 .3 1.2 .4-1.3 .4-.8 .4 .5 .4 1.5 .4 .8 .4 .4 .4-.3 .4-2.2 .4 1.7 .4-1.7 .4-1.3 .3 1 .4-1.1 .4-.5 .4 .3 .4 2.9 .4-1 .4 1.5 .4 1.1 .4-1.9 .4-1.4 .4-.3 .4 1.3 .4 .9 .3-.8 .4 1.1 .4-1.8 .4-1.1 .4 .7 .4 1.3 .4 1.3 .4 1 .4 .4 .4 .4 .4-1 .4-1.1 .3-1.9 .4 .9 .4 1.6 .4 .3 .4-.8 .4 .1 .4 .5 .4 1 .4-.4 .4-.6 .4 .9 .4 .5 .4-3 .3 1.7 .4-1.4 .4-1.6 .4 .1 .4-.5 .4-.7 .4 2.4 .4-.3 .4-1 .4 1.5 .4-1 .4 0 .3 .1 .4-.2 .4 1.2 .4-1.4 .4 1.4 .4-.7 .4-.6 .4-1 .4 1.2 .4-2.2 .4-1.2 .4-2 .4-2.6 .3-3 .4-.8 .4-1.6 .4-3.9 .4-2.4 .4-.1 .2-2.2 .2 0 .4 2.8 .4 1.4 .4 2.5 .4 3.7 .4 2.2 .3 1.6 .4 1.2 .4 4.2 .4 1.9 .4-.7 .4-.6 .4 1.3 .4 .7 .4 1.9 .4-.9 .4-1.3 .4 1.9 .4-1.4 .3-.4 .4-.2 .4 2.1 .4 1.4 .4-1.3 .4 .2 .4 .4 .4-.7 .4 .9 .4-1.2 .4 .8 .4-1.5 .3-.9 .4-.3 .4-.1 .4 2.6 .4-1.1 .4 .8 .4-1.8 .4 2.1 .4 .6 .4 0 .4 1.1 .4-2.7 .4 1.2 .3-1.6 .4 2 .4-2.2 .4-.1 .4 .8 .4 .1 .4 1.2 .4-1.9 .4 1.9 .4-2.1 .4 2.2 .4 .5 .3-2.3 .4-1.1 .4-.3 .4-.2 .4 .1 .4 .2 .4 1.2 .4 .4 .4-.6 .4 2.2 .4-.2 .4-.4 .4 .9 .3-.3 .4 .7 .4 .2 .4-1.5 .4 1 .4-.4 .4-2.2 .4-.1 .4 1.2 .4 .6 .4 .3 .4 .4 .3 0 .4 .6 .4-1.9 .4 1.3 .4 .5 .4 .1 .4-2 .4 .2 .4 1 .4 .5 .4-1.9 .4-1.6 .4 .9 .3-1.1 .4 .9 .4-.9 .4-.4 .4 2.3 .4 .3 .4-1.8 .4 .8 .4-.5 .4 .3 .4 1.1 .4 1.1 .3-2.4 .4-1.3 .4 2.4 .4-1.4 .4 1.6 .4 .1 .4-.1 .4 .1 .4-.8 .4 1.1 .4 .9 .4-1.9 .4-1.1 .3 0 .4-.3 .4 .4 .4 1.4 .4-1.5 .4 1.1 .4-1.9 .4-1 .4 .3 .4-.6 .4-.4 .4-2.3 .3-3.6 .4-1.8 .4-5 .4-5.8 .4-4.5 .4-2.3 .4-5.9 .4-.3 .2 .1 .2 .3 .4 2 .4 2.3 .4 4.9 .4 6.5 .3 4.7 .4 2.4 .4 2.4 .4 1.8 .4 1.3 .4 1.1 .4 .3 .4 2.8 .4-1.6 .4-.2 .4 1.5 .4 1.5 .3 .2 .4-1.8 .4 .1 .4 1.6 .4 .1 .4-2.5 .4 .8 .4-.2 .4-3.9 .4-.5 .4-3.8 .4-3.6 .4-1.7 .3 .4 .4-.8 .2-1.8 .2 1.5 .4-.1 .4 2.9 .4 1.9 .4 2.5 .4 1.7 .4 2 .4 1.4 .4 2.1 .4 0 .3 1.3 .4-.3 .4-1.5 .4 1.1 .4 1.5 .4-.7 .4-.4 .4 .6 .4-1 .4-.6 .4 .7 .4-1 .4 .7 .3 .3 .4 .2 .4 .1 .4 .3 .4 1 .4 .8 .4-1.1 .4 .2 .4-1.2 .4-.9 .4 .5 .4-.4 .3-.1 .4 1.1 .4 .2 .4-1.2 .4 .8 .4 1.8 .4-1.7 .4 .8 .4-.9 .4 .8 .4 1.1 .4 .7 .4 0 .3-2 .4 .9 .4-2 .4 1.3 .4 .2 .4 1.1 .4-1.4 .4 1 .4-.9 .4-1.8 .4 1.9 .4-1.6 .3 .8 .4 .5 .4 .3 .4 0 .4 1 .4-.4 .4-2.3 .4 .5 .4 1.6 .4 .3 .4-1.1 .4-.2 .4 .6 .3 .4 .4-2.3 .4-.4 .4 .2 .4-1.2 .4 1.5 .4 .7 .4-.8 .4 .6 .4 1.6 .4-.9 .4-1.4 .3 .2 .4 .8 .4-1.3 .4 1 .4 .4 .4-1.9 .4 .7 .4-1.3 .4 1.2 .4-.5 .4-.7 .4 .7 .4 1.1 .3-1.5 .4 1.7 .4-.4 .4 .3 .4 .1 .4-.1 .4-1.4 .4-.9 .4 .3 .4 2.6 .4 0 .4-1.9 .3 .8 .4 .1 .4-.9 .4 1.1 .4 1.2 .4 .8 .4-1.1 .4 .5 .4 .3 .4-2 .4-.4 .4-1.3 .4 1.1 .3 .9 .4-.4 .4-1.7 .4 .4 .4-1.4 .4-1.8 .4-.4 .4-1.2 .4 1.4 .4-2.8 .4 1.1 .4-1 .3-2 .4 1.8 .4-.5 .4-.8 .4 1.7 .4 .6 .4 .6 .4 .2 .4-.1 .4 2.7 .4-1.1 .4-.5 .4 1.3 .3 1.5 .4-.3 .4 1.9 .4 .8 .4-.7 .4 .8 .4 .5 .4-2.3 .4-1 .4 1.7 .4-1.3 .4 1.2 .3-.2 .4-.8 .4-.6 .4-.5 .4-.1 .4-1.2 .4-2.7 .4-1.8 .4-1 .4 1.5 .4-1.5 .4-1.1 .4 .6 .3 .4 .4 2.5 .4 1.4 .4-1.6 .4 .9 .4 1.6 .4 0 .4 2.5 .4 1 .4-1.9 .4 0 .4 2.3 .3 1.3 .4-2 .4-.8 .4 1.5 .4-.4 .4-.8 .4 1.2 .4 .7 .4-1.9 .4 .6 .4 .6 .4-.5 .4-.4 .3 2 .4-1.8 .4-.9 .4 .9 .4-.9 .4-.1 .4 .7 .4 .8 .4 1.8 .4-1.4 .4-.8 .4 .8 .3 0 .4-1.1 .4-.6 .4 1.7 .4 .9 .4-1.2 .4-.6 .4-.6 .4 .6 .4 2.1 .4 .5 .4 .6 .4 0 .3-1 .4-1.9 .4-.7 .4-.5 .4 2.7 .4-.3 .4 1.1 .4-1.1 .4-1.1 .4 1.1 .4-1 .4 1.8 .3-.2 .4-.6 .4-.4 .4 .9 .4-.7 .4-.5 .4 1.7 .4-.1 .4-1.7 .4 1.4 .4-.4 .4-1 .4-.5 .3 1.6 .4-1.3 .4 .8 .4-1.3 .4 0 .4 .4 .4-1.2 .4-1.6 .4 .2 .4 .3 .4-2.6 .4-.8 .3-2.2 .4-1.5 .4-5.2 .4-5.5 .4-7 .4-5.8 .4-9.3 .4-10.7 .4-11.9 .4-9.7 .4-9.4 .4-4.6 .4 4.1 .3 6.7 .4 10.3 .4 11.3 .4 13.2 .4 11.4 .4 6.5 .4 6.2 .4 6.9 .4 4 .4 3.8 .4 0 .4 1.9 .3-.8 .4 1.2 .4 1 .4 0 .4 .4 .4-.7 .4 2.6 .4-1.2 .4 .6 .4-.5 .4 .8 .4 0 .4 1.6 .3 .3 .4 .9 .4-.6 .4-2.2 .4 1.6 .4-1.1 .4 1.4 .4 .2 .4-1.4 .4 1.8 .4-.1 .4-.7 .3-1.2 .4-.8 .4-.9 .4-.7 .4 .3 .4 0 .4 2.1 .4-1.2 .4 1.3 .4-1.4 .4-2.4 .4-2.3 .4 .9 .3-3.8 .4-2.3 .4-3.1 .4-5.3 .4-6.3 .4-4.6 .4-4.8 .4-3.5 .4-2.2 .4 .7 .4 4.2 .4 4.7 .3 7 .4 5.5 .4 4.1 .4 3.9 .4 3.8 .4 3 .4 2.5 .4 .2 .4 .2 .4 0 .4 .8 .4-.2 .4 2.3 .3 .1 .4-.4 .4 .6 .4 .5 .4-1.3 .4 .8 .4 .6 .4-1.1 .4 .3 .4 .5 .4-1.9 .4 1.4 .3-.5 .4-.3 .4 1.3 .4-1.3 .4-1.3 .4 1.1 .4-.4 .4 2.1 .4-1.1 .4 1.3 .4-.8 .4 1 .4 .5 .3 .2 .4-.1 .4 .6 .4 .3 .4-.8 .4 .5 .4-2 .4-1.5 .4 1.8 .4-.1 .4 .3 .4-2 .3-.4 .4 1.8 .4-1.2 .4 1.8 .4 1.2 .4-.1 .4-2.1 .4 .8 .4 1.2 .4-2.3 .4 .1 .4-1.1 .4 2.3 .3-1.4 .4 1.6 .4 .6 .4 .4 .4 .7 .4 0 .4-2.6 .4 1.1 .4-1 .4 1.7 .4-1.4 .4-.9 .3 .4 .4-.2 .4 .6 .4-.4 .4-.3 .4 .3 .4 1.4 .4-1.2 .4 .4 .4-.2 .4-1.6 .4-1.6 .4 .2 .3-.5 .4-1.1 .4-.3 .4-.8 .4-.7 .4-.4 .4 1.1 .4-.4 .4 .7 .4-.1 .4-.6 .4-.8 .3 1.6 .4 1 .4-1.2 .4-.1 .4 3.2 .4-.5 .4-.9 .4 2.6 .4 1.9 .4 0 .4 .5 .4-1.3 .4-.4 .3 .5 .4-1.3 .4 .1 .4 1.2 .4-.3 .4 .8 .4 1.4 .4 .8 .4 .3 .4-2 .4-.3 .4-.9 .3-1.2 .4-1.2 .4 .5 .4 1.5 .4-.9 .4-.2 .4-1.4 .4-.5 .4 1.6 .4 .2 .4 .2 .4-1.9 .4-2.5 .3-.8 .4-2.3 .4-1.9 .4-2 .4-1 .4-2 .4-4.4 .4-2.4 .4-3.5 .4-6.9 .4-6.7 .4-5.1 .3-7.2 .4-4.3 .4-8.4 .4-5.7 .4-7.5 .4-4 .4-4.2 .4-2.5 .2 .2 .2-.4 .4 2.6 .4 4.3 .4 2.9 .4 4.9 .3 5.9 .4 7.3 .4 3.7 .4 4.7 .4 4.1 .4 6 .4 2 .4 3.1 .4 1.8 .4 .5 .4-2.3 .4-2.8 .3-3.5 .4-3.6 .4-3.1 .4-6.5 .4-4.1 .4-5.5 .4-8 .4-6.2 .4-3.5 .4-4.4 .4-3 .2 .3 .2 .6 .4 1.2 .3 3.7 .4 4.6 .4 5.9 .4 4.6 .4 5.2 .4 2 .4 4.6 .4 2.4 .4 .6 .4-1 .4 1.6 .4-3.6 .3-3.9 .4-3.7 .4-4.3 .4-2.4 .4-2.6 .4-2.3 .4 .7 .4 3.4 .4 3.5 .4 6.6 .4 6.3 .4 5.2 .4 7 .3 5.7 .4 5.4 .4 5.1 .4 6.8 .4 3.3 .4 5.6 .4 1.1 .4 3.6 .4 1.2 .4 .8 .4 2.5 .4 2 .3 .2 .4 .3 .4-.2 .4 1.9 .4 .3 .4 2.1 .4 .5 .4-.1 .4 .8 .4 .8 .4-1.1 .4-.4 .4-1.6 .3 .5 .4-.3 .4-1.2 .4 2.6 .4-1.9 .4-.5 .4 0 .4 2 .4-1.1 .4 1.7 .4-.4 .4-1 .3-.8 .4 0 .4 .6 .4 0 .4-2.2 .4-.1 .4-1.8 .4-1 .4 1.1 .4-1.3 .4-.6 .4 1.6 .4-2.5 .3-.7 .4-.7 .4 .2 .4 .4 .4-1.5 .4-1 .4 1.3 .4-.2 .4 0 .4 1.3 .4-1.6 .4 .1 .3 .8 .4-.2 .4-.8 .4 .9 .4 1 .4 2 .4 2.2 .4-.4 .4 .1 .4 .8 .4 1.9 .4 .7 .4-1.6 .3 1.7 .4 0 .4-1 .4 0 .4-.4 .4 .7 .4 .5 .4 1.6 .4-.8 .4 1.2 .4 .5 .4 1.5 .3-.3 .4-1 .4 .3 .4 .4 .4-1.8 .4 .5 .4 1 .4-1.6 .4-.5 .4-.3 .4 2.2 .4-1.4 .4 0 .3 2.2 .4 .9 .4-.6 .4-.7 .4-1.3 .4 .6 .4-1.7 .4 2 .4 .1 .4-.2 .4 .9 .4-.8 .3-.1 .4-1.8 .4 .1 .4 0 .4 .4 .4 .5 .4-2.5 .4-2 .4 .7 .4 .4 .4-2.7 .4-.6 .4 .6 .3 .9 .4-2.3 .4-1.3 .4-1 .4-.5 .4 .6 .4 1 .4-.9 .4-.8 .4-.1 .4 .2 .4-.7 .3 .1 .4 .7 .4 2.3 .4-.3 .4 2.6 .4-1.4 .4-.6 .4 .4 .4 2.6 .4-.8 .4 .3 .4 2.4 .4-.7 .3 1.4 .4-.4 .4 1.8 .4-.5 .4 1.2 .4-.2 .4-1.4 .4 .1 .4 .5 .4 .6 .4 1.8 .4-2.3 .3-.9 .4 1.1 .4-.4 .4-.1 .4 .5 .4-.6 .4 2 .4 1 .4 1 .4 0 .4-.2 .4-2.3 .4 .8 .3-.7 .4-.1 .4 1.1 .4-.7 .4 .5 .4-1.1 .4-1.3 .4-.4 .4 .2 .4 .6 .4-.4 .4 1.3 .3 .2 .4 .9 .4-1.1 .4-.2 .4 .1 .4 1.8 .4-.9 .4-1.2 .4 1.4 .4 .1 .4-1.5 .4 1.7 .4-1.4 .3 .8 .4-1.6 .4 .6 .4-.7 .4 .1 .4-.2 .4-.9 .4 1.3 .4 1.6 .4 1.2 .4-1.5 .4-1.9 .3 1.1 .4 .8 .4 .8 .4 0 .4-.9 .4-2.1 .4-1.2 .4 .6 .4-2.2 .4-1.3 .4-1.7 .4 .8 .4-2.6 .3-4.1 .4-3.8 .4-6.8 .4-9.2 .4-11.2 .4-16.3 .4-20.9 .4-24.3 .4-29.7 .4-27.5 .4-19.5 .4-7.6 .3 7.2 .4 20.7 .4 26.2 .4 29.5 .4 24 .4 19.8 .4 18.6 .4 11.8 .4 9.8 .4 5.9 .4 5.7 .4 1 .4 1 .3 2.7 .4 1.4 .4 1.2 .4 2.1 .4 .4 .4-1.4 .4-.5 .4 1.4 .4 .1 .4 .5 .4-.8 .4 2.2 .3-.7 .4-.5 .4-.2 .4-1.3 .4 2.4 .4-.8 .4 1 .4-.1 .4-.4 .4 1.3 .4-1.2 .4-.4 .4-1.3 .3 1 .4 1.2 .4 .4 .4-.1 .4-.9 .4-.6 .4 1.2 .4 1.2 .4-1.8 .4-1 .4-1 .4 .6 .3 .8 .4 .4 .4-.5 .4-1.2 .4 .5 .4 2 .4 .9 .4 0 .4 0 .4 .5 .4-.4 .4-1.3 .4-.6 .3 1.3 .4 .5 .4-2.7 .4 0 .4-.1 .4 1.7 .4-2.1 .4-.4 .4 1.9 .4-.7 .4 .7 .4 .2 .3-1.2 .4 .3 .4-1 .4-.3 .4 2.3 .4 1.1 .4-.1 .4 0 .4 .4 .4-.8 .4 1 .4-.5 .4 0 .3 .4 .4-.1 .4-2.4 .4-1.3 .4-.3 .4 1.7 .4 .7 .4-1.5 .4-.5 .4 2.4 .4 .2 .4-1.4 .3 1.4 .4-1.9 .4 1.2 .4-.1 .4-.7 .4-.7 .4-.3 .4 1.4 .4 .1 .4-1.8 .4 0 .4 1.4 .4-1.5 .3 .5 .4 .8 .4-.5 .4 .1 .4 1.5 .4-1.1 .4 .1 .4 .5 .4-.8 .4-1.6 .4-1.1 .4 .5 .3 .4 .4 0 .4 1.4 .4-1.7 .4-1.5 .4-.3 .4-1 .4 1.1 .4-1.2 .4-1.1 .4-.3 .4 1.1 .4 .5 .3 .4 .4-2.3 .4-.7 .4-.3 .4-1.2 .4-1.2 .4-1.2 .4-2.2 .4-1.9 .4-1.8 .4-3.4 .4-2.3 .3-1.4 .4-4 .4-2 .4 .3 .4-1 .2-1.1 .2 1.6 .4 1.1 .4 .5 .4 3.1 .4 2.3 .4-.1 .4 3.2 .4 3.1 .3 .2 .4 2.5 .4 .6 .4 .4 .4 2.1 .4 2.9 .4 1.9 .4-.7 .4 2.5 .4-1.2 .4 .7 .4 1.7 .3 2 .4-.5 .4-1.1 .4 .8 .4 2.1 .4 1.1 .4-.5 .4-1.7 .4 .2 .4-1 .4 .2 .4 .4 .4-.6 .3 1.3 .4 1 .4 .3 .4 1 .4 .5 .4-.8 .4-1.2 .4 1.4 .4-.1 .4-1.2 .4 0 .4-1.6 .3-.5 .4-1.6 .4 .9 .4 .6 .4-1.9 .4 .1 .4-2.3 .4 1.6 .4-.3 .4 .6 .4-.5 .4 .3 .4-.6 .3 1 .4-1.8 .4 2.1 .4 .2 .4 .3 .4 .8 .4 .6 .4 .1 .4-.2 .4 .5 .4-.3 .4 .7 .3 2.1 .4 .1 .4-1 .4 .6 .4-.5 .4-.4 .4 1.2 .4 .5 .4 .8 .4-.3 .4 .1 .4-.5 .4 .9 .3-.5 .4-.8 .4 .4 .4 1.4 .4-.6 .4-1.7 .4 2 .4-1.8 .4-.5 .4 .8 .4 .3 .4 1.7 .3 .8 .4-1.5 .4 1.3 .4-1.2 .4 .6 .4-2.2 .4 1.6 .4 .8 .4-1 .4 .2 .4 0 .4 1 .4 .5 .3-2.4 .4-.9 .4 1.7 .4 .1 .4-1.7 .4 .6 .4-1 .4 .4 .4 1 .4 1.2 .4 1 .4 .5 .3-2.1 .4-1 .4-1.6 .4 2.4 .4 .4 .4 .6 .4-1.8 .4 .5 .4 .2 .4 0 .4-1.2 .4 .2 .4-.9 .3 1.3 .4-.3 .4 1 .4 0 .4 .2 .4-2.1 .4 2.1 .4-1.4 .4 1.7 .4-.8 .4 .8 .4 .1 .3 .5 .4 0 .4-.3 .4-1.9 .4 .9 .4-.2 .4-2.3 .4 0 .4-.8 .4 1 .4 .3 .4 1.1 .4 .4 .3-.8 .4-1.1 .4-.8 .4-.2 .4-1.7 .4 .1 .4-1.1 .4 .9 .4 .6 .4 .8 .4-.4 .4-1.4 .3-2.1 .4 .8 .4 1.4 .4-.6 .4-.9 .4 1 .4-.2 .4 1.9 .4-.4 .4 1.4 .4-1.3 .4 1.2 .4-1.4 .3 2.2 .4-1.4 .4 .2 .4 1.8 .4 .6 .4-1.5 .4 .5 .4 1 .4-2.3 .4 1 .4-.4 .4 1.7 .3-.9 .4-.4 .4 0 .4-.5 .4 1 .4-1.7 .4 1.7 .4-1 .4-1.3 .4 1.6 .4-1.7 .4-1.3 .4 1.5 .3 .7 .4 .2 .4-.9 .4-.4 .4-.4 .4 1.2 .4-.7 .4 .7 .4-.1 .4-1.1 .4-1.5 .4-1.7 .3 .2 .4-1.4 .4-1.3 .4 1.8 .4 .1 .4 .7 .4-2.9 .4 .5 .4-.4 .4-.8 .4-1.2 .4 0 .4-1.9 .3 .5 .4 .8 .4 .9 .2-.2 .2 .1 .4-.1 .4-1.9 .4 1.4 .4 .1 .4-.8 .4 2.3 .4 1.3 .4 .4 .3-.1 .4-.8 .4 1 .4-.8 .4 .2 .4-.1 .4 1.4 .4 1.5 .4 .6 .4 .4 .4-1.2 .4 .3 .4-.3 .3 2.5 .4-1.4 .4 1.8 .4-.1 .4 1.7 .4-.2 .4-1.5 .4-1 .4 2.6 .4 .8 .4-1.1 .4 1.5 .3-1.9 .4-.4 .4 1.7 .4 1 .4-1.3 .4 1.4 .4 .2 .4 .7 .4-2.4 .4 .3 .4-1.6 .4-.2 .4 0 .3 2 .4-.9 .4-.9 .4 1.4 .4-1.6 .4 .1 .4 .6 .4 .7 .4 0 .4 1.8 .4-.1 .4-2.2 .3-.5 .4 .3 .4-.1 .4 1.9 .4-.4 .4 1.4 .4-.3 .4-.7 .4-.3 .4-.4 .4-.7 .4 1.8 .4-1.9 .3 1.4 .4 0 .4 .8 .4-1.3 .4-1.4 .4-.1 .4-.7 .4 1.7 .4-.3 .4-.1 .4-.2 .4 2.3 .3 .4 .4-.1 .4-.7 .4-1.8 .4-.8 .4 1.1 .4 1.8 .4 1.3 .4 .1 .4 .6 .4-1.8 .4-.7 .4-1.2 .3-1 .4 1.7 .4 .1 .4 1 .4-.9 .4 .3 .4 .1 .4 0 .4-.2 .4 1.3 .4 .5 .4-.3 .3 .4 .4-1.6 .4-.2 .4 .6 .4-.1 .4 1.2 .4-1.9 .4-1 .4 .5 .4-.9 .4-.1 .4 1 .4 .1 .3 1.8 .4-.4 .4 1.4 .4 .3 .4-1.1 .4-1.4 .4-.5 .4-1.2 .4-.5 .4 2.4 .4-.2 .4 .1 .3 .1 .4 .3 .4-.1 .4-2.1 .4-.7 .4 .2 .4-.4 .4 .9 .4-1.3 .4 .5 .4-.7 .4-1 .4-2.2 .3-1.6 .4-4.2 .4-1 .4-4.3 .4-3 .4-2.5 .4 .8 .2-.9 .2 0 .4 .9 .4 1.7 .4 3 .4 1.4 .3 4.2 .4 .9 .4 3.3 .4 1.5 .4 0 .4 .5 .4 3.6 .4 1.3 .4 .8 .4 1.1 .4 .2 .4 .9 .4-1 .3 .8 .4-.1 .4-1.4 .4-1 .4 1.2 .4 .8 .4 .8 .4 .6 .4 .5 .4-1.8 .4-.3 .4 1 .3-.8 .4-1 .4 1.3 .4-.6 .4 1.2 .4 .4 .4-.6 .4 .2 .4-.7 .4 .4 .4-1.6 .4-.8 .4 2.6 .3-1.2 .4 2.3 .4 1 .4-1.4 .4-1.1 .4-.9 .4 1.8 .4 1.5 .4-1.1 .4 .2 .4-1 .4-.2 .3 .7 .4-.8 .4-.3 .4 .3 .4-.8 .4 1.1 .4 1.2 .4 .6 .4-.2 .4 .9 .4 .5 .4-2.7 .4 .3 .3-1.4 .4 .2 .4 .6 .4-.5 .4 .6 .4 .2 .4 1.6 .4-.6 .4-1.5 .4 .4 .4 1.3 .4-1 .3 1.3 .4-1.5 .4 1.1 .4 0 .4 .5 .4-1.5 .4-.3 .4-.9 .4 1.8 .4 .9 .4-1.9 .4 .7 .4 .9 .3 0 .4 .2 .4-.4 .4-2.5 .4 .6 .4-.7 .4 1.4 .4-1.5 .4-.6 .4 .2 .4 .1 .4-.4 .3 .6 .4-2.3 .4 .8 .4-1.6 .4-.3 .4 .1 .4-1.3 .4-.7 .4 2.2 .4 .9 .4 .7 .4-1.4 .4-.8 .3 .7 .2-1.4 .2 1.7 .4-.6 .4-1.6 .4 1.6 .4-1 .4 .5 .4 1.3 .4 0 .4 .5 .4 .8 .4-1.2 .3 1.4 .4-1 .4 .5 .4 1.2 .4-.5 .4 .8 .4-1.7 .4 1.7 .4-.3 .4 1.4 .4-1.6 .4 .8 .4 1.8 .3 .7 .4-1.3 .4 1.1 .4-2.5 .4 2.1 .4-1.3 .4 .6 .4-1.1 .4 .7 .4 1 .4-1.5 .4-.3 .3 2.1 .4-1.3 .4-1.5 .4 2.5 .4 .1 .4-.1 .4 1.1 .4-1.7 .4-.4 .4-.9 .4-1 .4 2.2 .4-1.5 .3 2.1 .4-1 .4 .7 .4-1.8 .4-.3 .4 1.3 .4-.2 .4-.7 .4-.5 .4-.2 .4 .5 .4 2.3 .3-1.1 .4 1.6 .4 0 .4-1.5 .4-.6 .4 .7 .4 1.3 .4 .6 .4 .2 .4 0 .4-1.4 .4-.4 .4-.5 .3 .7 .4-.6 .4-.7 .4-.3 .4-1.4 .4 .6 .4-1.3 .4 .4 .4-.7 .4 1.2 .4-.2 .4 2 .3 1 .4-2 .4-1.3 .4-.5 .4 1.1 .4 0 .4-.4 .4 .4 .4-.9 .4 0 .4-.6 .4 .7 .4 .3 .3-2.6 .4 .9 .4-2.3 .4-.9 .4-1.4 .4 .1 .4-1.6 .4-.2 .4-1.3 .4-3.9 .4-2.2 .4-1.7 .3-1.3 .4-1.2 .4-2 .4-3 .4-.9 .4-1.5 .4-.8 .4-1.4 .4-2.3 .4 2.2 .4-1.2 .4 1.2 .4 2.3 .3 .5 .4 1.5 .4 1.8 .4 4.9 .4 3 .4 2.7 .4 .5 .4 .3 .4 .6 .4 3.6 .4 2.2 .4 1.3 .3 .4 .4-1.5 .4 1.6 .4 .3 .4 1.8 .4-1.7 .4 1.3 .4 .5 .4-.8 .4 .3 .4-.9 .4 .1 .4 2.9 .3-1.5 .4 2.1 .4-.8 .4 1.6 .4 .3 .4-1.7 .4 .2 .4-1.3 .4 1.7 .4-.6 .4-.5 .4 1.6 .3-1.4 .4-.4 .4 .2 .4-.7 .4 1.5 .4 .3 .4-1.1 .4 .5 .4 1.5 .4 .5 .4-1.1 .4 .1 .4-.2 .3 1.6 .4-2.3 .4 1.2 .4-1.2 .4 .8 .4 .5 .4-1.2 .4-.9 .4 1.6 .4-.6 .4-.9 .4 2 .3 .3 .4-.2 .4-1.7 .4 1.9 .4 .7 .4-.6 .4-1.4 .4 1.5 .4-.8 .4 .2 .4-1.1 .4 2 .4 .9 .3-2.4 .4-1 .4-.3 .4 .3 .4 1.3 .4-1 .4 .1 .4 1.2 .4 1.3 .4-.5 .4-.6 .4-.1 .3 .4 .4-.4 .4-.5 .4 1.5 .4-2.5 .4 .3 .4-.4 .4 1.8 .4 .3 .4 .3 .4-.7 .4-.7 .4-.9 .3 1.2 .4 .7 .4 .4 .4-1.1 .4-1.9 .4 .3 .4-.8 .4 1.6 .4 0 .4 1.7 .4-1.2 .4-1.2 .3 .3 .4 1.7 .4 .2 .4-.4 .4 .8 .4-2.2 .4 1.1 .4 .1 .4 .5 .4 .6 .4-2.4 .4-.4 .4 1.6 .3 .6 .4-1.9 .4-.2 .4 1.5 .4-1.2 .4-.1 .4 .2 .4-1.2 .4-.4 .4 2.1 .4-1.7 .4 .4 .3 1.5 .4 .6 .4 .4 .4-1.3 .4-1.5 .4 .6 .4 1.1 .4 .6 .4-2.7 .4 .4 .4 1 .4-1.8 .4-.3 .3 1.4 .4-1.2 .4 .9 .4-.4 .4-2 .4 .1 .4 .2 .4-2.9 .4-1 .4-.3 .4-1.9 .4-2.6 .3 .7 .4-2.9 .4-1.3 .4-3.5 .4-1.4 .4-4.2 .4-5.6 .4-3.4 .4-6.7 .4-4.9 .4-8.4 .4-6.9 .4-5.8 .3-2.5 .4-2.3 .4-1.7 .4-.2 .4 1.8 .4 4.6 .4 7.3 .4 8 .4 6.7 .4 6.5 .4 3.7 .4 5.9 .3 4.3 .4 4.7 .4 1.2 .4 1.3 .4 4.7 .4 1.4 .4 1.2 .4-.2 .4 1 .4 2.4 .4 1.5 .4-.2 .4 .6 .3-.7 .4 .5 .4 2.9 .4 1.8 .4 1 .4-.7 .4 .4 .4-2.2 .4 .5 .4 2 .4 1 .4-.9 .3-1 .4 1.5 .4 .7 .4-1.6 .4 .6 .4-1.4 .4-.5 .4 .6 .4-.8 .4-.1 .4 1.3 .4 .5 .4 1.7 .3 .6 .4-2.2 .4 1.7 .4-2 .4 1 .4 1.3 .4 .1 .4 .9 .4-1.3 .4-.5 .4 1.2 .4 .3 .3-.4 .4-1.9 .4 .2 .4 .4 .4-1.7 .4 1.1 .4-1 .4 .2 .4 .4 .4 .2 .4 1.1 .4-.3 .4-.6 .3 .7 .4-2.5 .4-.9 .4-.8 .4 0 .4 0 .4 1.5 .4-2.2 .4-1.1 .4 1.7 .4-2.1 .4-.4 .3-.3 .4-.1 .4 .8 .4 .7 .4 1.4 .4-.2 .4-.8 .4 2.6 .4 1.1 .4 .2 .4-.9 .4-1.4 .4 .4 .3 2.1 .4-.8 .4 2.3 .4-1.7 .4 .2 .4 1.9 .4-.9 .4-.3 .4 1.9 .4-1.3 .4 1.8 .4 .7 .3-1.1 .4 .5 .4 1.2 .4-2.6 .4 1.1 .4 1 .4-.2 .4 .6 .4-2.2 .4-.1 .4 1.4 .4 .4 .4 1.3 .3 0 .4-2.3 .4 0 .4-.6 .4 .8 .4 .4 .4-1.3 .4 .4 .4 .6 .4-1.4 .4 2.1 .4-.9 .3 .4 .4 .6 .4-1.1 .4 1.6 .4-.3 .4-1.3 .4-.5 .4-.5 .4-.2 .4 2.1 .4 0 .4-.1 .4 .5 .3 .3 .4-.5 .4 1.6 .4-.6 .4 .6 .4-.3 .4-.1 .4-.9 .4-.9 .4-.8 .4 .8 .4 .5 .3 1.1 .4-1.8 .4 1 .4 1.5 .4-1.4 .4 .5 .4-1.1 .4 .3 .4-.2 .4 1.3 .4-.3 .4-.2 .4 0 .3 .2 .4-.4 .4 .7 .4 0 .4-1.9 .4 .3 .4-1 .4 2.3 .4-1.3 .4-1.3 .4-.2 .4 2.5 .3 .6 .4 1.1 .4-2.7 .4 .8 .4 0 .4-.7 .4 1.8 .4-1.1 .4-1.3 .4 1.7 .4 .3 .4 .7 .4-.8 .3 1 .4 .8 .4-.8 .4-2 .4 1.3 .4-2 .4 1.4 .4-1.9 .4 .8 .4 .4 .4 1.2 .4-1.8 .3 1.1 .4-1.8 .4-.5 .4 1.5 .4-.1 .4 .3 .4-.5 .4 1 .4 .8 .4-.2 .4 .4 .4 1 .4-.2 .3-1.2 .4-2 .4 1.1 .4 1.3 .4-1.5 .4 1.1 .4 0 .4-1.1 .4-1.3 .4 .5 .4 .9 .4-1 .3-1.1 .4 .9 .4 .6 .4 .4 .4-.7 .4-1.4 .4-.2 .4 .4 .4 .5 .4-.7 .4 1.4 .4-1.6 .4-.2 .3-.5 .4 2.3 .4-.3 .4 1.4 .4-1.2 .4-.1 .4-.8 .4-.4 .4-1 .4 2.1 .4 1.6 .4 .3 .3-.1 .4-1.3 .4 0 .4 .4 .4 .8 .4-.9 .4 0 .4-2 .4 1.8 .4-.2 .4 .1 .4-2.5 .4 .5 .3-.3 .4-1.2 .4-.2 .4 .8 .4-.2 .4-.8 .4-.8 .4 1.8 .4 1.4 .4-.6 .4-1 .4 1.2 .3-.3 .4-1 .4-1.7 .4-.7 .4-.5 .4 .2 .4 .1 .4 2.1 .4-1.6 .4 1.3 .4 .1 .4 1.2 .4-.5 .3 .3 .4-.1 .4-1.9 .4-.9 .4-.3 .4 .1 .4 .8 .4 1.3 .4-.2 .4 1 .4 .6 .4 1.1 .3-1.1 .4-1.1 .4 .5 .4-.6 .4-.8 .4-.1 .4 .2 .4 0 .4 2.1 .4-.2 .4-1.4 .4-.4 .4-.7 .3 2.2 .4-.7 .4 .7 .4-1.1 .4 0 .4-.5 .4 2.7 .4-1.3 .4 2.3 .4 .7 .4-.1 .4-2.4 .3 2 .4 .2 .4 .5 .4 .1 .4 0 .4-1.8 .4 .2 .4-.9 .4 0 .4-.9 .4 1.1 .4 1.7 .4-.1 .3-.3 .4 .5 .4 1.1 .4-.2 .4 .3 .4 .6 .4 .1 .4-2.3 .4 .3 .4-2 .4 .8 .4 .2 .3 .1 .4-.8 .4 1.6 .4-1.1 .4-.5 .4 .5 .4-.6 .4 .8 .4-1.6 .4 1.5 .4 .1 .4-.6 .4 1.4 .3 .5 .4-.2 .4 .7 .4-1.4 .4-.4 .4-.4 .4-.3 .4-.6 .4-.8 .4 1.3 .4 1.4 .4 1.3 .3-.3 .4 .4 .4-.4 .4-.1 .4-2 .4-.3 .4 1 .4-.4 .4 .1 .4 1.4 .4-.6 .4-1.7 .4-.3 .3 1.9 .4-1.7 .4 .1 .4-.6 .4-.9 .4 1.8 .4-1.4 .4 2.3 .4 .6 .4-1.4 .4 1.5 .4-1 .3 1.1 .4-.5 .4 .2 .4 .3 .4-.7 .4 1.4 .4 .7 .4 0 .4-1.5 .4 1 .4 .4 .4-2.8 .4 1.2 .3-1.2 .4 1.1 .4-.9 .4-.4 .4 .5 .4-1.6 .4 1.2 .4 .2 .4 1 .4-1.5 .4 1.2 .4 .6 .3 1.1 .4-2.2 .4-.7 .4 2 .4-1.1 .4-.8 .4 .5 .4-1 .4 2.2 .4-.5 .4-1.4 .4 .8 .4 1.3 .3 .4 .4-.1 .4-1.7 .4 1.1 .4-1.3 .4 .8 .4 .8 .4 .1 .4-1.2 .4 1.4 .4-.3 .4 .5 .3-1.7 .4 .9 .4-2.3 .4 .2 .4-1.6 .4 2.5 .4-1.4 .4 1.3 .4-.6 .4-.7 .4 1.2 .4-.8 .4 1.2 .3-.7 .4 .1 .4-.9 .4 1.1 .4-1.6 .4 1.6 .4-1.5 .4-.5 .4 1 .4-1.8 .4-.1 .4-.4 .3-1 .4 2 .4-1.3 .4 1.7 .4 1.4 .4-.2 .4 .3 .4-1.2 .4-.6 .4 1.6 .4 1 .4 .8 .4 .1 .3-.3 .4-.2 .4 1 .4-.4 .4-1.5 .4 .5 .4 .9 .4-.9 .4 1.1 .4-1.6 .4 1.7 .4 .5 .3 1 .4-.2 .4-.3 .4 .5 .4-1 .4 .9 .4-1.5 .4-1.1 .4 2.2 .4 .8 .4-2.2 .4-.1 .4-.8 .3 .3 .4 .9 .4 .8 .4-.2 .4-.5 .4 1.6 .4-.7 .4 .6 .4-.1 .4-.4 .4-1.3 .4-.8 .3 2 .4 .7 .4-1.9 .4 .8 .4 .6 .4-.7 .4-.3 .4 1.1 .4 .1 .4-.8 .4-1 .4-.4 .4 2.7 .3-.1 .4 .3 .4-1.4 .4 .2 .4-.1 .4-.5 .4-.7 .4 1.5 .4 1.9 .4-2.4 .4 1.7 .4 .6 .3 .5 .4 .3 .4 .7 .4 0 .4-2.6 .4 1.4 .4 .5 .4-.4 .4 .9 .4-2.1 .4 .1 .4-1.1 .4-.9 .3 1.2 .4 2 .4 .2 .4-1.8 .4 1 .4-1.3 .4 2 .4-.3 .4 .3 .4-1.8 .4 1.4 .4 1.1 .3-.9 .4-1.2 .4-.4 .4 1 .4 .8 .4-.2 .4-.5 .4-.3 .4-1.2 .4-.8 .4-.5 .4 2.7 .4 .6 .3-.9 .4 1.1 .4 .6 .4 .3 .4-.7 .4 .7 .4 .3 .4-.7 .4-2.8 .4-1.8 .4 .1 .4 .1 .3-1.3 .4 1.6 .4-.5 .4-1.1 .4-2 .4 .2 .4 1.2 .4-1.6 .2-1.1 .2 2.4 .4 1.6 .4-.9 .4 .4 .4 .8 .3 .2 .4-.6 .4 1.8 .4 1.9 .4-.6 .4-.2 .4-1.5 .4 .3 .4-.5 .4 1.2 .4 .2 .4 2.2 .3-1.4 .4 2 .4-1.6 .4-1.3 .4 1 .4 1.2 .4 1.2 .4-1.4 .4 1 .4 .1 .4 .9 .4-2.3 .4 .8 .3 .9 .4-.3 .4-1 .4-1.5 .4-.6 .4 2.8 .4-1.8 .4-.1 .4 1 .4-.2 .4 1 .4 .3 .3-.5 .4 .8 .4 1.2 .4-1.2 .4-.5 .4-.6 .4 .9 .4-1 .4-1.1 .4 2.1 .4 1.1 .4 .3 .4-2.4 .3-.8 .4 1 .4-.4 .4 .6 .4 1.5 .4 .7 .4-.5 .4 .1 .4-1.9 .4 .6 .4-.4 .4 .5 .3 .2 .4 .8 .4-1 .4 .1 .4-1 .4 1.1 .4 .4 .4 .1 .4-.9 .4 1.5 .4-1.1 .4-.2 .4 .9 .3-1.1 .4-1 .4 1.9 .4 .8 .4-.8 .4-.3 .4-.7 .4-1.1 .4 .9 .4 1.9 .4-.8 .4-1.6 .3-.1 .4-.9 .4 .7 .4 2.1 .4-1.2 .4 1.1 .4 1 .4-.2 .4-.4 .4-1.5 .4 1.8 .4-.1 .4-1.9 .3 .4 .4 1.8 .4-1.5 .4 .8 .4-.5 .4 .4 .4 .1 .4 1.2 .4-1.7 .4 .1 .4-1.3 .4-.9 .3 1.2 .4 .2 .4-1.4 .4 1.8 .4 .5 .4-.1 .4-.3 .4 .4 .4 .3 .4 .5 .4-1.3 .4-.1 .4 1.4 .3-.2 .4 .5 .4-1.9 .4 .6 .4 .5 .4-.2 .4-1.1 .4 1.4 .4-1 .4-.5 .4-.9 .4 1.8 .3-1.4 .4-1.3 .4 .1 .4-.7 .4 1.1 .4 .2 .4-.1 .4 1.5 .4-1.8 .4 2.1 .4-1.4 .4 1.9 .4-.5 .3-1.3 .4-.2 .4 .4 .4-1.2 .4-.3 .4 1.7 .4 .8 .4-.2 .4-.8 .4-1.4 .4 2.1 .4 1.1 .3-.2 .4-.3 .4-.3 .4 .4 .4-2.3 .4-.9 .4 2.3 .4 1 .4-.1 .4-.5 .4 1.1 .4-1.7 .4 1 .3 .6 .4-2.5 .4-.8 .4-.3 .4-.4 .4 1.8 .4-1.6 .4 .9 .4-1.2 .4-.7 .4-.7 .4-.1 .3-.4 .4-.4 .4-1.7 .4-2.6 .4-1 .4-2.1 .4-2.1 .4-1.7 .4-1.3 .4-.5 .4 0 .4-.6 .4 2.6 .3 1.5 .4 .3 .4 2.3 .4 2.4 .4 2.7 .4 2.4 .4 .2 .4-.8 .4 0 .4 .5 .4 2.1 .4-.3 .3 .8 .4-1.5 .4-1 .4 2.5 .4 1.6 .4 .7 .4-1.7 .4 .9 .4 .2 .4-1.8 .4-.9 .4-.3 .4 1.7 .3-1.5 .4 1.9 .4 .6 .4 0 .4 .3 .4-.2 .4-2.1 .4-1.1 .4 .2 .4 .1 .4 0 .4-.5 .3 1.9 .4 .1 .4-.1 .4 .3 .4-1.3 .4-.2 .4-.1 .4 .8 .4 .1 .4-1.2 .4-.2 .4 1.9 .4 .1 .3 1.4 .4-.8 .4-1.7 .4 1 .4 1 .4-2.2 .4-.9 .4 2.3 .4 1 .4 .3 .4 .5 .4 .2 .3-2.2 .4-.6 .4 .4 .4 .1 .4-1.5 .4 1.3 .4 0"/>
</g>
<rect x="137" y="27" width="1763" height="1183" fill="none" stroke="#000" stroke-width="10"/>
<path d="M235.0 1205V1198M333.0 1205V1187M431.0 1205V1198M529.0 1205V1187M627.0 1205V1198M725.0 1205V1187M823.0 1205V1198M921.0 1205V1187M1019.0 1205V1198M1117.0 1205V1187M1215.0 1205V1198M1313.0 1205V1187M1411.0 1205V1198M1509.0 1205V1187M1607.0 1205V1198M1705.0 1205V1187M1803.0 1205V1198" stroke="#000" stroke-width="10" stroke-linecap="round" fill="none"/>
<g font-family="'Liberation Serif','Times New Roman',serif" fill="#000">
<text x="117.5" y="1285.0" font-size="70" font-weight="bold">0</text>
<text x="294.5" y="1285.0" font-size="70" font-weight="bold">10</text>
<text x="492.0" y="1285.0" font-size="70" font-weight="bold">20</text>
<text x="688.0" y="1285.0" font-size="70" font-weight="bold">30</text>
<text x="885.0" y="1285.0" font-size="70" font-weight="bold">40</text>
<text x="1080.0" y="1285.0" font-size="70" font-weight="bold">50</text>
<text x="1276.5" y="1285.0" font-size="70" font-weight="bold">60</text>
<text x="1471.5" y="1285.0" font-size="70" font-weight="bold">70</text>
<text x="1668.5" y="1285.0" font-size="70" font-weight="bold">80</text>
<text x="1864.5" y="1285.0" font-size="70" font-weight="bold">90</text>
<text x="871.0" y="1407.0" font-size="76" font-weight="bold">2</text>
<text x="934.5" y="1400.0" font-size="75" font-weight="normal">θ</text>
<text x="1003.0" y="1407.0" font-size="76" font-weight="bold">/</text>
<text x="1045.0" y="1413.0" font-size="76" font-weight="bold">deg</text>
<text x="1205.5" y="113.0" font-size="60" font-weight="normal">1</text>
<text x="1240.5" y="103.5" font-size="60" font-weight="normal">—</text>
<text x="1307.5" y="113.0" font-size="60" font-weight="normal">P5</text>
<text x="1589.5" y="114.0" font-size="60" font-weight="normal">2</text>
<text x="1622.5" y="103.5" font-size="60" font-weight="normal">—</text>
<text x="1691.0" y="113.0" font-size="60" font-weight="normal">MgO</text>
<text x="1204.5" y="186.0" font-size="60" font-weight="normal">3</text>
<text x="1240.5" y="177.5" font-size="60" font-weight="normal">—</text>
<text x="1311.5" y="188.0" font-size="60" font-weight="normal">Mg(OH)</text>
<text x="1587.5" y="187.0" font-size="60" font-weight="normal">4</text>
<text x="1622.5" y="177.5" font-size="60" font-weight="normal">—</text>
<text x="1691.0" y="187.0" font-size="60" font-weight="normal">MgCO</text>
<text x="1204.0" y="280.0" font-size="60" font-weight="normal">5</text>
<text x="1240.5" y="269.5" font-size="60" font-weight="normal">—</text>
<text x="1309.0" y="280.0" font-size="60" font-weight="normal">CaCO</text>
<text x="1587.5" y="279.0" font-size="60" font-weight="normal">6</text>
<text x="1622.5" y="269.5" font-size="60" font-weight="normal">—</text>
<text x="1689.5" y="279.0" font-size="60" font-weight="normal">SiO</text>
<text x="1524.5" y="210.0" font-size="35" font-weight="normal">2</text>
<text x="1859.0" y="212.0" font-size="35" font-weight="normal">3</text>
<text x="1461.5" y="302.0" font-size="35" font-weight="normal">3</text>
<text x="1786.5" y="303.0" font-size="35" font-weight="normal">2</text>
<text x="351.5" y="760.0" font-size="58" font-weight="bold">1</text>
<text x="490.0" y="380.0" font-size="58" font-weight="bold">3</text>
<text x="544.5" y="828.0" font-size="58" font-weight="bold">1</text>
<text x="585.0" y="890.0" font-size="58" font-weight="bold">1</text>
<text x="637.0" y="850.0" font-size="58" font-weight="bold">6</text>
<text x="699.0" y="868.0" font-size="58" font-weight="bold">1</text>
<text x="727.0" y="889.0" font-size="58" font-weight="bold">5</text>
<text x="757.0" y="788.0" font-size="58" font-weight="bold">4</text>
<text x="781.0" y="886.0" font-size="58" font-weight="bold">1</text>
<text x="837.0" y="733.0" font-size="58" font-weight="bold">4</text>
<text x="864.0" y="164.0" font-size="58" font-weight="bold">3</text>
<text x="952.5" y="554.0" font-size="58" font-weight="bold">2</text>
<text x="953.0" y="601.0" font-size="58" font-weight="bold">4</text>
<text x="1011.5" y="889.0" font-size="58" font-weight="bold">1</text>
<text x="1033.5" y="851.0" font-size="58" font-weight="bold">4</text>
<text x="1118.0" y="674.0" font-size="58" font-weight="bold">3</text>
<text x="1169.0" y="866.0" font-size="58" font-weight="bold">4</text>
<text x="1270.0" y="686.0" font-size="58" font-weight="bold">3</text>
<text x="1343.5" y="690.0" font-size="58" font-weight="bold">3</text>
<text x="1344.0" y="738.0" font-size="58" font-weight="bold">2</text>
<text x="1456.0" y="862.0" font-size="58" font-weight="bold">3</text>
<text x="1534.5" y="862.0" font-size="58" font-weight="bold">3</text>
<text x="1656.0" y="884.0" font-size="58" font-weight="bold">2</text>
<text x="1708.5" y="899.0" font-size="70" font-weight="bold">120h</text>
<text x="1737.0" y="968.0" font-size="70" font-weight="bold">72h</text>
<text x="1737.0" y="1027.0" font-size="70" font-weight="bold">24h</text>
<text x="1733.5" y="1081.0" font-size="70" font-weight="bold">12h</text>
<text x="1767.0" y="1136.0" font-size="70" font-weight="bold">6h</text>
<text x="1762.5" y="1187.0" font-size="70" font-weight="bold">0h</text>
<text transform="translate(68.0 870.5) rotate(-90)" font-size="73" font-weight="bold">Intensity (a.u.)</text>
</g>
</svg>
</body></html>
